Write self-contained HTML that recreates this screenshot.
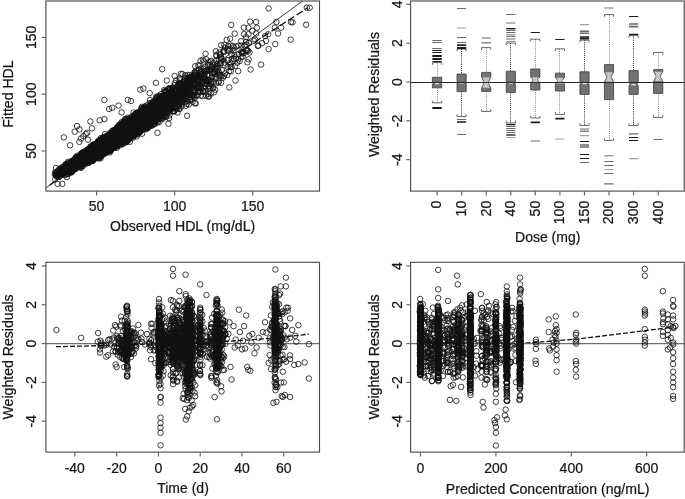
<!DOCTYPE html>
<html><head><meta charset="utf-8"><title>Goodness-of-fit plots</title>
<style>
html,body{margin:0;padding:0;background:#fff;}
body{width:685px;height:499px;overflow:hidden;}
svg{display:block;will-change:transform;opacity:0.999;}
text{font-family:"Liberation Sans",sans-serif;fill:#161616;stroke:#161616;stroke-width:0.22px;}
.pt{fill:none;stroke:none;marker-start:url(#m);marker-mid:url(#m);marker-end:url(#m);}
</style></head><body>
<svg width="685" height="499" viewBox="0 0 685 499">
<defs>
<pattern id="hx" width="2.5" height="2.5" patternUnits="userSpaceOnUse"><rect width="2.5" height="2.5" fill="#ececec"/><path d="M0 0L2.5 2.5M2.5 0L0 2.5" stroke="#808080" stroke-width="0.45"/></pattern>
<marker id="m" markerWidth="8" markerHeight="8" refX="4" refY="4" markerUnits="userSpaceOnUse" overflow="visible"><circle cx="4" cy="4" r="2.75" fill="none" stroke="#101010" stroke-width="0.8"/></marker>
<clipPath id="c1"><rect x="45.9" y="1" width="273.6" height="190.1"/></clipPath>
<clipPath id="c2"><rect x="410.6" y="1" width="273.6" height="190.1"/></clipPath>
<clipPath id="c3"><rect x="45.9" y="262.3" width="273.6" height="189.8"/></clipPath>
<clipPath id="c4"><rect x="410.6" y="262.3" width="273.6" height="189.8"/></clipPath>
</defs>
<rect x="0" y="0" width="685" height="499" fill="#ffffff"/>
<g clip-path="url(#c1)">
<line x1="42" y1="190.8" x2="307.3" y2="-2.4" stroke="#222" stroke-width="0.9"/>
<polyline class="pt" points="137.6,122.6 115.3,135.4 107.8,142.5 188.9,91 257.9,46 88.3,160.2 110.1,144.7 107.1,141.4 96.5,152.7 104.7,141.8 119,130.6 138.6,132.4 124.6,127.3 99.3,154.5 99.3,146.8 131.7,129.4 132.5,125.6 101,151.7 163.7,105 156,112.1 146.6,120 136.8,122.7 80.6,165.7 146.3,120.8 142.7,114.8 87.8,157.7 112.2,107.8 64.1,167.4 84.2,159.6 93.6,155.8 104.1,152.8 73.4,162 123.1,134.9 76.9,166.7 162,104.5 122.9,135.8 138.3,126.8 89.9,155.6 135.1,125.6 69.1,167.4 147.5,107.2 107.1,151 132.6,126.7 116.3,139.9 100.9,148.1 100.2,154 212.2,73.6 115.6,142.4 89.8,158.8 170.6,98.4 194.9,74.5 72.7,162.9 218.2,68.5 63.8,137.4 103.3,140.5 187.3,80.3 120.9,133.5 78.8,162 164.2,101.9 117.7,135 97.9,151.4 142.2,117.3 118.5,134.4 218.9,73 108.8,137.4 66.6,167.7 103.7,149.5 125.9,125.8 129.6,134.2 127.6,130.9 146.7,116.9 91.9,153 131.7,121.7 120.1,127.9 127.9,117.7 121.6,112.4 172.6,99 111.5,139.6 100.8,138.1 125.6,129.3 86.6,153 123.7,134.9 196,84.4 105.8,146.6 156.5,109.8 153.1,122.1 62.1,172.1 175.1,102.9 75.1,161 138.7,115.7 149.3,116.9 110.3,141.8 165.2,97.4 160.3,98.1 101.1,149.1 123.7,121.9 149.7,111.9 130.1,128.5 139.2,126.6 106.8,138.2 152.9,117.1 133.5,136.4 65.5,167.9 158.2,108.7 72.2,167 218.3,71.2 144.8,119.9 107,138.8 138,116.4 109.6,141.9 145.3,127.2 59,176.9 111.4,145.5 88.7,152.2 79.6,164 221.2,76.1 110.6,136.1 84.4,155.4 144.5,113 95.6,154.1 186.5,90.3 105.3,146.4 103.2,145.9 140.3,124.5 137.7,128 106,148.7 130.1,123.8 66.5,164.8 114.2,135 93.1,153.6 110.4,148.7 163.4,103.3 108.6,146.3 209.2,86.5 82,158.7 109.7,138 133.9,134.9 164.5,103.6 130.5,119.5 148.7,119.1 134.2,123.1 156,117.4 79.5,161.8 215.2,89.7 75.6,162 198.2,81.7 137.1,119.6 90.7,154.6 116.4,137.4 139.6,129.3 112.8,137.1 117.3,142.3 150.6,109.9 108.2,150.8 138.8,124.6 86.2,158.4 190.2,82.6 146.3,126.8 140.3,125.3 130.1,135.2 82.8,161.7 203.5,68.8 129.2,129.1 113.6,133.7 167.5,105.4 71.6,161 106.6,145.5 78.9,162.9 108.4,137.1 117.5,145.5 88.7,162.8 65.2,171.1 99,149.4 107.9,135.9 106.5,138.5 120.4,138.7 114.9,133.7 82.3,161 141.9,109.4 227.7,67 154.5,108.9 137.7,133.5 85.1,157.6 180.5,98.7 126.7,128.1 99.5,147 150.8,112.1 105.1,138.1 187.6,82.2 101,149.6 104.1,138.6 309.7,7.7 119.2,132.8 195.2,72.9 139.5,121.5 99.5,147.4 179.7,78.5 104.1,153.4 180.9,83.4 71.2,165.6 141.3,125.5 261.1,64.6 56.1,173.8 128.3,129.8 84.9,154.7 146.1,118.8 126.4,137 115.2,144.9 139.9,127.7 141.4,130.6 181.6,90.3 89.7,149.2 172.2,99 99.9,143.2 151.7,112.6 138.2,129.8 113.9,139.7 155.6,113.9 100.2,142.4 156.5,117.1 124.7,127.7 106,143.4 116.8,138.9 154.1,124.3 176.6,97.4 83.2,155.6 77.3,161 153.9,105.1 101.6,142.5 81.2,155 81,164.2 117.1,133.1 157.5,132.8 117.9,143.7 81.5,159.9 78.9,158.1 108.9,139.4 87.4,155 160.8,103.5 86.9,154.7 115,132.2 95.3,157.5 130.2,121.2 81,153.7 100.5,143.2 133.1,134.7 157.7,106.1 126.7,122.9 154.4,119.3 190.9,78.6 130.9,127.7 117.7,139.3 154.7,114.2 116.9,134.7 110.5,140.4 128,131.5 123,139 111.9,142.4 164.9,112.4 193.6,77.6 151.7,116.9 106.6,144.8 104,144.5 188.6,82.1 102.3,145.4 163,113.1 164.3,90 153.2,112.5 57.7,171.3 77.1,165.3 114.2,139.6 174.8,85.1 138,116.8 122.5,125.1 187.6,74.9 168.1,106.6 86.6,154.5 139.4,124.5 239.6,61.1 107.3,144.6 80.4,156.9 110.4,139.3 72.9,163.8 82.5,158.2 126.8,121 111.4,148.4 150.1,114.2 170.1,103.5 100.1,143.2 72.1,161.5 111.2,145.8 75.8,164.6 68.1,166.9 149.5,116.5 106.4,139.7 123.6,133 153.3,116.9 105.9,151.9 186.2,93.9 147.8,116.7 241.1,41.2 93.3,155.4 118.4,139 93.8,153.6 59.6,174.9 179.2,93.9 153.5,113.7 150.4,113 109.1,109 78.6,162.2 124.3,132 137.3,130.7 228.1,46 118.9,131.8 124,128.7 99.2,156 154.3,112.9 83.4,162.3 168.8,105 127,133.7 201.1,89.1 178.8,96.1 94.5,150.8 97.1,153.8 138.1,118.4 122,135.6 101.6,153.5 89.7,157.6 151.3,119.1 115.3,133 135,123.5 104.3,148.8 119.8,136.1 128,129.9 162.8,118.8 74.8,167.4 128.4,132.6 81,165.1 181.4,102.1 123.4,138.8 62.3,172.2 169.4,92.8 213.3,88.1 82.3,160.2 149.7,93.1 154.4,115.1 79.2,165.3 143,116.2 178.2,98.2 106.4,144.9 81.2,159.6 147.3,116.5 140.2,122.7 90.4,157.5 118.5,137.6 88.5,158.1 102.7,143.9 131.1,125.2 121.9,127.6 140.8,126.8 131.3,131.8 98.3,150.2 165.2,108.4 148.6,117.6 169.8,101.3 161.4,99.5 193.4,87.6 179.1,104.4 111.8,139.3 157,104.1 137,124.6 125.6,131.1 153,106.9 85.9,157.9 121.9,138.4 121.1,136.7 108.8,135.3 123.5,124.4 148.3,125.6 77.6,160 63.5,170.2 92.3,160.4 151.2,123 79.5,159.9 118.5,105.6 173,87.4 91.6,156.7 120.2,128.3 111.7,140 105.2,142.3 75.2,163.4 151.2,124.9 120.3,134.5 111,141.2 181.5,101.9 117.7,135.2 159.3,103.5 68.9,165.3 100.6,146.5 133.8,122 132.3,131.2 124.7,139.5 144.2,120.1 132.7,127.6 242.8,56.5 113.9,140.9 111.2,133.5 247.4,62.3 120.7,131.6 89.2,154.8 66.9,169.1 175.4,97.4 90.9,146.8 100.2,153.5 58.5,175.2 174.7,83 101,147.8 104.2,151.1 116.9,147.8 86.7,158.8 115.4,138.7 181.5,101.5 117.1,131.4 186,87.2 136.5,122.3 145.7,118.7 110.3,147.3 165.4,116.4 174.2,100.9 166.6,107.4 90.1,155.6 156.2,111.7 104.7,147.5 66.4,169.9 138,131.4 101.5,149.8 242.2,52.8 91.2,146.7 194.9,103.3 181,93.7 93.6,149.7 91.7,151.5 138.2,121.4 109.4,137.1 155.9,82.8 71.8,167.7 139.9,129.4 155.2,102.1 112.2,142.3 103.5,147.7 99.5,146 76,168.5 132.3,120 136.7,118.7 84.1,157 165.2,107.6 131.3,128.6 132.1,124.9 160.5,104.6 152,121.2 147.2,115.6 131.8,126.1 139.6,123.9 207.2,81.5 91.6,147.9 103.6,147.7 105.2,142.8 182.3,98.3 76.1,166.3 137.9,134.3 77,163.1 114.1,142 140.9,114.4 109.1,140.9 118.9,124.9 78.8,160.7 122.6,123.4 119.6,135.5 145.4,114.5 102.3,145.2 159.2,111.5 110.7,149.7 151.8,115.3 166.2,92.5 118.1,133 93.7,149.1 99.2,140.8 106.7,147.8 158.7,104.1 150.1,116.6 92.4,154.4 134.2,118.4 87.9,158.5 105.8,138.9 81.3,155.8 230.2,48.9 94.2,145.4 188.7,84.9 70.3,167.6 93.4,156.5 57.7,173.2 116.4,135.9 70.8,172.1 109.9,142.3 70.6,166 157.9,109.1 143.2,120.2 128.7,130.3 160,109.2 118,136.9 174.2,97.7 85.9,153.9 121.5,139 80.2,161.5 92.4,153.6 70,167.2 144.7,128.4 116.9,142.5 114.7,141.9 137.8,116.9 135.2,122 115.6,134.5 130.9,128.2 137,130 92.7,145.4 129.3,126.1 143.6,116.5 117,131.1 172.2,88.3 215.4,70.6 112.6,142.6 256.1,33.5 120.9,128.4 107.1,147 68.1,169.4 109.5,138.7 64.3,174.4 168.2,95.7 140.2,126.6 104.7,144.5 98.1,153.5 221.4,59 138.5,127.9 156.7,98.6 74.1,159.9 234.5,55.3 114.4,132.1 119.3,132 80,161.3 141.3,115.4 179.6,89.9 156.7,112.3 165.2,96.1 83.1,154.3 141.1,111.3 106.8,142.7 90.3,148.6 143.4,114.9 142.9,122.7 104.4,147.8 230.8,45.5 109.3,135.9 120.5,142.1 88.3,153.1 231.2,24.9 130.3,136.4 190.2,93 120.1,136.5 115,143.4 71.7,161.7 98.6,152.4 100.1,153.2 118.1,138.4 91.5,147.1 151.7,107.5 179.6,80.3 91.2,151.4 204.8,67.4 192.2,88.7 151.5,115.7 132,131.1 103.5,144.3 179.5,96.9 113.7,134.6 106,151 98.2,149.7 120.4,136.5 145.8,116.3 67.9,173.9 151.6,109.5 109.4,141.6 85.2,159.7 143.9,128.1 166.7,101.1 105.1,150 102,143.9 103.7,143 117.6,138.4 118.1,128.9 78.6,159.2 241.3,57 106.2,145.9 150.4,124.4 143.6,116.8 103.7,151.4 74,163.7 112.7,139.3 172.9,96.7 113.4,136.5 126.6,128.7 85.2,156.8 98.7,154.3 155.3,104.4 128.4,123.1 166.4,102.3 117.5,136 130.3,120.8 187.1,115.8 136.7,122.6 84.2,151.9 133.9,132 75.8,165.9 96.7,149.2 95.3,152.9 151.4,119.4 161.7,98.1 121,130.9 62.3,174.9 89.4,151 123.9,130.1 132,134.9 120.6,131.2 141,118 69.7,168.1 81.2,159.3 101.5,146.1 98.8,143.8 133.7,116.7 170.2,93.6 95.4,152.1 81,163.5 70.4,171.1 110.8,141 166,106 107.6,136 80,161.5 83.8,157.9 107.4,150 101.2,139.2 89.6,157.6 126.7,121.7 104.1,144.6 119.4,133.5 83.5,161.2 85.1,159.2 110.1,138.2 123.7,129.5 124.7,139.5 109,147.7 56.2,173.4 171.3,109 167.9,102.2 70,166.4 253.9,40.8 71.2,164.2 78.8,163 132.2,130.4 149.3,114.7 145,122.7 119.9,133.9 136.4,122.3 151,125.6 116.8,132 147.3,120.1 123.1,132.5 110.7,137 93.1,155.3 165.8,104 189.9,78.1 120.1,130.6 81,160.5 119,136.5 130.9,126.5 160.6,99.8 112.7,138 150.8,109.7 98,144.5 149.2,121.9 78.6,157.7 69.9,168.6 89.7,150.7 156.1,104.9 109,147 102.6,153 146.7,110.4 135.3,128.7 217.5,65.9 139.8,116.1 69.1,165.3 58.1,170.5 76.3,163.3 93.7,157 200.4,87.8 86.3,158.6 121.8,125.3 176.2,80.4 89.2,155 235,66.2 143.4,114.2 152.6,121.2 85.4,152.2 106.8,142.9 110.2,140.7 98.4,148.9 86,154.9 77.2,166.7 105,143.3 140.9,123.6 86.4,158.1 130.4,124.7 174.3,101.6 137.4,118.2 114.3,135.1 139.8,120.7 182.3,99.3 149.7,110.9 194.9,82.7 139.5,118 120.1,134.4 108.4,146.2 139.9,121 166.5,116.7 90.1,157.5 89.3,155 79.6,159.7 145,122.3 179.7,108.8 207.4,79.9 120.6,135.8 86.7,153.9 116.7,136.7 99.9,143 102.6,146.8 111.7,142.9 84,157.5 156.9,116.9 94.5,150.8 183.8,81 111.8,148.5 135,129.5 193.8,90 132.1,132.1 71.9,162.2 168.4,123.7 173.9,97.5 140.1,128.5 95.1,155.6 141.3,121.7 155,118 178.5,106.5 154.3,108.1 65.5,164.2 78.7,161.1 141.3,111.2 116.7,134.5 182.8,93.6 139.2,129.8 107.2,146.5 227.7,60.3 217.6,64.1 88.5,156.9 117.8,138.1 238.8,54 93.9,148.9 164.7,101.2 116.3,137.8 120.1,132 175.8,104.3 124.9,129.8 98.9,153.5 123.3,133 129,136.7 106,140.5 130.4,127.5 135.5,125.7 130.3,130 172.2,101.8 119.3,128.3 144,128.5 131.5,129.9 147.2,111.6 105.5,141 94.7,146.9 131.9,131.1 102.7,145.8 82.8,162 198.3,65.3 63,173.6 126.3,120.5 99.1,157.4 146.7,120.6 110.6,141.8 105,137.7 248.4,34.2 129.2,135.5 146.8,128.1 113.8,138.3 94,153.5 115.3,131.7 128.9,138.7 103.3,145.5 175.1,103.9 244,27.6 63.7,171.5 119,138 166.5,111 117.4,141.2 93.7,154.8 128.5,129.4 120,132.1 102.6,147.4 136.9,116.5 112.2,145.5 170.3,111.3 68.4,164.4 81,164.8 164.7,91.6 92.8,148.1 145.1,124.6 101.6,148.3 126.3,131.5 135.1,114.1 199.8,76.8 72.3,171.5 101.5,148.5 123.4,140.3 131.2,133 125.3,130.1 102.6,139.9 86.7,158.3 163.5,99.8 131.5,134.4 83.3,159 156.2,103.3 140.9,125.9 156.6,113.9 143.4,126.7 120.4,136 86.6,160.3 138,121.4 197.5,80 104,151.2 79,165.7 131,128.2 216.4,67 75.1,163.6 223.5,51.5 137.3,121.8 91.3,159.5 80.1,161 117.3,134.1 92.3,153.7 82.2,162.6 93.3,146.1 142.6,121.7 110.7,140.8 55.2,172.6 133.2,121.3 102.9,146.9 99,147.6 156.8,99.6 133,123.7 143.7,117.7 55.2,179.4 90.4,157.3 141.9,109.7 117,128 121.3,129.9 206,95.7 104.1,153.3 154.8,106.3 92.9,144.8 126.8,128.4 215.2,76.5 161.5,114.1 55.5,172.5 156.9,114.2 162.7,101.6 80.8,159 105.2,137.7 306.8,7.7 179.5,99.4 161.9,112.4 89.4,161.9 68.8,162.8 131.9,127.5 121.7,131.3 90,154.6 114.9,138.6 67.5,167.5 101.7,153.7 123.8,132.3 138.3,123.8 132,124.6 156.7,118.1 173,101.1 102.9,137.5 145.8,120.2 91,159 96.5,149.2 80.2,164.4 100.3,148.8 106.9,151.8 86,155.3 113.9,141.4 112.8,146.7 210.8,82.9 142.5,121.8 133.8,128.4 160.6,102.2 77.6,166.4 104.3,142.9 87.8,152 75.2,163.3 117.4,131.3 103.9,143 116.8,135.1 180.9,73.8 83.8,160.5 153.6,117 59.5,171.2 120.3,130.6 130.6,137 82.5,160.4 106.8,141.7 70.8,164.5 128.8,125 111.3,141.2 81,156.4 149.6,111 166,101.9 70.5,165.6 164.1,110.1 61.8,174.4 119.5,136.4 84,157.9 110.7,141.8 95.4,145.9 84.3,163.3 162.8,105.7 106.8,145.9 82.6,157 143.5,115.2 103,143.8 156.2,113.4 121.8,139.7 138.7,119.4 104.4,145.3 127.8,131.8 152,111.7 135.6,125.6 104.7,153.7 119.9,138.8 90.8,153.2 156.8,118.5 129.6,136.6 187.9,89.4 80.1,165.4 216.3,55.1 114.1,131 128.1,132.4 108.7,141.2 113.9,144.2 155.5,115.5 250.6,69.5 134,122 123.2,130.3 176.9,96.3 94.8,146.9 66.1,168.7 128.9,118.7 154.5,112.9 184.1,94.9 118.6,139.5 122.5,133.4 90.9,157.1 84.3,161.4 176.2,101.9 72.9,168.8 149.9,114.7 196.3,72.8 69,167.5 84.6,157 144.3,121.4 93.8,154.5 140,115.6 86.7,150.1 114.5,143.2 122.9,136.3 146.3,113.4 151.1,118.2 103.3,142.4 154.6,116.4 104.5,149.4 172.4,101.9 126.4,129 135.3,122.7 116.1,135.4 168.1,101.7 227.3,49.9 188.9,82.7 107.7,136.7 114.1,137.5 106.5,142.8 96.5,151.4 121.2,139.5 172.3,103.4 118.9,144.2 117.9,139.1 102,154.9 80.5,155.3 77.6,162.8 113,138.3 108.4,139.8 120.4,126.2 109.1,135.6 91.3,151.3 119.8,129.5 86.6,155.3 129.2,126.8 83.8,157.8 178.3,87.1 134.9,128.5 57.6,173.9 102.4,148.1 96,151.5 116.5,141.1 84.2,160.4 121.9,137.8 91.9,152.7 96.3,154.2 120.9,135.3 100.2,150.3 172,96.3 139,121.9 132.2,116.2 104.6,141.9 138.8,117.3 103.2,143.4 126.2,131.3 113.2,145 134.4,131.7 121.8,124.3 162.9,104.4 101.1,142.7 77.7,160.3 57.4,176.9 127.2,123.3 102.4,150.6 152.5,111.2 173.3,94.6 102.3,147.9 122.6,141.1 102,142.9 71.8,171.8 96,154.5 61.4,171.6 154.8,114.7 248.4,27.7 57.6,183.9 126.1,138.9 138,114.4 97.1,149.3 134.4,120.9 186.5,88.9 148.1,119.5 139.6,129 104.4,145.5 178.5,96.3 143.7,122.9 92.2,150.5 138.8,117.5 161.4,96.3 97.1,155.5 107.6,144.3 104.5,144.8 131.1,125.6 114.6,131.3 80,159.6 144.1,107.6 136.3,120.4 150.3,110.9 96.2,153.8 107,146.3 128.9,125.4 163.6,105.6 151.4,125.8 99,146.4 147.7,117.4 158.1,113.3 95.1,154 142.2,118.5 146.8,116.2 201.2,81.9 125.9,124.4 145.4,117.3 127.5,128.9 111.6,148.2 112.3,138.6 205.2,91.1 154.7,123.9 91.4,156.3 93.6,147.2 117.8,133.3 93.1,146.2 82.5,160.7 89.4,161.9 121.7,140.4 178.3,96.8 130.3,126 174.9,94.6 151,115.7 134.9,133.3 118.1,131.2 116.2,140 119.1,137.4 135.3,124.2 111.3,143 198,81.4 100.7,146 164.5,98.2 144.6,108.5 216.9,64.4 126.3,127.2 107.1,145.6 158.1,114.5 109.5,147.5 108.6,140.1 76.5,162.2 159.9,110.5 121.5,137.3 128.7,123 144.7,115 100.4,152.8 75.9,161.5 90.5,154.1 85.4,159.1 143.9,128.9 94.1,153.4 141.9,125.4 152.7,109.6 130.3,132.9 138.1,126.9 112.7,141.1 144.2,124.1 153.6,114.7 104.1,153.2 188.8,91.3 110.9,134.7 201.5,74.6 123.8,133.1 120.9,139.3 88.5,153.1 106.7,149.9 103,145 91.2,154.6 174.4,99.3 126.5,125.7 96.6,153.1 84,162 108.4,139.2 155.5,110.1 69.4,167.8 150.1,120.7 174.4,111.3 203.7,88.4 115.9,135.9 139.3,126.8 113,138.2 141.1,115.7 78,166.9 92.7,151.7 109.8,142.7 129.9,125.6 144.7,121.8 128.1,124.4 184.2,82 122.4,133.8 182.3,84.3 71.5,171 92.7,151.1 133.4,126.1 85.4,157 121.3,136.3 90.3,152.6 90.2,151.9 162.2,108.9 181.6,106.6 104.9,148.4 116.6,135.7 101.9,145.8 140.2,128.6 138.3,131.5 122.5,133.1 119.4,133 92.3,160.7 112.2,130.9 131.9,127.9 95,149.6 114.6,138.7 117.6,131.5 99.3,144.2 101.8,151.9 137.3,130.8 168.2,104.6 124.1,131.5 70.6,163.7 127.6,137.9 72.1,171.3 91.1,160.8 101.6,147.3 106.9,144.1 140.8,124.5 105.9,141.4 145.1,112.6 130.3,132.2 85.9,160 163.8,107.6 88.3,155.4 265.1,36.1 139,115.8 109.9,144.8 126.7,142.1 127,122.9 92,151.8 100.4,151.7 145.9,118.6 128.7,127.9 118.3,128.6 159.5,102.5 109.1,138.5 151.3,111.3 100.6,149.3 61.8,170.1 95.5,155.4 131.1,121 110.8,148.5 81.3,160.6 228.2,50.6 114.5,140.1 126.8,136.1 156.1,113.7 290.9,22 134,119.4 111.6,146.1 54.9,174.7 160.6,116.7 102.9,146.5 83.3,153.6 190.1,100 139.6,114 108.2,144.3 118.8,134.6 117,128.1 78.1,160.1 131.8,127 136.4,126.6 131.3,127.4 109.2,151.5 110.9,140.6 74,161.1 86.9,155.7 113.6,143 84.4,160.3 143.9,110.7 71.8,168.2 118.1,140.5 185.8,105.8 153.8,118.1 98.7,151.4 119.8,131.1 99,143 125.1,121.9 83.2,155.6 120.6,140.4 94.6,152.2 95.9,152.7 76.1,165.7 161.8,108.2 120,132.9 129.2,120.1 209.3,86 115.7,146.4 122.1,139.7 105.3,138 111.9,142.5 130,132.4 113.5,136.7 160.4,112.1 93.3,151.8 83.1,163.2 75.4,161 96.8,149.9 89.7,155.1 100.6,145 115.3,140 145.8,127.4 86.7,157.2 130.3,135.6 129.9,136.2 132.4,125.5 117.5,137.4 155,107.6 91.6,155.7 108.9,145.4 172.5,93.6 85.3,157.4 147.9,118.7 131.6,136.8 176.1,102.1 106.5,136.6 86,152.3 83.2,162.6 118.1,130 141.3,115.1 76.8,166 133.9,118.1 98,148.7 168.1,109.1 219.8,54.8 149.9,114.2 71.9,167.7 158.3,113.4 143.9,116.2 75.1,168.7 175.5,99.3 130.8,127.8 85.9,154.2 199.6,75.3 135.5,127.5 117.7,132 96.8,150.6 141.9,126.2 136.1,115.1 154.6,109.7 69.3,168.5 68.4,165.7 139,116.6 100.2,140.6 149.7,103.2 134.9,121.4 132.5,130.9 167.1,104.1 98.6,149.7 184.1,88.8 91.3,149.7 74.6,165 123.1,140.1 166.9,100.9 96.1,155 89.7,155.9 164.6,95.5 68.2,171.7 172.9,111.2 117.7,134.3 152.7,104.5 98,150.8 68.1,170.5 89.7,157.7 97.6,150.3 160.8,96 120.3,137.7 68.1,161.8 115.8,139.2 123.2,136.3 141,127.6 83.8,160.5 121.1,134.1 129.7,132.2 110.9,145.4 121.6,122.2 128.6,128.4 114.3,139.2 135.7,118.5 165.3,110.4 87.9,155.3 110.9,142.5 193.9,83.8 155.5,115.8 94.8,145.1 117.5,136.5 88.3,162.8 92.5,154.6 104.5,144.6 104.5,149.3 150.5,109.2 244.8,45.6 126.3,132.4 99.9,140.1 77.7,163.9 106.3,138.2 133.7,124 72.5,169.2 145,127.2 85.8,160.8 145.5,121.5 81,138.5 152.9,121.8 121.1,139.3 56.2,174.7 91.2,152.7 129.3,131.6 132.6,132.3 81.3,154.5 97.6,146.7 81.4,164.3 56.6,174.2 119.8,125 101.3,146.5 80.1,164.6 74.8,164.6 113.4,145.9 126.7,139.2 121.1,135.9 150.6,120.5 125.3,128.1 218.5,82.6 172,104 162.3,100.4 139.4,118.9 147.7,116.7 105.3,138.5 106.8,148.3 96.2,154.9 126.3,131.5 95.2,153.5 95.2,153.8 137.1,112.6 70.8,166.3 194.3,73 71.4,164.2 156.7,97.9 111.5,144.2 180.3,87.5 105.3,143.7 125.7,124.6 97.3,147.2 108.8,144.9 130.1,133.4 111.2,149.2 87.7,156.8 138.6,121.4 99.1,146.9 76.8,158.3 56.2,175.7 161.2,116.4 141.2,119.8 69.6,165.9 186.9,103.9 88.7,156.4 167.6,95.3 159.4,97.5 77.9,159.8 136.8,118.2 140.6,111.5 165.8,100.7 250.1,21.6 179.1,104.4 136,120 135.7,120.3 135.7,124.9 202.9,90.8 127.1,128.4 76.7,166.2 168.3,89 79.4,164.8 135.1,124.5 104.5,137.1 108.9,142.3 88.2,155.4 185.9,89.4 120.7,128 128.4,128.4 126.4,121 121,131.8 82,158.1 166.3,105.8 112.8,131.2 75.2,163.8 88.8,156.3 151.5,106.8 70.1,167.5 94.3,150.1 170,103.1 130.8,132.5 148.1,116 126.2,133.6 126,128.1 112.7,137.9 102.2,149.4 77.7,159.1 110.1,141.9 71.7,170.7 84.2,154.4 105.8,151.4 136.8,129.3 135,114.5 69.1,164.8 152.4,107.8 91.4,154.1 190.1,99.6 185.6,90.3 88.9,156.7 128,133.3 216.3,83.2 103.8,145.3 96,149.3 85.4,158.9 157,112.7 143.4,88.5 89.9,151.8 137.4,118 143.5,121.3 93.5,153.7 143.3,124.8 110.8,142 84.6,163.5 106.8,135.9 111.4,137.5 190.5,77.9 96.2,148 99.6,142.6 159.2,117.1 134.6,123 205.3,78.7 140.7,118.2 85,155.7 117.8,135 98.8,145.9 82.8,160.8 165,101 144.8,124.4 155.5,106.5 83.7,160 134.6,127.7 174.2,88.8 64.8,171.3 147,114.9 204.4,77 175.6,103.1 219.8,75 96.7,154.6 110.3,150.1 115.2,134.1 113,146.6 86.9,158.8 101.7,151.8 139.9,120.6 120.9,134.2 135.4,127.7 125.5,131.6 86,158.4 148.8,111 128.4,132.8 113.2,138.7 79.9,158.4 107.2,145.7 118.1,137.3 115.3,138.6 115.2,144.4 211.1,69.4 169.3,99.7 100.5,158.3 117,139 126,135.3 149.8,121.6 94,151.4 81.6,158.8 88.6,150.4 110.9,140.9 196.8,88.6 171.3,102 115.5,136.4 160.7,98.7 61.4,174.5 135.4,125.2 152,113.7 134.6,128.6 131.9,122.2 97,150.3 141.9,122.5 131.3,123.5 107.6,146.5 126.9,127.2 78.7,163.2 146.8,118.2 152,107.4 108.2,140.6 95.4,153.7 133.2,123.4 121.3,140.3 118.9,135.7 96.7,148.9 124.7,136.4 126.9,131.4 162.9,102.2 72.9,167.4 203.8,83.4 140.7,125 67.5,167 106.4,145.1 103.5,150.3 140.7,121.7 133.2,131.8 126.5,129.2 230.1,38.7 86.9,150.4 89.2,156.3 136.8,124.3 106.3,144.3 83.9,161.5 173.4,88.4 118.6,136.8 143.9,125.9 129.4,124.6 118.3,136.5 183.1,88.6 142.6,110.9 82.6,155 93.7,148.9 95,158.5 146.5,113 90.2,148.5 100.1,150.2 156.9,106.4 96.8,151.4 106.4,146.6 146.1,125.9 142.4,114.8 161.8,114.9 129,139.3 77.1,163.5 148.6,125.5 110.6,139.9 132.3,118.6 149.3,119.8 75.1,165.6 93.5,145 91.3,147.4 123.6,141.8 127.1,129.5 123.5,127.9 99.2,143.7 139,124.2 88.4,156.6 128.8,132.3 151.5,109.9 124.7,124.4 153.1,116.3 138.8,117.3 115.1,131.8 81.3,159.5 114.4,143.1 124.1,132.1 106.5,147.1 65.3,168.5 141.1,118.7 131.2,126.2 178.6,97.9 95,149.8 126.1,128.6 118.1,128.1 144.9,108.9 80.9,161.1 119.4,142 208.2,96.5 199.9,90.5 102.7,148.2 130.4,133.6 103.4,153 202.3,82.5 112.3,144.9 132,127.4 115.1,141.2 127.9,120.4 100.5,149.2 115.3,144 112.7,148.1 122.3,130.6 78.4,160.4 144,123.7 102.6,140.9 101.6,149.6 94.3,144.4 115.6,137.3 201.2,79.4 167.5,106.8 178.4,88.2 73.7,163.5 119.1,133.9 101.8,149 110.4,142.3 130.2,127.3 109.6,138.4 121,130.4 76.1,163.3 124.1,130.6 124.9,133.5 110.3,147 131.9,125.8 209.1,70 80.6,161.6 178.5,84.7 138.2,125.1 121.1,134.6 123.6,134.1 158.3,98.1 176.8,94.4 96.1,148.9 160.7,109.9 193.7,85.8 107.1,147.7 152.9,124.7 141.7,115.3 112.6,140.9 135.1,126.9 120.7,134.2 99.1,152.9 148.9,112.3 141.1,116.9 116.6,133.6 130.5,134.6 71.8,166.4 63.1,171.9 136.7,136.4 191.1,98.6 128.3,130.6 159.7,106.4 60.3,171.3 109.6,147.4 159.8,103.1 88,152.9 72.4,164.6 111.4,135.8 137.7,124.9 137.7,123.3 88.6,150.5 152.6,115.8 166.3,92.6 144.5,120.1 92.8,159.8 87.1,163.2 123.3,136 171,100 77,164.4 182.5,74.1 83.3,136.2 133.4,133.1 124.2,132.7 187,82.9 74.4,168.7 82.6,159.6 77.7,161.9 108.9,144.1 102.9,147 75.9,157.5 97.9,156.9 77.3,155.7 96.7,153.3 108.3,137.1 85.7,156.1 210,64.8 95.4,146.6 103.7,140.2 95.5,156.3 84.5,158.7 110.1,145.9 121.5,123.3 87.2,154.6 109.7,137.7 138.1,130.4 130.1,134.6 118.8,135.2 130.2,121.2 120,134.3 119.5,138 177.6,112.5 91.1,157.9 138.8,125.5 179.8,82.8 215.9,78.7 169.2,105.3 138.3,119.3 151.4,115.5 73,163.4 177.1,101.2 177.8,95.2 125.6,132.7 111.1,136.2 93.3,152.7 99.9,152.4 147.4,120.1 156.3,102.4 59.4,172.4 129.9,123.1 74.4,166.8 92,155.9 56.8,175.4 127.4,130.6 67.6,167.8 156.2,103.6 121,132 169.6,108.9 197.6,84.5 93.4,149.2 162.2,115 127.4,128.3 80.2,157.1 88.3,153.2 125.2,125.9 211.9,77 120.9,133.8 147.2,116.9 221,56.6 79.7,160.9 221.1,82.7 116.7,145.8 98.8,141.5 179.9,95.2 169.4,115.4 108,144.1 167.6,100 218.8,59 122.2,136.2 195,84.5 150.1,116.5 215.6,69.1 113.5,139.8 116.1,135.4 126.5,123.7 103.8,140.4 101,142.5 57.4,177 193.2,78.9 131.4,128.9 105,146.9 92.1,147.9 113.4,135.9 78.3,160.1 195.1,85.8 233.6,50.4 118.5,137.4 130.5,127.4 153,115.1 78,158.6 132.3,130.9 159.6,114.2 120.2,138.4 130.4,120.4 157,118.9 101.3,146.8 137.2,118.3 110.5,137.5 182.7,82.7 94.3,158.4 169.2,98.7 110.6,150.5 76.9,158.4 113.2,138.8 107.5,145.5 92,155.9 100.9,144.7 162.2,117.9 98.8,140.8 126.9,134.3 99.6,148 119.9,138.3 149.2,115.1 128.4,140.2 77,162.5 124,125.2 139,117.7 129.7,130.8 101.4,140.6 92.8,157.7 154,114 131.3,136.7 99.7,140.1 125.1,134.8 65.4,170 113.9,144.5 141.2,113.6 98.9,141.8 121.9,134 91.9,158 174.4,99.7 108.1,146.8 121.3,138.2 152.5,117 132.4,136.1 117.2,145.2 202.7,96.1 156.1,115.3 101.2,147.2 88.8,159.8 138.5,124.6 156.3,106.6 91,157 109.7,133.1 79.4,159.1 71.2,165.9 106.6,136.4 126,128.5 74.7,160.9 77.3,164.7 88.9,160.8 152.6,102.4 87.2,132.8 114.8,139.8 134.3,125 80.5,160.2 115.2,139.8 158.7,103.2 210.3,87.9 128.9,130.2 73.8,162.8 114.1,134 113.4,145.1 136.1,124.3 129.3,126.9 198.3,83.5 72.1,162.7 195,80.1 122.1,129.8 141.4,114.6 98,150.3 84.6,160.4 150.3,107.2 116.4,138.1 162.2,69.2 155.7,106.1 100.1,150.9 107.5,140.6 118.9,134.2 152.1,108.9 101.8,142.2 211.6,77.1 91.9,151.3 169,88.9 174.1,93.6 157,108.1 123.7,127.7 94.3,149.3 60.2,169.9 102.7,144.4 109.5,134.5 156.3,106.2 163.5,113.3 121.9,133.4 141.6,122.9 169,118.2 119.1,139.1 94.5,146.2 143.5,120.3 112.3,140.8 109.6,144.3 163.2,102.6 246.2,41.9 100.8,148.4 127.5,124.8 246,50.3 155.1,110.9 149.2,109.1 121.1,139.2 90.4,153.7 148.8,116.2 80.4,159.3 140.3,126.9 128.8,123.7 114.7,134.4 90.2,158.6 138.8,124.7 134.3,120.2 142.9,115.2 127,129.3 179.8,92.3 162.8,106.1 125.4,135.8 114.2,134.6 117.5,127.6 96.3,146.4 156.1,96.9 116.8,130.3 64.8,168.1 111.5,147.8 131.4,120.2 113.5,144.6 130.8,128.5 78.9,160.8 117.8,132.1 90.8,153.3 100,140.4 94.6,151.3 143.9,125.7 132.9,126.6 114.4,135.8 87.1,156.1 190,79 95.7,147.1 168.6,101.3 121.1,136.1 123,128.8 122.4,143.3 121.8,136.1 145.8,116.4 120.4,137.5 125.7,131.1 190.7,94.2 70.9,167.2 136.9,124.3 103.3,145.1 113.3,143 159.6,113.3 101.5,150 87.2,157.8 147.4,115.6 166.8,80.6 134.8,116.6 160.5,108.3 93.8,154 87.3,151 135,126.1 200.3,71.7 57.5,176.3 92.8,155.7 126.7,135.7 118.8,131.8 132.6,124.8 145.1,120.3 148.1,113.8 150.1,119.5 109.8,144.3 92.5,153.3 146.3,112.3 131.7,119.6 242.6,53.6 77.1,161.7 120.2,132.4 138.3,116.8 206.2,59.4 134.5,128.5 102.1,145.7 169.8,105.9 138.5,123.8 192.6,101.8 157.8,109.8 204.9,73.7 131.5,130.5 208.3,88.7 133.4,130.2 106.8,143.7 101.3,147.5 90,156 187.5,101.1 114.8,139.6 123.6,132 112.5,139.3 144.6,113.2 71.8,163.2 138.8,124.2 64.7,168.7 97.2,157.4 152.3,115.7 152.5,113.8 164.3,111.5 124.5,120.6 154,115.8 80.7,161 196.3,75.6 94.9,149.1 107.9,148.7 139.1,114.2 126.1,124 159,105.5 62.3,183.9 139.8,120.7 63.1,170.5 105.1,144 116.6,134.6 120.1,133.1 214.3,72.1 142.5,125.3 203.3,91.8 168.5,92.9 167.8,98.7 96.7,146.3 72.5,162.8 144.8,116.3 149.8,118.4 133.1,127.3 157.2,110 113.5,135.9 103.7,153.2 246.5,44.7 108.2,140.6 116.8,131.8 98.7,147.3 107,145.3 96.6,156.7 67.9,169.9 161.9,97.1 107.5,142.3 91.7,153.3 211.6,69.1 57.7,172.9 126.3,133.3 143.4,117.9 68.4,166.9 85.4,154.5 179.6,91.7 172.3,93.1 69.2,168.9 148.4,122.1 90.3,153.7 82.8,152.8 201.8,71.6 108.7,142.1 88.7,156.8 129.1,130.4 102.8,143.6 135.3,117.1 99.4,146.6 109.9,152.4 97.8,145.6 172.1,101.2 88.1,159.2 132.1,133.9 123.4,127.8 110.6,150.8 154.3,109.2 124.5,140.1 125,131.2 193.4,94.4 160.5,110 122.3,128.5 114.6,140.9 110.1,143.4 177.6,86.8 141.9,122.2 140.5,120.2 144,123.7 184.7,94.4 128.1,137.8 88.3,153.1 208.6,69.9 178.1,86.1 94.4,157.2 117.9,141 142.5,127.4 109.9,146.3 187.7,92.4 132.9,121.5 76.3,161.6 124.4,124.4 134.7,125.5 154.3,119 117.2,138.6 127.5,131.6 70.1,166.9 151.8,116.3 201.2,85.3 165.7,103.1 86,162 145,126.4 92.1,153.4 107.8,143.4 90.9,155 92.4,151.1 99.9,148.5 139.6,126.9 187.5,99.6 92.1,153.7 85.3,158.3 113.9,142.1 134.9,135.2 68.7,169.1 89.7,156.6 102.9,149.2 164.2,103.4 107.9,141.1 140.4,123.2 106,144.6 88,156.1 126,138 97.1,146.7 146.8,117.5 75.2,169.2 109.3,136 151.9,110.9 87.2,154.4 77.3,162.4 179.3,96.5 104.9,147.3 163.4,101.5 86.4,155.1 60.2,170.8 160.5,117.3 111.1,140.7 170.1,100.5 115,136.9 164.5,91.9 74.1,163.8 177.7,99.8 140.3,89.7 115.4,141.5 169.5,94.9 111.7,135.9 201,68.5 119.1,130.6 120.9,130.6 135.6,132.3 107.7,142.4 134.5,121.9 154.1,119.5 109.1,142.8 91.3,159.7 129.2,132.7 149.9,106.9 138.1,118.3 182,88.5 146.3,128.2 99.2,146.3 65.8,172 131.7,122.1 61.9,170.4 127.7,124.2 79.5,156.8 116.7,137 85.6,161.6 95.8,150.3 94.8,151.7 120.4,136.9 76.9,160.7 100.1,143.3 132.1,127.6 172.6,101.9 81.8,159.5 98.4,147.1 80.6,160.5 101.5,148.4 122.5,135.4 268.2,34.2 156.2,100.7 126.5,128.8 166.9,100.7 149.3,111.4 117.7,139.5 248.7,42.8 152.6,104.6 172.3,108.3 188.8,78.5 112.5,137.8 120,145.4 172.4,89.5 80.9,158.8 149.4,115.3 201.5,76.8 114.2,144.6 71.3,166.6 117.9,141.4 110.1,134.6 100.4,145.2 135,124.5 92.5,145.5 141.9,119.4 143.6,110.1 248.6,59.3 140,132.3 129.8,132 88.2,148.9 133.9,128.5 159.2,108.9 118,138.8 166.9,108.4 205.5,53.8 142.6,117.6 117.6,142.5 211.2,60.8 146.3,115.2 164.3,99.7 152.6,116.8 98.5,146.8 121.3,134.9 151.8,120.3 148.1,126.6 146.8,123.6 91,154.8 144.2,126 89.7,149.5 128.2,122.4 60.8,172 200.6,83.4 93.7,145.7 133.2,118.2 149.1,115.5 135.3,116.1 210.8,93.5 99,147.5 126.2,135.8 129.2,131.6 93.8,152.6 126.5,122.7 150.4,112.6 143.3,117.3 134.8,130.6 84,151.8 87.1,155.3 162.8,103.3 122.7,132.6 132.5,134.5 118.1,141.2 218.7,81.5 160.1,107.2 230.8,71.3 106.8,149.4 149.1,107.9 82.6,156.3 123.1,135.1 159.7,106.7 187.8,77.9 145.9,117.2 162.8,111.7 59.2,173.7 187.7,79.3 135.7,119.2 107.5,145.9 92,145.9 90.5,158.1 163.7,101.5 82.2,155.5 135.6,122.4 95.2,156.4 67.4,169.4 92.3,153.4 80.5,165.7 193.2,79.4 142,106.8 105,143.8 146,125 203.7,81.5 116.6,135.3 115.5,136.6 119,129.9 148.8,121 88.6,158.5 123,139.8 62.8,173.3 62.5,169.5 83.6,152.4 123.2,133.4 146.4,114.2 102.2,150.6 112.9,133.3 118.4,131.7 129.5,127.1 73,165.3 145.6,126.1 56.5,173.5 144.1,119.6 105.5,146.2 125.7,138.4 106.4,147.3 113,141.4 114.8,138.8 126.5,135.1 141.4,123.4 133.5,117.6 106.1,149.2 72.2,163.9 93.1,149.9 104.3,143.3 132.6,121.5 84.9,160.7 134.6,116.2 82.7,162.5 93.2,160 98.1,146.4 112.7,140.8 124.3,128.3 144.3,128.1 126.3,125 188,83 92.7,150.4 130.3,127.3 106.5,143.8 128.5,131.4 171.9,107.8 160.7,99.8 90.4,156.8 107.3,141.6 92.9,156.8 125.2,125.9 152.4,112.8 173.1,96 181.5,89.8 174,106.8 87.6,150.9 136.4,122.9 114.6,145.7 132.6,128.4 124.2,138.9 119.1,133.2 72.2,161.9 90.5,148.1 127.9,137.3 102,149.5 242.6,52.3 128.5,121.1 119.3,143.7 76.3,159 141.2,125.2 126.1,142 121.9,132.3 112.5,142.2 108.1,147.5 204,75.7 107.3,142.2 189.9,85.4 119.1,136.2 151,104.9 180.5,83.9 61.1,168 96.7,154.3 159.5,109.9 165.8,94.4 121.5,133.2 62.3,169.1 121.4,131.1 113.9,136.3 119.4,133.2 100.9,153.1 143,118.3 122,136.5 194.5,79.7 151.8,112.4 119.9,137.9 99.8,152.4 107.5,136.2 181.2,101.2 133,131.4 158.6,95.9 149,111.7 106.6,139.8 106.2,148.9 111.2,137.6 133.5,119.7 86.1,157.7 82.7,154.5 80.9,156.7 111.4,137 129.8,141.8 165.9,97.9 83.7,154.5 106.8,144.4 157.6,114.7 166.2,112.6 139.9,121.7 157.6,111.9 64.1,166.5 132.3,127.6 158.8,115.7 98.7,144.4 121.1,136.9 231.7,67 209.7,80.1 119,127.8 95.5,150 110.4,150 179.2,95.5 121.4,136.3 129.6,131.4 115.9,144.4 106.2,152.6 109.8,143.3 148.5,120.4 88.8,149.2 121.9,131.7 99.3,151.8 154.9,107.3 93.1,151.8 165.3,105.2 164.7,105.6 165.2,99.3 112.1,146.2 103.5,148.2 77.7,164.6 61,171.4 159.7,103.8 120.3,133.3 181.8,87 107.9,139.9 163,96 101.3,148.9 141.6,123.4 126.7,130 75.5,163.8 129.2,118.5 99.7,144.2 115.5,140.6 108.8,145.7 173.2,98.9 114,138 118.8,135.1 114.3,138.2 64.9,168.6 87.9,161.2 92.6,153.4 82.8,163.4 120.1,143.4 160.7,102.9 127.9,130.7 223.8,50.8 86.4,151.6 89.1,156.1 91,153.6 157.6,121.6 186.6,85 113.6,132.8 103.9,149.3 98,150.9 127.3,129.6 72.1,164.6 82,163.7 130.9,121.6 84.1,161.2 127.6,127.1 95,150.6 105.9,142 148.2,118.1 155.4,109.1 107.3,141.1 85.5,158.1 136.9,121.5 111.9,138.6 94.5,151 235.5,80.6 117.6,127.3 135.6,129.2 136.9,125.8 89.8,150.9 103.4,147.4 212.6,87.7 120.9,133.8 211.7,67.2 114.8,136.9 150,100 161.7,104.7 95.5,154 151.1,107.7 109.8,144.1 65.1,175.1 188.3,89.5 102,144.6 77.5,162.6 82.4,156.9 146.6,105.5 170.7,103.2 170.1,98.2 111,136.8 106.1,140.2 138.7,125.7 67.4,174 82.1,161.3 149.2,113.1 109.7,144.4 111,141 101.8,140.6 147.2,119.2 159.2,101 95.8,147 99.5,146.2 135.7,120.5 96.5,144.5 82.8,157.5 281,27.6 105,134.2 130.7,121.9 133.1,131 88.1,155.4 123.6,135.2 232.8,46 148.6,114.6 130.1,127.9 144.1,113.7 117.1,134.8 207.2,70.1 79.5,160.1 110.4,138.3 157.3,97.1 142.8,118.9 123,125.4 232.9,61.2 97.5,147.7 178.6,102.3 148.4,114.8 77,165.6 115.7,145.5 176.9,101 164.1,114.9 142.4,117.7 274.8,27.6 83,161.4 129.8,130.7 131.9,127.6 160.8,102.6 97.3,150.9 100.5,149.1 83.7,164.1 107.1,139.4 141.1,117.1 95.4,150.5 110.8,144.6 114.7,144.6 86.9,162.7 174.4,103.4 77.6,162.5 120.5,125.3 97,155.3 120.7,138.1 168.3,99.1 64.5,170.5 118.6,128 96.8,148.8 71,167.3 153.6,109.8 129.5,128.8 94.5,145.3 78.3,158.8 104.3,147.1 127.3,139.6 105.7,147.8 113.1,139.8 117.7,131.8 70,171.2 111.1,136.8 112.2,135.6 82.2,158.5 151.8,113.9 99.1,155.2 160.1,117.7 93.5,153.9 195.2,66.2 141.4,116 93.7,154 162,110 72.6,165.4 88.3,156.4 178.7,106.1 197.7,87.1 166.8,110.9 118.9,131.4 86.3,155.2 133.1,132.9 117.8,133.6 131.5,131.3 119.5,130.8 141.6,117.2 117.6,145.8 177.2,98.4 142.1,120 97.7,146.8 71,163.3 75.4,162.7 109.5,137.9 106.4,143.2 137.8,113.5 173.2,111.3 138.8,113.6 99.9,150.1 249.6,52.5 144.1,112.6 68.1,166.4 149.1,108 89.9,156.3 92.9,160.9 95.3,154.8 205.2,70.9 67.3,171.1 78.7,160.4 139.1,115.9 109.6,144.7 160.7,108 135.4,120.4 83,156.2 93.1,152.3 82,157.7 130.1,137.1 94.9,158.1 67.2,169.4 166.8,113.1 172.7,101.3 72,165.8 106.2,149.2 88.5,159.3 154.6,119.1 102.2,142 119.5,137.4 108.4,137.1 111.7,147.2 82.6,162.2 80.2,163 167.3,107.5 132,120.3 126.2,129.8 81.7,158.1 241.4,51.8 98.7,154.4 201.6,74.2 197.1,95.7 134.9,124.4 110.1,142.2 221.2,45.2 170.6,108.8 189.4,92.1 145.9,129.4 109.8,141.9 128.4,124.3 174.8,102.3 105.7,147 103.7,145.3 92.3,159.6 145.1,106.8 156.2,117.2 135.8,116.7 78.2,156.9 152.2,116.4 155.7,107.7 91.9,128.3 163.9,95.6 199.6,75.8 138.5,120.6 119.4,133.2 98.6,149.4 123.3,128.3 126.9,134.6 181.6,91.5 135,121.8 111.3,140.3 147,113.9 154.9,109.6 95,153.5 129.5,126.8 95.9,154.3 171.5,98.6 81.6,161.4 70.1,163.9 104.1,148.7 126.3,127.3 85.8,158.6 127.5,125.2 110.3,141.1 256.1,22 155.3,108.7 190.8,76.9 156.8,107.9 121,130.9 170.6,101.7 140.3,130.6 112.2,138.4 170.5,89.2 146.1,115.4 186.2,98.2 115.5,136.8 89.4,157.1 78.2,163.7 100.9,155.5 102.6,147.6 190.6,83.5 119.7,133.7 160.1,107.3 108.6,138.7 121.4,130.4 130.2,119.4 144.3,123.9 85.9,158.2 97.3,148.6 115.4,133.8 85.4,162.7 158,113.6 118.1,126.7 119.1,130.9 156.1,101.5 164.2,98.4 85.9,153.5 120.7,129.8 101.2,151.6 138.1,125.5 107.3,149.2 124.8,124.3 133.8,131.8 125.8,132.3 238.2,59.5 123.8,139.6 70.8,171.8 130.1,129.7 195.3,76.6 88.8,159.9 99.5,147.7 101.9,148 123.7,131.5 158.3,105.9 144.1,111.3 89.2,158.7 135,125.2 85.9,157.7 198.2,86.4 71.5,164.6 101.4,156.5 105.9,141.5 103.7,150.7 120.3,134.5 136.5,126.6 146,121.2 133.3,122.8 149.1,122.4 221.2,57.6 81.6,159.2 89,159.8 126.7,139.5 103.3,148.4 88.6,156.2 110.5,139.7 193.3,76.2 108.7,141.5 131.1,131.7 97.2,153.6 105.2,137.2 148.7,108.9 155.4,107.3 101.7,148.2 86.3,157 244.5,52.5 105.9,144.5 111.3,134.9 96.6,145 112.1,138.2 121.8,130.1 63.5,172.7 114.8,129.7 118.3,130.8 125.5,137.5 93.3,152.2 129.8,134.4 107.9,145.6 197.5,75.4 120.7,142.1 118.5,126.7 118.1,129.1 80.5,164.2 118.2,137.1 129.6,129.5 168.6,98.3 125.7,119.5 105.5,146.3 106.7,137.8 182,103.7 100.9,148.3 190.5,97.1 131.4,118.7 108.6,142.8 83.3,153.1 112.2,148.3 124.4,126 132.8,132.9 215.2,74 89,152 88.8,157.4 158.4,106.7 199.3,69.5 122.3,138.6 116.7,140.6 138.3,121 187.7,88.3 157.6,115.6 160.9,105.6 86,159.7 137.4,127.5 65.7,168 102.5,141.6 211.2,80.9 124.9,130.6 162.4,115 70.2,168.8 106.7,151.4 87,152.7 163.4,111.8 100.2,155.2 88.4,154.4 125.1,126.3 176,107 135.3,124 117.8,130.2 122.4,133.3 128.4,135 108.5,137.2 87,161.8 91,148.2 108.4,147.4 129.8,125.5 138,115.4 126.4,134.2 143.3,119.8 98.5,145.4 130,126.4 96.6,151.6 155.1,110 117.7,133.7 237.2,62.7 125.6,142 129.9,122.7 102.6,143.5 85.7,158.8 120,132.2 110.4,142.3 78.2,161.8 146.2,118.7 147.3,118.4 147.3,110.2 143,119.4 111.2,137.3 104.9,141.5 145.2,117 145.3,121.9 162.6,105.2 136.1,124.2 130.2,123.2 119.5,131.2 119.4,127.7 229.3,87.4 151.7,116.2 71.3,166.8 86.1,159 111.9,136 97.7,146.6 99.3,147.9 63.6,170.5 123.1,123.2 88,159.8 66.4,172.3 125.7,141 104.1,138.3 128,132.5 109.5,150.5 164.6,107.7 125.9,130.5 139,113.3 148.5,120.7 102.3,146.8 109.4,135.5 125.2,130.9 62.3,167.2 214,92.3 133.2,122.4 110.4,148.4 110.5,140.5 167.5,96.1 122.6,131.5 176.4,97.5 182,98.6 117.8,139.5 172.9,96.8 145.7,112.1 72.2,163.9 110.2,149.4 145.6,112.6 68.6,167 127.6,126.8 134.4,123.6 185.1,93.7 84.8,159 112.5,145.1 143.9,122.5 120.7,137.7 89,149.7 67.4,173.4 114.3,140 94.7,153.1 122.3,134.2 131.8,127.1 89.4,160.4 91.4,151.3 108.2,139 61.4,175 164.9,100.8 112.7,141 113.2,138.8 109.6,141.2 123.9,142.2 183.4,94.4 106,144.3 220.3,75.9 151.4,105.6 155.2,114 86.9,154.2 91.8,152.7 110.9,139.3 134.7,122.9 167.7,104.7 150.1,123.7 128.9,130.7 120.9,130.8 99.3,154.3 141.4,108 135.3,122.8 105.5,145.5 106.9,143.8 109.9,143.1 67.3,163.6 67.7,164.9 70.7,172.9 94.6,151.4 90.1,154.5 101.9,141.3 154.6,119.8 68.2,170.9 118,141.2 77.2,159.7 141.5,126 216.4,55.8 117.8,145.3 145.1,119 89.3,158.3 167.9,111.2 96.5,146.5 107,144.9 137.8,115.4 108.5,141.7 137,116.5 108.5,142.3 101.9,140.8 194.9,78.1 88.4,154.7 146.8,109.9 155.3,121.5 108.8,140.6 230.3,64.4 136.9,127 119,127 104.3,139.2 188.3,91.6 136.1,133.9 139.2,120.8 92.4,149.7 139.2,131 127.5,137.7 156.2,114.1 188.2,80.3 96.7,150.2 77.6,162.9 105.9,140.7 153.7,121.8 147.1,125.6 137.6,130.1 121.2,139 75.6,157.6 125.8,137.1 127.5,130 124.4,128.6 117.1,140.6 202.1,74.3 126.6,132.9 119.4,143.5 164.7,107.7 160.1,108.3 127.3,130.3 102.3,150 122.7,137.4 166.9,107.5 121.7,136.6 185.4,90.8 77.2,161.1 59.4,168.9 104,145.9 109.8,138.6 85.2,159.1 103.5,141.6 138.2,125.8 133.4,122.1 83.1,158.4 109.1,141.6 80.1,158.3 152.2,117.2 178.2,94.1 255.2,39.7 108.1,144.4 104.9,145.9 91,161.1 116.6,138.6 97.8,146.1 157.7,115.8 102.8,144.5 147.2,119 181.1,84.7 107.2,150.2 131.6,133.1 139.8,116.9 76.1,165 169.9,108.8 132.6,126.1 121.9,141.7 79.6,165.6 128.9,131.7 148.8,116.6 135.5,119.6 87.1,155.2 82.1,162.8 137.3,123.7 75.5,161.9 100.4,145.4 90.7,153.9 147.2,112 104.3,145.5 83,162.2 102.6,148.1 74,168.6 119.5,134.6 103,139.4 184.3,89.9 117.1,142.6 134.3,117.6 157.2,107.6 104.9,140.6 185.3,92.5 178.6,86.9 123.9,131 208.2,93.9 167,96.7 133,120.6 150.8,117.8 181.1,87.4 77.1,126 133.6,123.4 78.1,166.4 128.1,134.4 157.6,109 93,154 68.9,172.4 93.9,155.4 128,130.7 157.6,109.3 115.6,130.9 149.1,114.7 202.8,81.3 105.4,144.3 104.7,149.4 83.6,163.3 97.8,152.6 202.5,77.4 96.7,153.9 103.4,146.3 159,112.1 112.1,144.9 109.5,135.2 175.5,89.8 127.3,131.6 230.7,67 192.5,80 97.6,148.7 112.5,136.8 130.2,131.5 101.6,142.9 153.6,111 96.8,155.9 122.2,132.1 122.9,128.5 147.9,115.7 119.6,135.7 135.4,127.8 143.6,113.2 83.2,155.3 126.9,135.9 90.4,121.5 137.4,120.8 99.4,146.6 149,115.8 87.3,155.5 144.5,116.6 147.8,122.6 101.1,149.9 97.3,142.9 82.1,159.1 152.3,110.4 224.6,62.6 115.5,138.5 98.5,156 189.9,81.4 145.2,113.9 142.8,122.4 91.7,154.2 122.8,127.9 110,147.5 118.7,136.7 187.8,92.2 128.9,119.2 120,132.1 141.2,122 142.9,116.6 133.9,129.1 139.9,113.9 98.8,147.4 184.2,81.5 94.8,151.9 123,127.1 127.1,129.2 117.4,135.6 113.8,133.6 121.8,126.6 142.7,119.3 71.6,170.8 147.5,118.2 71,170.5 96.4,150.5 121.6,133.4 162.8,108.3 229.2,71.2 123.1,127.3 151.4,115 121.5,130 116.6,134.6 110.4,136.3 220,63.1 99.3,141.7 102.3,153.5 76.1,165.5 188.9,78.1 84.1,160.7 88.6,150.4 115.7,130.7 78.9,158.5 223.9,75.9 99,158.5 166.6,103.8 121.7,125.7 89.4,154.2 160,111.9 149.1,118.8 87.9,155.4 188.1,91.6 99.8,147.7 125.3,136.2 88,139.6 86.1,158.1 108.4,147 121.1,137.1 124.1,133.5 178.9,96.1 143.5,125.5 92.5,151.3 126.8,130.9 190.2,87.5 119.4,138.6 100.3,145 121.3,133.9 163.2,102.9 118.6,141.4 96.9,155.7 100.7,151.6 73.6,169.6 124.8,132.4 140.9,126.6 184,99 165.5,108.5 161.3,111.8 175.1,89.8 110,137.9 215.9,51.2 122.3,128.1 120.1,134.5 70.4,167.9 139.5,113 124,128.1 91.1,151.8 72.7,162.3 120.9,139.5 98.7,152.5 104.8,141.1 107.4,149.7 116.8,132.2 83.5,156.6 151.3,102.9 149,107.4 114.9,131.4 90.7,149.8 130,127.3 178.7,95 116.6,137.6 134.5,134.4 183.6,91.5 133.7,131.3 90.8,158.3 97.1,154.6 73.6,163.3 111.7,146.6 157.4,107 100.8,147.2 199.9,77.6 206.1,80.9 140.9,124.6 94.9,154 66.7,168.2 89.2,151.6 71.2,163.7 258.4,45.5 119.2,133.7 132,129.2 99.2,141.1 138.5,125.6 167.5,100.2 163.3,107.1 127.3,125.3 119.2,136.7 117,142.7 159.6,121.7 163.6,115.6 112.9,134.8 57,174.2 74.9,166.7 101.7,141.8 110,146.4 117,137.9 106,147.5 99.4,150.7 135.5,132.5 129.8,131.1 166.8,99.6 78.2,162.6 94.6,152.3 122.6,132.9 132.8,129.2 80.9,162.3 68.2,166.6 124.4,130.5 118,138.6 87.4,156.4 160,107.2 171.3,89.8 104.2,145.1 181.9,96.9 88.2,154.5 115.6,144.8 165.9,116.7 100.3,148.3 119.5,136 108.6,144.2 104.3,141.5 114.3,143.8 206.5,83 125.5,126.8 116,143.5 120.8,134.4 171.4,98.5 124.4,129 121.8,144.2 113,144.1 143.6,116.4 127.9,131.9 158.7,107.2 99.7,148 119.6,133.2 94.1,150.1 160.2,115.7 151.9,106.5 174.1,111 96.6,147 143.3,113.5 167.9,101.8 123.7,123 105.5,139.3 72.6,169.1 99.4,148.1 97.5,154.3 126.8,122.6 83,161.8 124.3,136.6 131.7,121.3 128.9,126.9 100.4,150.3 144,108.3 152.9,119 195.8,103.4 172.8,96.4 231.4,54.3 75.5,166.3 126,137.2 124.7,132 76,167.4 81,166.7 143.3,107.8 114,141.7 80.5,160.4 184.1,93.5 142.9,120.2 119.9,132.5 139.9,123.1 75.4,164.9 104.3,143.1 98.7,157.3 128.5,123 103.4,144.9 97.4,155.9 104,144.3 191.8,79.8 140.4,121.8 112.1,144.5 144.5,121.6 188.1,82.3 113.7,134.4 96.6,148.7 114.3,135.5 120.4,126.7 176.4,106 66.9,177.1 134.5,115.8 83.7,155.4 111.2,146.8 130.2,123.9 136.6,131 126.1,141.1 136.9,133.5 224.4,51.7 157.5,112.6 145.6,118.1 157.9,111 98.4,151.9 85.6,159.2 157.6,105.4 94.3,156.7 99.1,148 188.7,84 129.7,130.6 172.9,105.3 118.6,131.9 131.2,124.6 129.1,123.8 169.5,97.5 65.7,169 175.7,99.1 127.2,132.2 95.8,146 69.4,171.4 129.6,127.4 230.5,62.7 128.2,123.2 113.2,135 129.4,120.3 101.3,146.7 68.8,165.3 158,111.6 149.7,112.2 117.2,127.3 80.2,161.5 120,137.4 141,124.6 146.2,107.8 141.2,129.9 130.1,125.9 85.6,160.1 70.2,166.2 114.3,146.2 118.3,140.5 63.2,171 169.7,97.4 89.9,148.6 96.7,151.1 139.3,123.4 118.3,127.6 180.9,92 169.9,99.8 103.5,140 153.5,113.2 205.4,85.9 87,162.6 78.6,161 103.3,147.7 109.7,138.1 175.4,90.7 143.5,121 122.5,128.9 111.5,142.2 96.6,150.9 148,111.7 125,130.1 164.3,104.1 99.6,145 102.1,149.3 110,136.7 164.2,101 141.9,124.6 94.1,150.4 164.2,100.9 98.7,152.5 87.4,156.8 136.5,117.6 156.9,115.3 86.5,152.8 132.2,120.4 114.1,139.2 117.9,134.5 132.5,122.8 114.7,139.2 112.6,142.5 104.8,151.1 138.2,119.6 152.6,117.4 105.5,141.8 102.4,145.6 112.1,142.5 120.5,128.4 166.9,109.3 212,66.5 159.5,104.4 123,128.2 157.5,103.9 91.6,152.7 117.1,139.7 193.9,96.8 162.9,101.6 118.9,135.3 133.5,135.3 121.8,135.6 82.1,152.7 167.8,108.4 141.6,121.9 144.6,128 102.5,143.3 87.4,162.6 74.1,168.2 155.8,112.2 128.8,127.2 181,92 210.2,61.5 103.2,147.8 96.5,151 163.7,105.6 133.2,122.2 75.6,168.5 164.1,102.4 141.1,118 72.5,167.9 96.4,149.8 138.6,117.1 162.4,100.3 151.3,104.1 121.9,125.5 115.5,139.4 178.4,97.7 119.4,143.7 126.6,139.9 155.3,105.8 143.5,112.6 111.1,140.5 110.2,141 94.4,150.2 227.5,60.3 99.8,146.3 154.9,117.2 95.3,151.6 92.8,151.6 116.5,133.1 78.2,161.5 156.9,115.6 126.1,136.2 115.2,131.8 60.4,172.1 268.6,49 106.3,147.7 113,141.6 60,169.7 143.8,121.3 86.7,156.2 71.2,161.9 120.3,137 149.1,123.5 90.8,149.5 182.6,93.9 118.1,143.1 95.2,146.4 93.2,153.5 97.7,152.4 139.4,125.9 146.9,114.4 101.6,153.9 175.5,98.5 111,142.1 96.1,147.3 60.8,172.9 101.6,151.9 206.4,70.8 184.7,90.7 79.9,161.6 117.9,134.8 154.6,112.5 70.2,165.8 142,133.7 59.2,171.5 200.6,95.6 104.1,152.1 100.1,140.3 114,143.8 162.8,111.1 186.1,98.6 161.1,110.6 167.6,109.4 142.8,114.4 79.4,141.9 165.9,96.7 98.5,141 123.1,134.6 119.1,143.1 147.9,128.2 126.6,131.2 233.4,47.4 95.9,153.5 95.5,149.7 101.2,152.9 165.2,98.6 98,146.5 150.2,124.2 117.1,136.5 124.3,126 69.6,167.5 113.9,141.4 268.6,8.4 111,144.5 135.8,117.2 107.8,139.8 69.2,172.5 167.1,94.8 149.3,113.8 130.8,122.1 179.1,109 118.8,138.5 121,131.8 89.1,154.2 166.3,98.7 145.1,106.5 137.8,127.5 133.4,130.2 147.5,118.2 88.2,158 130,127.4 112,141.8 180.8,92.5 141.9,127.4 167.7,101.8 87.2,150.3 121.5,143.6 138.7,123.2 77.2,161.8 142.6,120.3 101.8,154.3 78.9,160.2 162.7,108.1 117,138.8 278.1,33.5 132.9,133.4 192.4,85.4 194.8,97.7 146.4,121 68.1,167.9 94.9,152.6 246.9,50 94.2,144.5 74.6,165.3 112.6,142.1 120,136.3 123.7,133.4 132.3,135.3 164.7,109.1 95.6,146.9 171.5,106 120.7,127.3 103.6,146.8 155.4,108.6 100.9,143.2 109.1,142.8 181.4,94.9 126.1,129.5 136.4,113.8 224.6,65.4 183.3,90.7 122.3,128.2 165,98 116.7,141.6 122.7,136.6 153.2,108.7 153.2,113.4 105.7,137.4 91.9,157.8 194.2,75 141.5,116.4 208.3,65 119.5,138.1 244,34.2 162.3,102.9 85.3,158.8 83,166 187.3,93.1 104.8,137.8 171.9,87.9 125,134.1 117.1,138.1 211.5,68.8 160.1,107.6 72.8,164.5 138.7,122.3 104.1,139.2 141.6,127.9 137.8,127 112.3,133.9 156.6,108.2 140.2,124.4 122.2,132.5 158.8,102 116,136.3 119.7,142.4 133,134 74.8,167.9 195.8,84.3 134.1,118.4 125.1,129.7 108.7,143.9 82.3,164.6 105.3,145.8 97.8,147.7 109.1,140.9 166.9,106.9 68.9,170.8 150.4,111.9 127.2,128.3 127.5,122.8 116.6,135.4 83.4,160.7 133.3,134.4 109,143.1 114.9,133.5 89.4,158.1 125,131.2 102.5,150.7 100.6,148.7 164.6,102 116.2,134.7 115.4,134.1 134.9,122.3 98.9,153.9 118.9,131.8 132,130.1 181.3,91.6 90.2,154.8 72.6,166.9 103.8,140.3 118.2,137.9 171.7,96.1 197.9,79.6 158,111.3 119.5,134.4 114.9,135.2 91.7,151.1 142.2,119 107.8,143.7 147,120.8 154.8,104.6 64.3,169.2 158.2,104.3 148.7,117.5 81,167.9 88.4,155.8 74.7,167.6 208.4,76.1 143.2,126.8 121.4,134.6 125.2,132.8 138.9,114.1 126.5,127.2 185.9,84.6 145.3,121.8 144.2,123.3 171.6,98.6 93.8,148.2 138.6,112.2 98,149.7 118,142.2 93.9,152.6 96.1,146.2 71.6,168.6 130.3,135.3 125.2,124.3 71.5,165.4 85.7,160.4 115.4,129.6 108.2,146.2 112.3,137.8 102.9,143.1 119.2,140.4 68.2,169.8 115.3,135.6 99.6,146.2 155.9,105.6 87.2,159.6 74.5,168.7 93.8,157.3 192.9,96.6 127.8,99.9 147.9,120.8 164.1,108.1 203.8,61.5 163.9,100.1 86.7,150.4 156.3,108 105.8,142.6 130.5,125.8 115.3,147.1 144.8,120.9 120.3,135 114.7,134.4 194.1,90.7 106.3,142.1 143.6,124.4 164.2,113.4 104.5,150 108.7,144.3 161.1,94 106.5,142.6 113.4,130.4 96.9,149.5 118.2,129.5 161.2,118.8 152.6,110.2 97.3,146.5 124.8,133.4 72.1,166.3 119.6,135.4 213.3,73.1 96.5,154 225.1,73.4 146.4,115.6 191.3,80.8 79.9,163.1 63.9,171.8 146.2,118.4 103.4,149.9 143.5,115.6 96.8,157.2 90.8,158.7 77.2,163.7 89.3,155.2 150.5,121.4 102.7,144 176.4,89.9 187.4,89.4 77.5,166.2 102.8,146.1 149.1,113.3 174.6,101.2 132.4,127.9 157.4,117.6 144.6,123 198.3,91.8 128.3,128.6 74.4,166.1 113.7,139.6 180.7,91.5 156.6,109.6 138.8,123.2 96.3,158 131.4,126.4 93.5,158 98.8,148 131.3,119.3 117.6,136.8 157.2,120 130.3,132.7 81.2,158.3 92.8,146.6 139.2,131.8 123.8,129.4 165.8,105.9 140.5,124.8 151.8,110.8 119.3,133.1 154.3,114.9 81.2,156.3 128.8,125.2 103.3,149.2 130.2,122.5 59.5,176.8 106.7,145.1 185.2,77.8 131.2,127.6 70.5,168.4 187.1,92.5 88.3,161.6 224.3,44.9 169.2,88.2 88.2,154.6 104.4,99.9 166.4,100.1 209,96.5 103,148.2 127.3,133.6 108.4,135.6 113.4,142.3 130.4,125.1 165.4,107.1 132.1,123.6 96.2,149.9 121.4,128.7 104.9,145.3 68.5,165 89.9,157.4 190.2,94.8 118.8,134.5 91.4,156 206.7,84.1 217.2,72.5 120.4,141.9 108.2,147.7 151.8,112.5 100.9,145.1 82.5,160.9 96.7,143.8 103.8,143.4 139.3,128.3 96,154.3 114.5,134.6 118,134.2 220.2,57.4 105.4,142.3 95.4,153 121.7,135.6 104.9,143.8 78.1,165.5 159.8,107.2 116.9,143.6 87.5,159.5 202.8,59.7 175.8,99.1 150.7,116.3 110.8,139.3 127.4,131.5 136.2,118.9 142.9,121.2 248.1,51 124.6,131.3 104.4,119.2 173,97.5 74.4,159.9 131.9,119.6 183.2,99.8 94.3,144.8 106.8,142.8 65.5,164.9 122,134.8 129,129.9 92.8,149.8 111,146.2 162.6,115.4 121.6,131.5 150.3,113.7 64.7,168.4 117.1,140.3 197.3,88.2 93.1,156.5 164.1,108.9 186.1,95.6 93.8,146 107.5,146.5 204.5,78.3 86.5,160 72.4,161.1 141.1,119.8 122.7,132.9 94.8,148.8 93.4,153.5 69.2,167.3 79.3,164.4 92.8,145.8 93.7,150.2 195.1,90.5 147.8,121 113.8,134.3 114.9,137.1 76.9,165 185.1,75.4 226.7,40 171.6,94.7 125.1,141.7 185.7,92.6 154.8,114 187.2,92.2 106.5,147.5 85.9,156.2 97.5,141.8 115.5,138 90.6,160 138.7,114.4 234,59.1 100.3,149.4 125.4,126 122.8,132 87.7,160 121.2,138.7 82.3,158 211.6,84.4 133.2,125.3 68.2,167 130.6,128 136.2,120.2 103.1,144.9 131.6,128.5 170.5,92.2 151,105.8 158.7,100.1 81.7,162 129.9,131.3 105.3,152.6 75,158.9 176,98 94.9,148.6 164.6,110.9 102,143.7 238.7,45.5 119.1,132.3 238.2,71.1 83.3,160.7 155.7,120.7 81.8,162.2 139.7,111.6 145.8,109.9 124.9,127.9 78.8,158.3 70.7,168.9 113.9,132.3 82,158 128,135.6 164.7,103.4 145.8,114.3 123.6,123.4 129.1,132.1 167.4,109.6 103.2,140.5 137.7,118.7 168.3,112.5 95.8,148.6 174.5,95.7 136.7,128.7 221,63.4 109.7,144 90.1,157 126.2,139.6 152.6,107.3 98.4,146.4 108.7,146.5 79.4,129.4 119.6,127.6 161.2,105.4 208.3,79.9 105.7,144.1 113.7,146.5 178.1,86.1 85.7,134 150.7,114.9 101,143.5 156,105.5 130.5,137.7 80.7,163.7 74.2,166.7 111.4,141.8 131.7,119.3 150.3,120.2 110.3,142.2 132.6,131.8 171.7,101 122.6,136.2 131.3,123.7 126.8,132.6 84,153.3 131.3,126.2 153.9,110.6 213.6,82 113.2,138.6 139.2,121.1 115.4,132.6 91.7,153.4 145.6,124 109.8,142.4 73.8,166.8 118,128.9 104.3,148.3 155.5,110.7 123.9,140.7 120,136.7 107.9,143.8 123.1,138.7 101.2,155.5 185.4,101.9 97,150.1 97.4,152.6 194.9,71.8 104.8,146.6 138.2,125.4 172,101.4 206.4,79.9 124.9,132.3 117.3,137.6 122.2,140.6 115.8,140.1 98,151.7 141.5,109.9 77.9,165.5 292.5,22.3 117.6,140.4 173,103.6 125.9,127.7 117.6,137 123,133.8 290.7,39.7 106.4,139.8 115.6,146.2 85,163.7 140.2,121.1 139.3,125.5 150.5,112 127.9,139.2 160.4,99.8 113.1,138.9 164.9,106.3 121.7,132.5 135.2,117.2 124.2,123.6 93.8,151.8 111.1,141.7 133.1,129.9 99,149.9 160.2,106.4 120.2,137 63.7,169.6 93.1,151.2 112.1,139 147.1,119 136.7,130 137.9,119.1 155,112.4 190.8,88.3 256.9,27.7 117.6,135.6 102.4,139 91.9,153.3 90.8,152.1 146.9,125.1 134.1,120.5 130.9,101 91.9,154.5 149,108.1 155.1,111.4 227.2,75 138.3,132 125.3,121.4 137.5,115.1 171.8,92.3 160.2,107.9 138.6,121.6 114.4,141 109.5,149.1 129.3,135.3 140.2,127.8 86.2,152.9 97.8,153.1 159.4,103.6 122.3,140.9 90.7,155.1 127.4,123.8 170,98 159.8,111.4 56,168 61.7,172.7 117.3,140.4 186.1,87.7 154.5,109.4 236.1,58.8 94.3,152 120.7,136 190.1,76.7 135.5,129.1 118.8,137.9 136.4,125.2 111.6,137.8 131.9,122.8 180.9,88 111.7,148.5 163.9,109.9 107.6,136.1 116.2,138.3 146.6,118.6 172.7,100.5 117.4,131.8 144.8,117.7 162,103.7 114.2,146 123.2,132.1 94.2,152.3 165.7,91.8 119.6,138 111.7,148.3 165.4,105.2 109,148.2 101.8,145 78.2,165.1 148.8,110.9 90.9,155.9 106.3,137.2 121,133.7 95.6,155.2 145.7,120.3 90.2,147.3 133.2,121.3 141.1,119.7 124.4,136.3 109.3,140.4 128.6,126.2 104.6,140.3 117.4,142.3 107.2,145.9 145.8,126.5 111.7,138.9 130.7,124.2 85.9,163.2 92.1,153.6 135.2,129.9 72.5,162.1 217.6,75 93.6,153.3 148.8,113.1 106.4,148.4 142.6,117.3 113.4,132.1 135.5,130.8 199.6,65.7 134.1,134 86.3,157.6 140,123 132.8,137.9 80.4,164.3 97.4,144.5 170.2,88.7 165.9,90.8 169.6,88.3 70.1,145.3 108.6,141.6 105.8,152.7 145.9,110.6 174.6,76 107.9,149.7 195.3,85 115,136.8 172.1,102.8 146.9,120.4 96.5,150 122.2,133.6 156.8,108.2 109.6,144.2 111.9,139.9 70.8,167.6 266,40.8 152.1,105.3 112.1,135.6 104.7,145.8 116.8,132.6 75.5,164.1 145.2,126.3 126.3,132.5 80.5,163 76.9,162.6 121.3,136.2 97.6,147.7 91.9,156.1 122.2,129.1 87.2,159.4 74.7,131.7 116.9,130.7 117.7,145 143.1,109.9 98.3,150.9 149,117 99.7,120.3 173.1,92.4 100.1,151 84.1,160 95.9,152 137.2,121.1 154.8,122.5 105.9,142.1 153.5,101.4 91.9,156 109.9,140.9 138.8,121.5 128.1,132.9 100.7,145.2 78,165.7 131,135.8 119.6,133.4 119.2,129.6 102.6,146.9 92.6,154.5 120.2,128.9 145.3,126 202.4,80.4 132.7,126.2 73.9,165.3 139.8,120.6 66.6,172 112.2,147.2 108.3,141.5 158.5,105.2 117.9,129.9 196.4,70.6 118,133.1 141.3,124.8 109.7,141.9 92.6,156.9 77.4,161.3 159.6,112.9 77.8,165.1 150.2,112 96,152.4 125.7,139.6 137.3,117.4 113.4,140.3 213.4,63.3 130.3,127.3 198.9,87.7 153.3,114.8 161,103 120.6,132.3 157.2,109.5 137.3,121.4 69.9,170.7 100.3,145.3 87.1,156.4 147.2,114.5 123,137.9 106.3,139.2 118.7,131.8 167.6,106.4 127.7,132.9 179.7,92.6 109.5,141.2 82.1,165.5 150.6,104.7 148.4,107.3 234.7,33.6 120.8,141.7 148.8,115.7 127.2,132.9 116.3,143.8 98.1,145.9 200.4,92.1 139.4,117.8 141.9,114.9 99.5,148.1 104.5,146.1 107.4,140.5 124.6,131.9 103.9,151.2 70.8,162.4 208.5,62.3 143.4,126.1 106.9,137.1 103.1,137.8 116.5,137.6 122.1,131.1 148.7,121.8 117,132.6 109.9,134.3 94.8,153.8 223,77.5 127.9,130.2 100.7,148.1 90.4,148.6 96.1,152.5 153.7,114.3 219.7,52.4 69.8,165.3 146.5,113.7 131.6,125.8 94.4,148.9 125.1,138 89.4,158.2 177.9,103.7 143.4,123.2 187.3,93.3 133.5,120.8 122.4,130.7 138.1,112.6 153.8,119.4 166.9,110.7 91.5,146.4 111.7,138.7 78.3,161.8 138.8,119.7 134.4,124.6 83.6,157.1 66.3,168.9 127.9,139.2 98.4,156.2 130.9,130.6 91.7,152.8 120.2,129 128.5,131.5 91.8,152.3 109.9,145 112.3,138.2 112,148.9 131.3,130.7 80.6,160.7 109.3,144.5 114.8,147.7 141.5,122.2 111.7,140.4 127.5,126.1 125.7,134.8 247.4,50.2 157.7,114.9 109.3,145.5 91,154 124.7,130.9 148.8,126.8 89.7,157.5 84.9,160.9 126.3,124.7 167.3,95.1 115,138.4 110.5,139.1 87.3,160.2 90.3,154.1 104.4,145.8 90.6,146.6 139.3,125.6 131.8,124.2 172.1,103.8 132,131.1 122.5,130 224.9,47.5 88.2,153 123.6,143.6 135.9,121.5 157.6,122.6 173.9,107.9 124.4,130.4 88.7,157.6 124.5,140.2 102,144.5 110.1,142.4 122.8,136 91,151 136.3,113.2 193.5,95.2 89.3,154.9 70.1,166.6 120.5,141.9 145.4,118.9 105,147.2 155.1,118.2 85.6,161.7 120.1,138.1 117.4,130.9 195.5,84.6 73.6,168 108.9,141.3 76.7,167.6 113.6,142 77.9,160.5 85,156.8 116.5,145.6 137.5,127.8 84.8,160.5 85.9,157.8 132.7,134.3 64.4,168 167.5,97.1 137.2,123 155.2,102.9 99.6,148.8 86.4,158.1 114.9,142 102.2,151.1 171.8,108.3 129.1,134.2 138,123.8 112.1,137.8 98.5,153.9 117.1,131.5 128.3,134.8 144,117.8 117.5,129.3 169.9,102.4 104.1,144.4 246.1,37 109.2,145.3 94.8,151.1 102.9,149.8 105.1,146.3 123.7,129.3 79.1,161.4 143.3,123.4 216.4,60.7 199.5,73.4 72.3,167.1 118.5,135.1 210.8,71.2 112.2,144 148,119 108.4,139.6 98.5,148.6 124.5,129.6 110.3,146.3 92.2,150.5 140.8,129.6 125.6,137 137.9,115.4 103.4,152.5 132.5,116.7 105.6,142.8 148.7,108.9 119.9,139.5 78,165 97.7,148.5 159,113.6 178.5,83.7 140.2,122.5 113.5,139.6 116.6,138.8 118,137.4 157.7,115.5 131.6,119.1 99.5,154.6 149.1,118.7 189.6,75 133.1,130.6 116.3,136 119.1,137.7 124.9,134.6 94.2,157 78.8,158.3 122,129.8 275.3,44.1 102.2,148.2 122.1,133.7 124.4,129.6 126.7,128.2 148.8,115.9 115.2,140.7 161.1,116 79.1,161.7 153.9,116.9 150,108.7 161.2,100.7 115.1,141.1 122.9,130.7 73.7,160.4 125.5,136 90.8,150 241.3,45.5 123.5,130.4 126.2,136.4 80.3,166.9 88.5,160.9 192.2,80.8 94.7,146.4 93.4,153.2 103.6,149.4 92.2,154.8 95.9,146 131,122.7 103.5,148 145.1,127.2 101.6,149.5 127.5,125.4 90.9,157.3 109.8,137.4 83.2,161 100.8,142.5 162.1,115.5 145.6,109.4 102.8,148.2 139.8,126.3 127.3,131.9 140.2,123.9 76.3,160.1 90.1,160.1 187.7,81.4 126.9,121.4 90.3,152.9 90.9,152.2 126.2,130.1 100.2,140.1 163.1,107.5 89.7,151.2 93.8,148.6 144.1,118.1 158,110.2 156.8,115.1 184.5,84 147.7,122.6 76.8,167.2 146.8,120 107.5,142.5 132.5,125.8 131.2,134.1 125.2,119 191.7,94.9 276.4,22 103.3,153.1 139.4,116.5 109.8,135.3 181.6,93.7 87.1,154.7 125.3,137.9 131.6,125.6 154.5,108.4 148.5,119.1 252.3,30.8 120.8,127.7 77.9,166.5 180.7,86.4 129,119.8 221.9,70.1 194.6,92.3 67.2,165.1 119.3,129.1 196.8,95.3 124,125.1 187.4,78 164.3,113.5 114,135 120.2,131.4 74.2,169.1 61.5,172.4 125.5,123.4 122.2,130.1 111.9,132.8 128.9,133.4 60.2,173.2 175.2,105.7 153.7,104.1 126.7,131.5 78.1,160.3 180.7,84.1 125.3,135.4 161.6,111.4 116.5,136.8 109.5,149.7 200.5,60.6 159.1,98 119.1,135.2 118.9,135.7 83.2,161.1 87.4,152.8 157.3,117.1 119.6,128.5 90.8,157.3 236.5,46.4 111.4,143.5 154.7,110.2 156.9,109.6 161.1,101 107.5,145.6 144.9,117.7 126.9,130.6 80.2,159.7 127.2,125 188.3,92.1 139.3,117.1 182.4,96.2 93.7,154.2 197.9,92 132.1,132.8 100.7,154.6 113.7,142.6 158.6,106.4 91.3,155 181.4,96.8 153.3,108 131.5,129.9 93.1,155.1 262.1,43.1 110.9,147.7 150.7,118.2 306.1,24.7 144.4,120.2 114.4,137.1 81.9,154.4 97.1,151.8 183,92.2 77.6,156.8 188.9,104.5 135.7,123.6 113.2,140.6 93.1,147.5 133.6,112.5 89.7,149.9 149.1,116.4 127.6,125.7 162.2,106.7 117.7,135.4 114.8,137.4 126,133.9 170.5,93.9 63.5,169.7 132.1,127.7 132.9,122.1 164.9,95.9 100.5,147.2 161.2,118.2 114.6,134.1 143.5,123.2 111.2,139.8 131.4,126.5 160.9,104.9 107.1,138 167.8,101.8 170.4,100.3 124,127.6 93.8,151.1 86.2,157.5 99.8,146.1 150.3,117.3 76.2,163.7 77.6,157.7 75.5,166.4 128.4,133.1 139.4,127.1 176.3,109.2 158.3,115.7 74.6,166 169.8,105.2 125.4,134.3 98.8,142.2 116.1,137.6 120,126.5 220.2,54.4 148,118.2 104.6,146.8 72.1,167.7 144.4,110.5 154.3,108.3 152.9,104.2 84.7,156.9 91.9,156.2 111.1,137 135.8,124.8 162.5,114.1 126.4,126.6 130.9,124.4 157.4,107.5 171.4,93.7 118.3,137.7 126.3,129.8 147,124.1 95.2,150.6 111.2,133.8 121.5,139.4 151.4,110.9 150.8,108.3 101.7,148.8 87.1,156.6 186.3,82.6 109.4,144.1 143.7,117.7 150.3,114.7 85.5,153.2 120.7,134.2 178.3,99.1 106.8,142 83.1,159.6"/>
<path d="M49.8 185.1 L198.1 77.2 L244 49 L308 7.6" fill="none" stroke="#111" stroke-width="1.3" stroke-dasharray="7 3"/>
</g>
<rect x="45.9" y="1" width="273.6" height="190.1" fill="none" stroke="#4e4e4e" stroke-width="1.15"/>
<line x1="96.6" y1="191.1" x2="96.6" y2="195.4" stroke="#686868" stroke-width="1.2"/>
<text x="96.6" y="211.2" text-anchor="middle" font-size="14.0">50</text>
<line x1="41.6" y1="151" x2="45.9" y2="151" stroke="#686868" stroke-width="1.2"/>
<text x="35.6" y="151" text-anchor="middle" font-size="14.0" transform="rotate(-90 35.6 151)">50</text>
<line x1="174.6" y1="191.1" x2="174.6" y2="195.4" stroke="#686868" stroke-width="1.2"/>
<text x="174.6" y="211.2" text-anchor="middle" font-size="14.0">100</text>
<line x1="41.6" y1="94.2" x2="45.9" y2="94.2" stroke="#686868" stroke-width="1.2"/>
<text x="35.6" y="94.2" text-anchor="middle" font-size="14.0" transform="rotate(-90 35.6 94.2)">100</text>
<line x1="252.7" y1="191.1" x2="252.7" y2="195.4" stroke="#686868" stroke-width="1.2"/>
<text x="252.7" y="211.2" text-anchor="middle" font-size="14.0">150</text>
<line x1="41.6" y1="37.4" x2="45.9" y2="37.4" stroke="#686868" stroke-width="1.2"/>
<text x="35.6" y="37.4" text-anchor="middle" font-size="14.0" transform="rotate(-90 35.6 37.4)">150</text>
<text x="182.6" y="230.8" text-anchor="middle" font-size="14.1">Observed HDL (mg/dL)</text>
<text x="13" y="94.1" text-anchor="middle" font-size="14.1" transform="rotate(-90 13 94.1)">Fitted HDL</text>
<g clip-path="url(#c2)">
<line x1="437.5" y1="62.6" x2="437.5" y2="77.3" stroke="#8a8a8a" stroke-width="1" stroke-dasharray="1 1.1"/>
<line x1="437.5" y1="87.8" x2="437.5" y2="102.8" stroke="#8a8a8a" stroke-width="1" stroke-dasharray="1 1.1"/>
<path d="M432.4 64.8 V62.6 H441.7 V64.8" fill="none" stroke="#555" stroke-width="0.9"/>
<path d="M432.4 100.6 V102.8 H441.7 V100.6" fill="none" stroke="#555" stroke-width="0.9"/>
<line x1="432.4" y1="40.5" x2="441.7" y2="40.5" stroke="#6a6a6a" stroke-width="1"/>
<line x1="432.4" y1="42.5" x2="441.7" y2="42.5" stroke="#6a6a6a" stroke-width="1"/>
<line x1="432.4" y1="48.5" x2="441.7" y2="48.5" stroke="#6a6a6a" stroke-width="1"/>
<line x1="432.4" y1="50.5" x2="441.7" y2="50.5" stroke="#1a1a1a" stroke-width="1"/>
<line x1="432.4" y1="52.5" x2="441.7" y2="52.5" stroke="#1a1a1a" stroke-width="1"/>
<line x1="432.4" y1="55.5" x2="441.7" y2="55.5" stroke="#1a1a1a" stroke-width="1.1"/>
<line x1="432.4" y1="56.5" x2="441.7" y2="56.5" stroke="#1a1a1a" stroke-width="1.1"/>
<line x1="432.4" y1="58.5" x2="441.7" y2="58.5" stroke="#1a1a1a" stroke-width="1.1"/>
<line x1="432.4" y1="59.5" x2="441.7" y2="59.5" stroke="#1a1a1a" stroke-width="1.1"/>
<line x1="432.4" y1="61.5" x2="441.7" y2="61.5" stroke="#1a1a1a" stroke-width="1.1"/>
<line x1="432.4" y1="108" x2="441.7" y2="108" stroke="#1a1a1a" stroke-width="1.8"/>
<path d="M432.4 77.3 H441.7 V82 L439.8 83 L441.7 84 V87.8 H432.4 V84 L434.4 83 L432.4 82 Z" fill="#727272" stroke="#3c3c3c" stroke-width="0.8"/>
<line x1="434.9" y1="83.6" x2="439.2" y2="83.6" stroke="#e6e6e6" stroke-width="1.1"/>
<line x1="461.5" y1="49" x2="461.5" y2="74" stroke="#2a2a2a" stroke-width="1" stroke-dasharray="1 1.1"/>
<line x1="461.5" y1="91.6" x2="461.5" y2="116.6" stroke="#2a2a2a" stroke-width="1" stroke-dasharray="1 1.1"/>
<path d="M457 51.2 V49 H466.2 V51.2" fill="none" stroke="#555" stroke-width="0.9"/>
<path d="M457 114.4 V116.6 H466.2 V114.4" fill="none" stroke="#555" stroke-width="0.9"/>
<line x1="457" y1="8.5" x2="466.2" y2="8.5" stroke="#6a6a6a" stroke-width="1"/>
<line x1="457" y1="28" x2="466.2" y2="28" stroke="#a0a0a0" stroke-width="1.2"/>
<line x1="457" y1="37.5" x2="466.2" y2="37.5" stroke="#6a6a6a" stroke-width="1"/>
<line x1="457" y1="42.5" x2="466.2" y2="42.5" stroke="#6a6a6a" stroke-width="1"/>
<line x1="457" y1="44.5" x2="466.2" y2="44.5" stroke="#6a6a6a" stroke-width="1"/>
<line x1="457" y1="45.5" x2="466.2" y2="45.5" stroke="#1a1a1a" stroke-width="1"/>
<line x1="457" y1="47.5" x2="466.2" y2="47.5" stroke="#1a1a1a" stroke-width="1"/>
<line x1="457" y1="48.5" x2="466.2" y2="48.5" stroke="#1a1a1a" stroke-width="1"/>
<line x1="457" y1="119.5" x2="466.2" y2="119.5" stroke="#6a6a6a" stroke-width="1"/>
<line x1="457" y1="122" x2="466.2" y2="122" stroke="#1a1a1a" stroke-width="1.6"/>
<line x1="457" y1="134.5" x2="466.2" y2="134.5" stroke="#6a6a6a" stroke-width="1"/>
<path d="M457 74 H466.2 V81.4 L464.3 82.4 L466.2 83.4 V91.6 H457 V83.4 L458.9 82.4 L457 81.4 Z" fill="#727272" stroke="#3c3c3c" stroke-width="0.8"/>
<line x1="459.4" y1="83" x2="463.8" y2="83" stroke="#e6e6e6" stroke-width="1.1"/>
<line x1="486.5" y1="47.6" x2="486.5" y2="72.4" stroke="#8a8a8a" stroke-width="1" stroke-dasharray="1 1.1"/>
<line x1="486.5" y1="91.4" x2="486.5" y2="111.4" stroke="#8a8a8a" stroke-width="1" stroke-dasharray="1 1.1"/>
<path d="M481.6 49.8 V47.6 H490.8 V49.8" fill="none" stroke="#555" stroke-width="0.9"/>
<path d="M481.6 109.2 V111.4 H490.8 V109.2" fill="none" stroke="#555" stroke-width="0.9"/>
<line x1="481.6" y1="38" x2="490.8" y2="38" stroke="#6a6a6a" stroke-width="1.2"/>
<line x1="481.6" y1="42.8" x2="490.8" y2="42.8" stroke="#6a6a6a" stroke-width="1.2"/>
<path d="M481.6 72.4 H490.8 V77.2 L488.1 82.6 L490.8 88 V91.4 H481.6 V88 L484.3 82.6 L481.6 77.2 Z" fill="#727272" stroke="#3c3c3c" stroke-width="0.8"/>
<path d="M482.5 77.5 L489.9 77.5 L487.8 82.6 L489.9 87.7 L482.5 87.7 L484.6 82.6 Z" fill="url(#hx)" stroke="none"/>
<line x1="510.5" y1="43" x2="510.5" y2="71.2" stroke="#2a2a2a" stroke-width="1" stroke-dasharray="1 1.1"/>
<line x1="510.5" y1="92.4" x2="510.5" y2="123" stroke="#2a2a2a" stroke-width="1" stroke-dasharray="1 1.1"/>
<path d="M506.2 45.2 V43 H515.4 V45.2" fill="none" stroke="#555" stroke-width="0.9"/>
<path d="M506.2 120.8 V123 H515.4 V120.8" fill="none" stroke="#555" stroke-width="0.9"/>
<line x1="506.2" y1="14.5" x2="515.4" y2="14.5" stroke="#6a6a6a" stroke-width="1"/>
<line x1="506.2" y1="23" x2="515.4" y2="23" stroke="#6a6a6a" stroke-width="1.2"/>
<line x1="506.2" y1="28.6" x2="515.4" y2="28.6" stroke="#1a1a1a" stroke-width="1.4"/>
<line x1="506.2" y1="30.4" x2="515.4" y2="30.4" stroke="#6a6a6a" stroke-width="1.2"/>
<line x1="506.2" y1="32.5" x2="515.4" y2="32.5" stroke="#6a6a6a" stroke-width="1"/>
<line x1="506.2" y1="34.5" x2="515.4" y2="34.5" stroke="#a0a0a0" stroke-width="1"/>
<line x1="506.2" y1="36.4" x2="515.4" y2="36.4" stroke="#6a6a6a" stroke-width="1.2"/>
<line x1="506.2" y1="39" x2="515.4" y2="39" stroke="#6a6a6a" stroke-width="1.2"/>
<line x1="506.2" y1="41.5" x2="515.4" y2="41.5" stroke="#a0a0a0" stroke-width="1"/>
<line x1="506.2" y1="124.6" x2="515.4" y2="124.6" stroke="#1a1a1a" stroke-width="1.4"/>
<line x1="506.2" y1="126.5" x2="515.4" y2="126.5" stroke="#6a6a6a" stroke-width="1"/>
<line x1="506.2" y1="128.5" x2="515.4" y2="128.5" stroke="#6a6a6a" stroke-width="1"/>
<line x1="506.2" y1="130.5" x2="515.4" y2="130.5" stroke="#6a6a6a" stroke-width="1"/>
<line x1="506.2" y1="132.5" x2="515.4" y2="132.5" stroke="#6a6a6a" stroke-width="1"/>
<line x1="506.2" y1="134.5" x2="515.4" y2="134.5" stroke="#6a6a6a" stroke-width="1"/>
<line x1="506.2" y1="135.5" x2="515.4" y2="135.5" stroke="#6a6a6a" stroke-width="1"/>
<line x1="506.2" y1="137.5" x2="515.4" y2="137.5" stroke="#a0a0a0" stroke-width="1"/>
<path d="M506.2 71.2 H515.4 V81.4 L513.5 82.6 L515.4 83.8 V92.4 H506.2 V83.8 L508.1 82.6 L506.2 81.4 Z" fill="#727272" stroke="#3c3c3c" stroke-width="0.8"/>
<line x1="508.6" y1="83.2" x2="513" y2="83.2" stroke="#e6e6e6" stroke-width="1.1"/>
<line x1="535.5" y1="39.2" x2="535.5" y2="69" stroke="#8a8a8a" stroke-width="1" stroke-dasharray="1 1.1"/>
<line x1="535.5" y1="90" x2="535.5" y2="118" stroke="#8a8a8a" stroke-width="1" stroke-dasharray="1 1.1"/>
<path d="M530.7 41.4 V39.2 H539.9 V41.4" fill="none" stroke="#555" stroke-width="0.9"/>
<path d="M530.7 115.8 V118 H539.9 V115.8" fill="none" stroke="#555" stroke-width="0.9"/>
<line x1="530.7" y1="32.5" x2="539.9" y2="32.5" stroke="#1a1a1a" stroke-width="1"/>
<line x1="530.7" y1="122.4" x2="539.9" y2="122.4" stroke="#1a1a1a" stroke-width="1.6"/>
<line x1="530.7" y1="141" x2="539.9" y2="141" stroke="#6a6a6a" stroke-width="1.2"/>
<path d="M530.7 69 H539.9 V77 L537.2 80 L539.9 83 V90 H530.7 V83 L533.4 80 L530.7 77 Z" fill="#727272" stroke="#3c3c3c" stroke-width="0.8"/>
<path d="M531.6 77.3 L539 77.3 L536.9 80 L539 82.7 L531.6 82.7 L533.7 80 Z" fill="url(#hx)" stroke="none"/>
<line x1="559.5" y1="48.8" x2="559.5" y2="73.2" stroke="#8a8a8a" stroke-width="1" stroke-dasharray="1 1.1"/>
<line x1="559.5" y1="91" x2="559.5" y2="114.4" stroke="#8a8a8a" stroke-width="1" stroke-dasharray="1 1.1"/>
<path d="M555.3 51 V48.8 H564.5 V51" fill="none" stroke="#555" stroke-width="0.9"/>
<path d="M555.3 112.2 V114.4 H564.5 V112.2" fill="none" stroke="#555" stroke-width="0.9"/>
<line x1="555.3" y1="39.5" x2="564.5" y2="39.5" stroke="#1a1a1a" stroke-width="1"/>
<line x1="555.3" y1="118.6" x2="564.5" y2="118.6" stroke="#1a1a1a" stroke-width="1.6"/>
<line x1="555.3" y1="139" x2="564.5" y2="139" stroke="#a0a0a0" stroke-width="1.2"/>
<path d="M555.3 73.2 H564.5 V77.4 L561.8 80.6 L564.5 83.8 V91 H555.3 V83.8 L558 80.6 L555.3 77.4 Z" fill="#727272" stroke="#3c3c3c" stroke-width="0.8"/>
<path d="M556.2 77.7 L563.6 77.7 L561.5 80.6 L563.6 83.5 L556.2 83.5 L558.3 80.6 Z" fill="url(#hx)" stroke="none"/>
<line x1="584.5" y1="40.2" x2="584.5" y2="71.8" stroke="#2a2a2a" stroke-width="1" stroke-dasharray="1 1.1"/>
<line x1="584.5" y1="94.4" x2="584.5" y2="125.4" stroke="#2a2a2a" stroke-width="1" stroke-dasharray="1 1.1"/>
<path d="M579.9 42.4 V40.2 H589.1 V42.4" fill="none" stroke="#555" stroke-width="0.9"/>
<path d="M579.9 123.2 V125.4 H589.1 V123.2" fill="none" stroke="#555" stroke-width="0.9"/>
<line x1="579.9" y1="24.6" x2="589.1" y2="24.6" stroke="#a0a0a0" stroke-width="1.2"/>
<line x1="579.9" y1="31.2" x2="589.1" y2="31.2" stroke="#6a6a6a" stroke-width="1.4"/>
<line x1="579.9" y1="33.2" x2="589.1" y2="33.2" stroke="#6a6a6a" stroke-width="1.4"/>
<line x1="579.9" y1="37" x2="589.1" y2="37" stroke="#1a1a1a" stroke-width="1.6"/>
<line x1="579.9" y1="38.6" x2="589.1" y2="38.6" stroke="#1a1a1a" stroke-width="1.6"/>
<line x1="579.9" y1="129" x2="589.1" y2="129" stroke="#6a6a6a" stroke-width="1.2"/>
<line x1="579.9" y1="131.2" x2="589.1" y2="131.2" stroke="#6a6a6a" stroke-width="1.2"/>
<line x1="579.9" y1="135.6" x2="589.1" y2="135.6" stroke="#a0a0a0" stroke-width="1.4"/>
<line x1="579.9" y1="141.5" x2="589.1" y2="141.5" stroke="#1a1a1a" stroke-width="1"/>
<line x1="579.9" y1="145" x2="589.1" y2="145" stroke="#6a6a6a" stroke-width="1.4"/>
<line x1="579.9" y1="147" x2="589.1" y2="147" stroke="#6a6a6a" stroke-width="1.4"/>
<line x1="579.9" y1="154.5" x2="589.1" y2="154.5" stroke="#1a1a1a" stroke-width="1"/>
<line x1="579.9" y1="158.5" x2="589.1" y2="158.5" stroke="#1a1a1a" stroke-width="1"/>
<line x1="579.9" y1="162.5" x2="589.1" y2="162.5" stroke="#6a6a6a" stroke-width="1"/>
<path d="M579.9 71.8 H589.1 V81.8 L587.2 83 L589.1 84.2 V94.4 H579.9 V84.2 L581.8 83 L579.9 81.8 Z" fill="#727272" stroke="#3c3c3c" stroke-width="0.8"/>
<line x1="582.3" y1="83.6" x2="586.7" y2="83.6" stroke="#e6e6e6" stroke-width="1.1"/>
<line x1="609.5" y1="14.6" x2="609.5" y2="64.6" stroke="#8a8a8a" stroke-width="1" stroke-dasharray="1 1.1"/>
<line x1="609.5" y1="99.6" x2="609.5" y2="140.4" stroke="#8a8a8a" stroke-width="1" stroke-dasharray="1 1.1"/>
<path d="M604.4 16.8 V14.6 H613.6 V16.8" fill="none" stroke="#555" stroke-width="0.9"/>
<path d="M604.4 138.2 V140.4 H613.6 V138.2" fill="none" stroke="#555" stroke-width="0.9"/>
<line x1="604.4" y1="8" x2="613.6" y2="8" stroke="#a0a0a0" stroke-width="1.4"/>
<line x1="604.4" y1="155.8" x2="613.6" y2="155.8" stroke="#a0a0a0" stroke-width="1.4"/>
<line x1="604.4" y1="161.5" x2="613.6" y2="161.5" stroke="#6a6a6a" stroke-width="1"/>
<line x1="604.4" y1="165.5" x2="613.6" y2="165.5" stroke="#6a6a6a" stroke-width="1"/>
<line x1="604.4" y1="169.5" x2="613.6" y2="169.5" stroke="#a0a0a0" stroke-width="1"/>
<line x1="604.4" y1="173.5" x2="613.6" y2="173.5" stroke="#6a6a6a" stroke-width="1"/>
<line x1="604.4" y1="183.8" x2="613.6" y2="183.8" stroke="#6a6a6a" stroke-width="1.2"/>
<path d="M604.4 64.6 H613.6 V72 L610.9 77 L613.6 82 V99.6 H604.4 V82 L607.1 77 L604.4 72 Z" fill="#727272" stroke="#3c3c3c" stroke-width="0.8"/>
<path d="M605.3 72.3 L612.7 72.3 L610.6 77 L612.7 81.7 L605.3 81.7 L607.4 77 Z" fill="url(#hx)" stroke="none"/>
<line x1="633.5" y1="35.6" x2="633.5" y2="70.6" stroke="#2a2a2a" stroke-width="1" stroke-dasharray="1 1.1"/>
<line x1="633.5" y1="94.4" x2="633.5" y2="125.6" stroke="#2a2a2a" stroke-width="1" stroke-dasharray="1 1.1"/>
<path d="M629 37.8 V35.6 H638.2 V37.8" fill="none" stroke="#555" stroke-width="0.9"/>
<path d="M629 123.4 V125.6 H638.2 V123.4" fill="none" stroke="#555" stroke-width="0.9"/>
<line x1="629" y1="16.5" x2="638.2" y2="16.5" stroke="#1a1a1a" stroke-width="1"/>
<line x1="629" y1="24" x2="638.2" y2="24" stroke="#6a6a6a" stroke-width="1.6"/>
<line x1="629" y1="26.6" x2="638.2" y2="26.6" stroke="#6a6a6a" stroke-width="1.6"/>
<line x1="629" y1="34.4" x2="638.2" y2="34.4" stroke="#1a1a1a" stroke-width="1.4"/>
<line x1="629" y1="133.8" x2="638.2" y2="133.8" stroke="#6a6a6a" stroke-width="1.2"/>
<line x1="629" y1="137.5" x2="638.2" y2="137.5" stroke="#1a1a1a" stroke-width="1"/>
<line x1="629" y1="140.5" x2="638.2" y2="140.5" stroke="#1a1a1a" stroke-width="1"/>
<line x1="629" y1="158.6" x2="638.2" y2="158.6" stroke="#a0a0a0" stroke-width="1.2"/>
<path d="M629 70.6 H638.2 V82.8 L636.3 84 L638.2 85.2 V94.4 H629 V85.2 L630.9 84 L629 82.8 Z" fill="#727272" stroke="#3c3c3c" stroke-width="0.8"/>
<line x1="631.4" y1="84.6" x2="635.8" y2="84.6" stroke="#e6e6e6" stroke-width="1.1"/>
<line x1="658.5" y1="52.4" x2="658.5" y2="69.6" stroke="#8a8a8a" stroke-width="1" stroke-dasharray="1 1.1"/>
<line x1="658.5" y1="93.4" x2="658.5" y2="117.4" stroke="#8a8a8a" stroke-width="1" stroke-dasharray="1 1.1"/>
<path d="M653.6 54.6 V52.4 H662.8 V54.6" fill="none" stroke="#555" stroke-width="0.9"/>
<path d="M653.6 115.2 V117.4 H662.8 V115.2" fill="none" stroke="#555" stroke-width="0.9"/>
<line x1="653.6" y1="139.5" x2="662.8" y2="139.5" stroke="#6a6a6a" stroke-width="1"/>
<path d="M653.6 69.6 H662.8 V71.4 L660.1 76.4 L662.8 81.4 V93.4 H653.6 V81.4 L656.3 76.4 L653.6 71.4 Z" fill="#727272" stroke="#3c3c3c" stroke-width="0.8"/>
<path d="M654.5 71.7 L661.9 71.7 L659.8 76.4 L661.9 81.1 L654.5 81.1 L656.6 76.4 Z" fill="url(#hx)" stroke="none"/>
<line x1="410.6" y1="82.5" x2="684.2" y2="82.5" stroke="#262626" stroke-width="1"/>
</g>
<rect x="410.6" y="1" width="273.6" height="190.1" fill="none" stroke="#4e4e4e" stroke-width="1.15"/>
<line x1="406.3" y1="4.4" x2="410.6" y2="4.4" stroke="#686868" stroke-width="1.2"/>
<text x="401.8" y="4.4" text-anchor="middle" font-size="14.0" transform="rotate(-90 401.8 4.4)">4</text>
<line x1="406.3" y1="43.2" x2="410.6" y2="43.2" stroke="#686868" stroke-width="1.2"/>
<text x="401.8" y="43.2" text-anchor="middle" font-size="14.0" transform="rotate(-90 401.8 43.2)">2</text>
<line x1="406.3" y1="82" x2="410.6" y2="82" stroke="#686868" stroke-width="1.2"/>
<text x="401.8" y="82" text-anchor="middle" font-size="14.0" transform="rotate(-90 401.8 82)">0</text>
<line x1="406.3" y1="120.8" x2="410.6" y2="120.8" stroke="#686868" stroke-width="1.2"/>
<text x="401.8" y="120.8" text-anchor="middle" font-size="14.0" transform="rotate(-90 401.8 120.8)">-2</text>
<line x1="406.3" y1="159.6" x2="410.6" y2="159.6" stroke="#686868" stroke-width="1.2"/>
<text x="401.8" y="159.6" text-anchor="middle" font-size="14.0" transform="rotate(-90 401.8 159.6)">-4</text>
<line x1="437.1" y1="191.1" x2="437.1" y2="195.4" stroke="#686868" stroke-width="1.2"/>
<text x="441.4" y="200.8" text-anchor="end" font-size="14.0" transform="rotate(-90 441.4 200.8)">0</text>
<line x1="461.6" y1="191.1" x2="461.6" y2="195.4" stroke="#686868" stroke-width="1.2"/>
<text x="466" y="200.8" text-anchor="end" font-size="14.0" transform="rotate(-90 466 200.8)">10</text>
<line x1="486.2" y1="191.1" x2="486.2" y2="195.4" stroke="#686868" stroke-width="1.2"/>
<text x="490.6" y="200.8" text-anchor="end" font-size="14.0" transform="rotate(-90 490.6 200.8)">20</text>
<line x1="510.8" y1="191.1" x2="510.8" y2="195.4" stroke="#686868" stroke-width="1.2"/>
<text x="515.2" y="200.8" text-anchor="end" font-size="14.0" transform="rotate(-90 515.2 200.8)">40</text>
<line x1="535.3" y1="191.1" x2="535.3" y2="195.4" stroke="#686868" stroke-width="1.2"/>
<text x="539.7" y="200.8" text-anchor="end" font-size="14.0" transform="rotate(-90 539.7 200.8)">50</text>
<line x1="559.9" y1="191.1" x2="559.9" y2="195.4" stroke="#686868" stroke-width="1.2"/>
<text x="564.3" y="200.8" text-anchor="end" font-size="14.0" transform="rotate(-90 564.3 200.8)">100</text>
<line x1="584.5" y1="191.1" x2="584.5" y2="195.4" stroke="#686868" stroke-width="1.2"/>
<text x="588.9" y="200.8" text-anchor="end" font-size="14.0" transform="rotate(-90 588.9 200.8)">150</text>
<line x1="609" y1="191.1" x2="609" y2="195.4" stroke="#686868" stroke-width="1.2"/>
<text x="613.4" y="200.8" text-anchor="end" font-size="14.0" transform="rotate(-90 613.4 200.8)">200</text>
<line x1="633.6" y1="191.1" x2="633.6" y2="195.4" stroke="#686868" stroke-width="1.2"/>
<text x="638" y="200.8" text-anchor="end" font-size="14.0" transform="rotate(-90 638 200.8)">300</text>
<line x1="658.2" y1="191.1" x2="658.2" y2="195.4" stroke="#686868" stroke-width="1.2"/>
<text x="662.6" y="200.8" text-anchor="end" font-size="14.0" transform="rotate(-90 662.6 200.8)">400</text>
<text x="547.7" y="241.8" text-anchor="middle" font-size="14.0">Dose (mg)</text>
<text x="379" y="94.5" text-anchor="middle" font-size="14.1" transform="rotate(-90 379 94.5)">Weighted Residuals</text>
<g clip-path="url(#c3)">
<path d="M56 346.7 L106.2 345.5 L158.4 343.6 L221.1 341.7 L273.4 338.2 L308.9 334.1" fill="none" stroke="#111" stroke-width="1.3" stroke-dasharray="5 2"/>
<line x1="45.9" y1="343.6" x2="319.5" y2="343.6" stroke="#6e6e6e" stroke-width="1.2"/>
<polyline class="pt" points="275.5,338.1 275.5,390.2 216.4,368.1 200.2,349 188.2,362.5 177,356.5 216,353.6 200.5,359.4 194.5,392.6 217.4,351.4 217.6,306.9 181.4,347.2 159,299 217.9,353.4 275.6,306.7 277.3,387.1 216.2,355.9 190.1,343 170.5,339 275.4,309.6 164.5,335 275.7,327.7 173.1,335.9 190,343.3 216.2,339.2 275.1,338.6 179.6,328.5 175.6,345.1 217.2,348.4 185.2,324.1 268.6,362.9 160.5,417.7 216.6,321.5 177,320 159,335.8 166.6,341.9 185.6,294.1 270.2,342.2 172.9,372.4 278.5,334 172.8,362.9 274.4,320.5 216.7,341 276.1,385.3 193.9,360.5 216.9,327.5 120.6,339.7 211.3,345.3 188.2,381.4 187.3,321 169.9,339.5 161.6,361.1 189.7,367.7 174.2,352.3 217.7,351.5 213.8,345.4 127.6,350 182.8,341.9 160.2,347.2 191.3,328 162.9,375.6 199.9,322.7 160.9,345.3 217.7,348.6 216.6,316.5 131.7,331.3 189.5,353.8 165.9,356.3 216.9,419.3 222.1,337.6 170.5,339.8 124.2,367.1 126.9,339.5 275.6,327 164.3,346.7 159.1,356.9 191.4,354.7 275.5,307.2 159,332.3 282.6,311.2 220.4,329 188.5,361.4 277.7,325.5 200.1,317.7 215.8,371.7 275.8,366.3 159.4,350 218.2,333.6 164.8,317.6 274.6,302.3 124.5,345.8 187.5,365.1 188.9,329.7 188.9,302.4 158.5,351.4 187.3,379.5 127.1,351.2 286.4,307.7 160.7,327.1 127.9,354.7 206.5,295.1 221.9,349.5 276,346.9 190.4,353.8 185.3,371.6 276.1,308.3 282.2,314.1 189.1,344.6 187.3,356.3 146.9,334 187.5,357 216.9,354.5 278.3,339.9 189.4,334.9 127.2,339.4 171.1,355.7 211.1,324.2 160.5,384 220.2,334 159.2,338.5 173.3,349.7 100.9,345.8 276.8,332.5 216.2,352.5 198,339.3 190.1,388.3 273.5,321.2 275,341.7 159.4,331.2 275.3,295.3 135.3,333.2 188.5,340 158.8,308.7 282.5,354.7 188,350.4 190,374.3 187.8,344.9 190.2,311.9 189.4,375.6 125.8,332.9 171.5,345.5 186.2,342.1 173.1,357.4 164.8,339.8 128.9,347.8 187.7,370.1 191.9,315.4 127,375.5 275.7,305.5 170.7,375.3 178.8,340.1 217.1,354 158.9,328.2 177,327 159.6,328.8 127.5,342 165.9,340.9 199.8,365 158.7,356.5 178.8,339.3 217.2,380.2 126.9,351 185.7,340.8 287.6,310.8 159.3,360.3 189.7,335.3 265,322.3 159.3,327.2 191.9,301.8 126.7,340.5 200.2,347.1 159.7,367.8 150.6,346.9 189.7,353.6 118.6,343.8 159.1,334.5 189.8,346.5 127.5,345.9 177.7,367 202.5,353.5 160.3,345.9 179.3,332.4 191,315.3 172.7,332 216.7,336.3 216.8,346.9 159.5,344.5 187.1,356.3 189.8,326 258.7,337.8 159.1,374.9 216.7,366.8 159.5,355 137.7,338.6 200.5,344.1 127.5,344 187.8,340.1 185.6,274.7 179.1,356 172.6,377.3 275.3,300.3 169.5,332.4 159.1,348 254.5,353.3 279.3,316.2 217.3,319.5 159.3,340.3 158.8,341.9 196,330.5 176.7,357.5 218.9,348.1 158.8,321.7 217.7,314.4 285.9,277.6 171.8,356.3 225.1,321.2 160.2,330 190.4,360 200.2,284.4 164.9,338.5 161.9,342.5 189.7,313.6 213,355.1 173,355.9 169.9,356.5 185.5,356 217.4,327 184.4,306.9 200.3,319.8 200.2,339.8 133.5,342.1 208.5,341.8 215.9,375.9 187.4,342.3 163.6,342.6 176.5,354.8 187.7,379.2 200.4,325.2 191.4,354.2 173.9,327.5 216.9,321.7 149.3,344.1 183.4,326.6 211.2,327.5 159.6,326.9 179.3,362.2 162.9,313.7 191.5,374.5 185.9,313.6 159.3,310.5 244.1,326.1 120.9,344.3 173.1,384.1 189.4,358.5 185.6,307.6 217,315.9 149.4,338.9 223.6,336.2 131.7,333.3 166.3,345.2 215.5,326.9 159.5,332.3 262.9,332 220.4,333.4 131,353.9 282.7,359.6 218,356.2 186.1,353.3 159.5,322.8 200.3,331 189.8,383.1 206.5,336.7 159.2,340.4 274.4,327.5 274.8,331.2 274.2,306.7 200.4,315.2 187.8,303.7 176.9,349.8 173.6,325.9 159.1,329.6 160.8,349.3 187.9,315.6 219.7,358.4 218.5,355.9 159.3,322.1 194,374.5 202.5,346.6 187.2,376.6 187.2,323.8 210.6,336.9 159.2,343 187.9,344.3 216.5,368.1 159.1,346 187.2,416.4 181.6,310.5 127.3,367.6 168.5,362 127.6,348.9 200.3,329.5 185.8,382.7 122.3,350.4 217,315.2 175.8,357.8 279,295.1 113,351.3 187.4,322.2 187.5,394.9 160.5,432.8 127.6,339.1 189.8,330.6 275.5,313.3 294.2,364.9 159,363.5 275.5,329.9 161.1,325.6 159.2,318.1 276.1,340 189.8,315.5 283.8,382.4 176.6,349.1 151.1,340.2 160.9,330.5 168.5,346.1 121.2,351.3 159.4,332.2 180.1,318.6 216.4,329.7 189.1,311.9 127.4,367.5 178.8,320 181,340.3 223.1,323.9 187.8,307.2 200.5,329.6 192.9,361.6 217,326 177.2,334.4 274.8,308.9 290.1,397 177.2,354.4 121.8,348 217.5,342.5 161.1,367.4 169.7,340 185.4,307.7 188.7,357.7 187.4,371.8 185.3,371.9 119.5,337.7 190.2,331.4 185.2,345.6 216.8,303.7 187.4,317.1 216.5,334.7 275.2,314.1 274.9,345.5 127.2,336.8 172.5,335.7 158.8,329.5 127,366.1 218.3,337.3 185,373.3 202.3,314.9 187.9,313.4 220.9,332.7 159,334.4 161.1,323.9 216.6,357.8 220.7,337.3 125,351.7 185.7,354.1 161.5,332.6 275.8,327.1 188.2,315.6 159.2,337.2 161.5,354.9 275.4,269.5 173.3,340.6 184.9,345.8 127.9,342.3 173.1,349.3 183.1,326.9 179.3,358.7 185.3,340.4 290.1,318.4 138.7,339.5 274.8,326.7 168,347 197.8,331.3 158.7,374.1 159,314.7 126.5,350.3 127.7,347.1 274.4,343.5 239.9,332 186.7,362.1 177.1,349.2 193.5,373.4 276.8,350.2 275.9,379.3 190.6,331.8 126.7,331.4 187.1,342.9 217.5,357.8 214.4,333.4 184.4,336.5 187.8,345.8 219.8,365.1 217.7,372.5 187.7,324.4 159.1,338.9 159.4,375.6 188.1,316.7 184.5,356.7 184.4,329.6 276.1,341.5 185.7,328.3 212,324.1 184.6,332 275.6,328.3 159.1,360.6 216.3,300.1 189,371.8 209.6,335.6 161.5,330.7 185.9,360.6 185.2,409 190.6,348.7 275.7,352.5 274.6,351.2 217.9,359 158.6,348.6 126.6,349.3 200.3,322.3 153.5,332.1 217.7,362.8 219.9,343.3 217,330 174.9,357.4 188.2,328.6 213.4,331 191.9,369.2 211,342.8 280.5,355.3 192.2,332.1 126.8,348.3 202.7,335.1 159.1,328.2 177.2,342.5 238.9,309.7 250.4,370.8 216.9,344.6 161.2,351 295.3,335.8 187,372.8 200.4,341.3 191.3,338.3 159,362 187.5,322.6 116.8,335.7 99.9,349.4 189.3,360.3 189.5,335.6 298.4,325.2 195.8,328.2 216.8,361.4 218,336.3 217,304.6 190,302.1 215.1,338.3 274.9,376.9 218,351.3 159.1,369.6 128.7,349.9 216.8,358.4 115.9,351.6 188.4,370.9 158.9,339.1 173.4,318.5 187.7,358.5 163.5,330.2 159.5,327.1 159.3,349.5 217,351.5 210.6,347.9 176.4,339.9 202.3,331.5 281.7,396 158.8,326 274.6,310.7 159.3,340 186.9,349.9 192.1,314.2 231.6,379.5 216.4,315.1 185.8,317.4 155.4,350.4 160.8,335.1 120.4,325.2 161.3,335.7 173,361.9 159.2,338.5 117,348.6 159,328.9 190,352.4 159.1,332.5 190.9,378.9 213.9,337.6 174.9,320.7 277.9,351 159.2,315.6 194.2,348.1 183.9,310.5 166.6,348.4 185.6,351.3 174.1,328.3 175,338.3 283.6,335.5 188,316.3 274.6,324.5 170.2,333.9 179.8,340 185.2,331.4 121.2,350.1 158.6,337.1 159.4,325.5 173.3,328.5 181.1,333.1 269.8,338.4 166.6,343.1 190,355.1 182.5,338.6 216.5,303 216.3,345.7 159.1,355.1 116.2,326.7 216.9,339 161.1,357.1 220.3,314.6 272.6,327.2 219.7,324 189.9,361.5 199.8,329.1 214.7,334.2 171.2,332.7 161.8,354.3 161.2,340 129,336.1 167.4,340.8 221.1,360.1 189.7,373.8 126.5,330.5 128.7,347.6 189.6,303 211.5,343.3 129,340.6 277.8,345.1 190.6,378.5 121.9,320.6 188,356.2 183.4,329.5 159.4,336.1 215.9,325.1 275,334.9 184.9,358 216.7,332.9 193.3,375.3 275.4,308.6 277.1,337.6 159.5,332.8 160,361.2 173.3,333.6 200.1,338.9 120.2,353 187.5,359.7 212.4,368.6 199.9,348.9 196.3,349.9 178.8,377.5 275,323 187.9,331.8 275.9,349.9 126.6,350.2 127.5,344 179.2,362.2 274.9,320.7 189.4,371.1 208.4,347.2 159,352.4 119.1,347.8 195.7,345.8 159.1,331.4 127.1,349.4 192.3,337.9 200.1,344.5 187.4,354.9 190.6,324.4 200,341.1 191.9,345.2 197.8,347.7 194,339.9 183.1,354.7 161.1,352.2 275.1,344.3 266.4,332.7 127.9,322.8 172.9,355.9 275.1,363.8 183.8,356.4 160.8,338.3 176.4,334.6 285.4,326 159.4,344.1 189.4,388 189.1,342.3 275.3,342.3 200.2,374.3 122.5,343 276.2,350.5 275.2,340.9 190.2,324.2 187.6,329.8 188.2,388.9 199.9,337.3 159.3,336 178.9,358.6 191.7,330 187.4,332.8 185.4,305.8 191.2,338.4 187.9,371 127.2,366.5 276,331.2 200.4,354.5 190,338.2 218.3,342.7 182,338.6 188.2,377 188.2,353.7 158.4,308 274.3,340.3 159.3,367.7 165.9,363 179.3,291.2 190.1,337.3 185.2,369.4 158.9,376 175.5,349.7 223.5,330.4 181,329.2 127.1,338.6 158.9,328.2 252.4,333.9 216.5,342.3 279.1,304.1 164.8,338.7 160.5,397.1 185.1,365.7 168.3,340.7 160.7,397.1 189.2,334.7 221.5,391.3 177.2,332 183.7,340.8 187.3,349.3 188.2,309.1 178.8,357.5 217.2,304.4 185.7,349.3 217.1,363.2 127.2,312.2 216.2,351.6 172.5,353.3 215.9,356.1 191.9,379.7 217.3,359.5 168.6,323.6 159.4,362.5 162,319.6 216.6,354.9 190.1,336.2 224.2,356.5 189.4,332.4 280.9,331.1 176.3,372.9 175,331.4 217.6,324.8 159.1,352.6 187.1,356 188,397.1 189.5,323.5 187.4,318.7 177.1,342.5 131.2,337 174.8,355.5 186.4,349.9 276.1,341.9 161.8,361.4 274.7,335.9 159.2,343.9 191.8,371.4 159.1,307.8 272.2,326.5 276.2,347.3 198.4,321.3 127.7,353.8 159,348.2 126,345.6 282.2,339 217,335.7 180.9,342.1 191.6,312 275.4,345 173,300.9 126.2,317.2 131.2,342.3 275.7,353.6 189.4,301 220.4,325.1 163.5,344.3 159.4,346.9 158.7,374.8 172.6,338 160.7,335.2 275.2,339.5 189.9,322.3 158.9,320.9 273.5,357.7 190.5,354.6 161,361.2 217.1,371.9 187.3,323.9 187.7,362.9 125.6,353 188.4,347.7 276.2,347.7 187.2,341.2 275.4,353.7 158.9,344.1 286.6,339.4 189.5,377.2 200,327.1 159.3,338.9 177.2,347.9 290.2,337.6 200,343.7 179.2,323.3 282.8,371.7 186.7,347.8 182.9,338.4 217.3,365.2 200,312.6 171.1,323.6 204.8,330.7 126.8,306.6 185.5,336.3 223.2,354.9 216.8,366.2 127.3,309.4 213,356.4 156.1,347.3 211.8,336.3 214.6,397.1 181.1,352.6 187.5,331.1 189.8,339 276.8,325.2 216.9,365.2 183.6,393.7 216.1,352.3 160.5,337.4 159.5,349.2 275.2,360 136,348.4 159,357.3 274.4,319.3 159,345.8 189.7,339.5 175.6,358.7 188.1,351.4 187.8,375.2 192,365.1 187.2,382.9 173,350.4 151,323.7 278.3,314.1 127.3,335.3 171.6,341.2 118.5,343 187.4,352.1 159,320.4 182.9,346.4 276.9,339.5 173.4,356.9 216.8,359.6 161.1,341.6 216.9,348.9 217.3,325.7 183.3,370.3 126.5,347.8 215.9,344.7 216.4,368.4 200.1,338.5 158.7,350.8 281.2,344.7 158.9,369.7 187.5,342.2 214.9,364.6 194.1,326.8 185.4,347.9 178.6,350.2 216.2,339.3 216.9,365.9 159.8,351.8 275.3,322 216.9,332.2 110.9,344.5 275.6,347.1 174.6,341.9 170.9,300 185.2,325.2 222.9,358.1 126.9,346.3 177.1,330.7 193.4,382.4 187.2,330 179.8,339.4 189.4,337.9 192.3,373.3 308.9,344.2 187.1,314.3 126.6,306.6 217.2,342.6 187.6,379.7 189.1,342.3 131.6,331.8 221.7,356.7 161.6,345.4 173.8,360.5 173,268.9 127,326.8 275.1,330.4 127.5,344.7 155.9,341.3 188,375.1 159.3,342.2 159.2,357.1 186,356.8 275.2,300.3 159.1,327.9 127.2,348.9 160.7,378.1 173.6,351.2 225.4,333.4 159.2,347.1 186.9,326.4 189.9,332.2 190.3,334.2 160.8,353.1 185.6,354.4 230.5,366.9 158.7,363 160.7,335.2 200.4,335.1 225.2,327.3 217.3,336.8 221.3,357.5 216.7,310.8 160,323.4 126.1,335.5 170.1,315.7 186.9,352.4 275.1,300.6 185.8,339 121.4,350.6 126.4,343.7 217.4,361.5 160.7,336.5 189.6,330 187.2,351 221.5,344.8 219.6,347.2 190.2,333.2 196.4,340.5 193.5,353.3 129.1,331.2 127,342.7 217.2,361.2 216.7,336.6 217.1,351.4 274.7,318.7 192,333.6 200,371.2 161.5,356.2 187.8,372.1 130,334.7 168.8,353.2 200,337.2 126.4,348 191.7,365.1 179,317.9 108.2,355.2 186.4,319.1 182.7,398.2 161.5,330.5 275.7,325.4 117.7,354.7 279.2,331.7 167.2,343.2 280.7,329.5 159.1,316.4 216.9,299 126.3,359.1 188.7,362.5 159.4,327.1 187.9,322.2 187.7,327.6 154.7,344.9 280.1,293.6 163.6,319 218.6,340.9 179.5,344.6 127.7,368.7 216.6,336.6 180.6,334.5 187,362.7 276.1,358.6 191.7,332.5 280.8,336.6 130.9,357.1 218,337.5 179.1,365.6 190,317.1 185.8,318.1 221.1,386.3 170.8,347.8 160.7,326.9 173.4,339.6 190.4,317.5 189.4,298.5 161.3,344.5 185,361 128.8,354.9 185.8,351.4 187.6,314.1 125.6,350.3 179.3,345.6 173,307.2 216.5,382.7 209.9,353.2 159.4,381 188.3,381.1 213.4,341 223.4,323.3 170.7,333.7 183.2,349 189.8,350.5 159.1,336.5 216.8,368.2 216.9,328.7 200,371 276.9,309.6 275.1,329 132.2,347.5 195.2,385.3 122.3,344.2 221.8,309.5 181.7,363.4 172.5,359.6 165,335.1 296.3,341.7 164,335 189.8,407.6 159.2,325.2 159.7,364.1 127.2,353.2 234.7,347.5 217.1,364 275.3,309.7 161,333.2 182.8,341.7 164.5,353.8 183.3,343.1 160.1,358.4 285.4,326.2 276.2,337.3 186.2,318 126.4,355.3 155.4,331.9 172.5,316.6 183.7,376.9 189.5,330.5 159,302.5 216.2,368.7 218.5,332.7 127.3,376 275.2,334.5 211.1,345.3 127.9,345.9 159.3,337.9 158.9,323.4 275.8,341.6 187.6,343 159.4,316.8 175.2,333.2 216.7,319.1 124.7,347.4 200,353.3 160.9,338.4 189.9,323.2 276.6,332.7 210.8,354.7 279,360.8 170.2,348.8 188.1,311.6 119.8,356.7 187.6,381.5 289.9,355.4 158.6,344.6 189.3,394.2 275.6,301.7 220.5,365.9 216.4,355.1 199.8,339.2 164.9,361.8 130,347.5 284,325.8 210.3,334.6 159.1,359 159.4,330.8 185.2,338.2 276,323.8 104.1,345.5 173.6,380.6 222.8,344.3 190.6,307.6 126.9,310.8 162,345.6 190,364.1 192.4,353.5 200.3,329.3 172.9,340.4 158.7,342.6 170.3,325.7 184.7,343.7 212.5,343.5 162,360.8 173.1,349.3 211.5,354.7 113.3,330.5 189.4,311.6 276.3,339.4 115.4,351.7 136,337.9 178.6,320.2 126.6,324.4 158.7,369.4 126.4,352.2 126.6,338.4 192.1,378.8 218.1,336.9 274.6,336.1 130.2,333.4 191.2,337.1 179.9,349.1 224.2,331.1 127.5,339.7 197.7,325.1 158.8,329.9 187.5,342.9 187.5,359.9 136.3,345.7 161.2,339.1 184.3,329.8 187.7,342.3 192.3,336.7 217.7,345.1 192.1,306.3 189.4,301 215.2,329 191.5,326 159.2,342.5 176.3,312.2 251.4,342.6 209.3,357 185.9,324.3 217.3,335.3 189.7,391.2 274.6,382.7 191.8,406.7 159,333 217.2,331.3 207.3,348.3 158.8,326.9 125.1,349.2 172.1,318.9 222.5,334.5 187.6,319.7 185.7,349.7 158.9,325.4 159.7,344.8 126.9,347.7 176.5,342.8 189.9,378.6 219.6,334.4 123.7,358.8 280,331.2 179.6,341 168,332.9 276,334.8 217.2,331.8 151,359.2 183.8,338.1 215.3,328.6 187.4,356 272,322.8 188.3,349.4 219.6,341.6 217.6,383.6 187.2,338.2 292.2,330 200.2,333.9 159.2,322.5 181.3,365.3 278.1,352.5 218.1,349.1 200,328.1 275.8,309.3 173.2,357.2 159.4,347.4 216.5,336.6 158.8,345.8 179.4,322.5 218.2,346.3 159.1,367 123.6,341.1 177.8,341.3 216.5,364.7 161.1,342.7 198.2,355.5 278.3,337.4 183.3,359.9 185.4,341.9 274,338.1 123.5,359 190.5,375.6 126.5,360.3 177.2,340.8 173.9,344.9 275.6,331 194,360.9 159.2,359.1 172.9,353.7 159.2,372 192.1,345.4 183.7,361.7 188.2,337.7 126.9,338.2 186.2,379.2 211.5,376.5 191.7,312.2 167.5,343.1 219.4,355 216.7,353.9 275.2,349.7 160.5,423.1 189.7,333.6 159.2,305.8 187.9,334.3 126.6,340.7 275.9,334.9 220.5,345.5 183.7,343.9 276.6,324.1 275,314.3 270.8,315.5 188.1,360.4 128,339.6 275,350.4 192.2,371.3 274.5,324.8 189.7,346.8 249.3,335.8 284.3,337.7 170.6,364.8 243,340.7 280.6,340.3 192.9,370 177.2,362.7 217.2,311.1 189.4,329.2 200.4,312.9 190.7,337.3 200.6,337.2 169.7,354.5 178.4,353.6 128,353.9 111.8,339.4 158.9,337.7 189.3,359.3 185.8,325.5 169.3,351.7 271.4,326.6 182,336.1 161.5,350.9 159.4,341.2 161.3,346.3 127.1,356.2 275.3,316.4 126.7,347.3 202.2,345 282.7,346.8 216.6,321.6 275.4,334.8 179.5,324.6 216.6,316.4 161.1,339.6 173.2,369.1 279.8,333 192,302.3 187.2,304.2 217.1,357.2 127.8,348.7 172.7,332.9 189.2,362.7 173,350.8 204.5,349.3 127.1,342.7 177.2,366 217,332 178.4,339.7 177.3,356.8 218.2,351.1 304.7,362.4 217.2,319.6 193.8,333.9 189.3,334.8 159.1,338.8 216.2,337.3 274.8,341.6 217.2,336.5 183,312.1 189.3,333.5 216.5,311.1 161.5,365.5 160.5,445.3 187.8,392.2 191.8,387.4 179.3,338.4 274.8,288.9 193.1,343.9 256.6,347.5 172.8,352.7 185.4,332.1 184.4,357.4 223.5,336.2 161.7,333.2 172.8,344.7 284.6,312.2 159.5,343.8 160.5,388.2 164.6,339.4 216.9,325 163.5,371.2 127.3,341.8 187.6,326 158.7,345.7 207,356.7 178.7,330.1 173,327.9 126,360.1 276,348 215.8,342.4 118.5,351.3 100.6,345.4 187.5,378 113.8,337.6 124,356.9 280.7,286.4 186.9,339.9 215.6,353.5 159.3,348.3 275.8,316 206,345.9 131.3,347.5 189.5,320 216.4,314 189.8,321.1 222.2,312.6 194.4,374.2 276.1,385.1 192,353.2 185.9,338.5 159.4,332.2 159.5,314.9 101.9,344.7 185.6,350 180.6,327.6 160.7,323.9 182.3,344.9 125.3,346.8 125.9,335 159.3,323 189.8,356.2 222.7,339.1 169.3,353.1 127.4,326 216.9,366.5 194.1,349 200.1,338.3 275.2,291.3 178.6,349.6 187.3,345.9 207.3,341.9 274.9,332.9 187.8,317.8 127.1,349.2 116.6,367 190,346.6 187.9,323 200.2,321.2 179.7,349.6 187.6,308.5 161.2,348.2 275.2,337.4 124.5,351.1 173.1,331.4 124.8,320.7 188.4,376.6 159.3,335.5 122,343.2 187.5,337.2 181.7,349.6 216.9,352.5 200.3,341.8 190.5,386.1 278.5,313.6 185.7,358.6 274.8,361.3 159,385.3 274.8,322.6 210.2,358.6 125.7,325.8 216.9,368.1 276.4,331.5 200.1,348.1 278.4,333.7 200.2,352.7 187.8,322.6 274.6,315 158.9,347.7 161.3,333.5 185.8,419.6 126.6,359.3 275.3,293.6 276.1,364.6 218.2,333.7 187.4,313.4 200.3,324.9 192.1,350.2 211.3,376 200.3,375.2 159.6,342.2 217,348 189.2,316.6 187.8,314.1 217.2,346.7 191.6,400.5 175.1,355 159.5,338.1 280.1,321.3 189.9,318 274.9,303.4 216.7,382.2 159.1,333.1 216.6,328.4 127.1,355.4 115,325.1 160.9,370.1 158.8,330.4 200,330.2 275,314.7 226.8,338.7 187.9,301.4 200.2,307.7 275.2,340.5 178.6,346.8 222.6,338.1 186.9,360.2 128.5,354.3 185.5,375.6 189.9,320.7 216.1,347.8 159.3,319.8 127.3,331.5 173.1,353.7 218.3,353.3 158.6,376.2 100.5,340.7 122.1,358.4 126.8,339 187.8,344.4 217,349.7 218.8,365 173,368.8 128,334.6 219.4,352.8 129.7,341.6 167.1,342.9 200,309.2 273.2,338.8 127.4,335.7 217.5,328.7 274.8,312.1 177.1,380.8 177.2,334.2 278.4,337.8 275.6,351.8 203,354 218.1,355.5 205.9,342 275.4,306.7 159.7,339 212.1,317.7 217.8,348.9 186.9,319.8 163.3,333.7 177.1,333.1 192.5,390.7 127,328.7 173.4,330.6 160.9,341.9 158.9,333.4 173.1,333.5 175.3,354.8 127.1,305.8 187.1,358.6 183.9,346 190.5,335 213,352.2 175.6,352.4 276.2,315.5 217.1,356.6 281.6,340.3 188.4,322.4 276.5,401.8 159.5,353.1 223.1,320.5 222.8,370.2 187.8,309.9 200.1,327.2 217.2,345.1 127.2,324.7 165.2,341.5 159,347.1 158.8,321.4 127.2,358.3 161.3,365.3 188.3,363.5 158.8,319.8 189.6,317.3 278.6,342.3 126.7,333 191.5,318.9 274.3,335.8 210.1,342.9 125.3,330.1 275.5,378.7 179,337.8 274.9,307.5 190.1,322.3 127.1,332.8 192.4,337.8 165.1,344.3 178.8,351.4 202,340.8 187.4,361 127.2,361 275,369.8 126.7,358 183.3,342.6 175.9,335.2 119.2,340.5 228.4,333.9 187.2,349.3 200.1,340 275.5,353.3 246.2,315.5 187.5,369.1 163.5,334.3 276.3,328.9 159.4,323.1 159.5,321 191,379.5 126.4,357.5 225.2,343.9 276.1,311.2 189.1,368.1 127.7,311.2 158.4,351.1 200.5,348.4 132.7,351.9 216.9,355.6 274.8,303.6 275.9,304.4 216.4,342.6 191.6,321.9 216.7,303 158.6,336.2 217.7,324.4 158.5,344.8 187.7,378.8 214.3,363.9 159.2,355.5 206.7,341.8 172.8,345.5 275.6,314.3 174.1,337.4 177.4,306.2 187.8,342.6 216.6,327.7 159.4,310.9 269.6,355.2 218.2,326.3 190.3,306 187.4,311 217.9,330.5 242,349.4 106.3,344.9 161.6,350.9 193.8,329.4 223,324.5 162.6,361 176.9,346.9 133.7,332.9 127.5,338.1 123,331.2 159,323.1 184.1,327.4 179.2,354.8 185.4,344 190.1,327.5 187.4,333 177.5,339.6 188.7,344.1 171.3,344 217.1,328 219,315.9 187.7,308.5 161.7,333 132.1,351.4 185.6,389 172.8,357.4 159,358.6 159.3,343.3 200.1,356.9 237.8,345.5 188.2,343.2 187.1,299.8 173.2,335.2 221.4,344.3 221.5,366.3 123.2,339.8 164.2,337.4 183.8,342.8 187.7,319.4 191.4,350.8 191.8,342.5 140.9,332.7 275.4,355.3 274.6,297.2 218.9,348.1 165.3,353.7 216.1,339.1 189.9,363.7 189.5,361.8 162.9,332.9 189.1,345.8 274.9,377.7 275.2,331.6 181.7,338.3 271.1,369.1 199.9,348.8 191.8,348.1 275.9,318.7 196.8,364.8 161.1,364.6 184,399 190,362.5 187.4,359.4 152.4,323.8 280.5,338.9 128.1,342 177.4,317.8 159.3,312.2 158.3,339.3 215.7,336.4 200.3,331 217,335.9 176.1,350.8 200,373.5 192,320.6 159.5,364.6 108.3,340 187.6,306.1 187.4,329.3 153.9,350.4 187.7,365 188,324.2 272.9,302.3 158.8,356.3 185.5,381.5 216.8,332.1 160.7,329.2 274.9,333.6 134.8,335.5 130,342.6 161,341.5 170.8,336.9 275.6,306.7 185.3,352.5 216.9,301.3 216.7,356.7 190.2,384.7 127.1,327.4 162.3,346.4 275.1,331.4 225.4,334.6 200.2,331.5 158.8,344.1 188.7,411.5 275.1,336.3 187.2,354 163.8,340.1 126.7,333.4 275.9,343.6 196.3,340.5 120.5,326.5 216.4,319.3 192.2,338.8 278.7,349.5 202.5,365.2 121.2,336.1 284.1,359.3 160.9,351.6 216.4,344.9 190.1,388.5 188.3,384.9 217,365.6 193.5,326.1 277.1,349.2 187.8,332.9 158.7,365 170.5,337 159.5,334.3 171.2,362.3 186.7,354.3 209.8,341.3 308.9,378.5 114.1,346.8 138.4,325 101.5,342.8 214.8,346.3 162.3,307.3 159.1,332.7 219.4,339.9 173,380.1 158.9,355.7 189.9,344 127.7,327.4 176.8,348.7 275.6,387.1 117.5,339 177.5,336.2 170.2,346.9 149.3,342.9 187.5,355.4 270.4,345.5 158.5,336.2 159,337 282.8,396.9 222.6,319.5 220,347.7 183.8,343.8 185.5,355.9 189.1,374.5 187.4,360.5 290.1,359.1 187.9,332.6 176.9,348.9 159.2,371.6 159.5,356.5 187.3,311.9 185.3,382.8 161.5,333.1 171.4,359.7 187,377.1 284.8,395 124.9,347.6 126.6,334 274.5,369.5 219.5,354.7 173.5,357.2 173.1,318.1 274.4,345 117.7,337.4 127.2,373.7 200.3,341.4 158.5,320.5 187.1,352.6 177.6,368.8 159.3,340.5 133.6,332.9 172.8,359.4 298.4,364 171.3,342.7 158.6,336.8 274.9,372.5 126.9,346.7 216.7,342.8 142,342 217,333.2 173.4,376.2 217,358.2 134.1,353.4 191.9,355.4 180.9,353.6 159.4,365.5 194.8,351.3 179.1,306.3 188.2,355 221.3,337.9 127.5,354.5 130.5,339.4 125.6,354.3 159.8,336.2 161.9,324.6 218,332.5 221.9,323 160.7,352.8 185.3,334.9 158.5,339.1 174,325 187.4,326.1 159.5,331.1 190.6,360.3 270.1,329.5 191.4,327.5 219.1,367.6 186.1,369.2 220.3,328.5 202.4,321.4 217.9,365 275.6,368.6 218.7,348.6 177.6,360.4 181.3,347.2 189.9,306.2 275.9,318.1 279.7,344.7 273.8,329.4 159.3,351.2 158.9,369.9 179.8,336.9 235.7,339.7 190.2,300.2 192,320.5 217.7,356.6 223.6,331.3 179.1,357.9 168,352.8 275.2,338.1 275,321.8 172.7,320.1 187.8,335.8 216.4,332.8 185.7,338.2 159.2,329.9 191.5,317.7 275.1,327.2 280.2,360.9 275.1,356.1 163.5,350.3 190.4,368.5 275.6,310.3 163.4,349.7 220.5,333.5 125.2,346.4 121.1,352.5 216.1,353.9 221.9,330.8 133,328.5 127.6,320.7 275.5,289.6 177.2,336.3 190.5,330.2 181.3,325 217,323 185.5,339.8 175,309.7 200.4,352.9 217.5,365.3 275.7,383.9 187.2,391.7 126.9,323.8 176.5,310.3 178.1,364.5 220.3,350.9 127.1,376.6 173.5,352.8 200.3,350 158.6,330.7 149.7,342.6 188.6,378.7 159.1,351 200.7,352.4 217.6,323.3 158.8,338.3 218.3,359 126.5,354.7 98.1,333 161.4,365.2 276.8,305 275.8,365.5 196.2,337.4 159.5,335.5 128.3,338.4 162.8,334.7 177,340.3 127.3,347.2 174.8,343.6 127.5,334.2 121,316.6 160.5,402.6 222.2,344.2 153.7,333.2 275,334.3 187.4,356.2 174.7,347.5 220.7,345.7 194.3,372.6 183,326.8 211.5,327.2 175.1,345.4 120.7,351.3 159,326.3 106.3,356.7 183.4,358.4 176.9,349.6 186.3,337.2 179.1,344.8 127,351.5 173.4,345.9 191.7,365.5 273.4,402.8 211.6,337 159,367.7 193.9,360 179.1,369.1 159.6,325.4 186.9,400.2 161.4,349.9 159.3,317.9 173.3,318.8 177.4,346.8 178.6,356 217.1,354.1 158.7,338.6 125.7,340.2 159.3,349.4 276,336.4 185.1,323.3 178.7,340.6 183.5,345.7 159.3,335.7 277.1,313.8 189.4,327.7 200,353.1 158.9,374.9 127.7,351.6 185.8,296.1 281,382.5 159.2,352.4 181.3,329.5 217.1,355.3 172.8,360.1 127.1,332.8 200,334.8 191.7,342.9 167.4,334.3 122.2,348.1 179,346.9 189.6,318.8 275.8,297.6 127.3,326 275.6,336.2 175.4,373.2 218.1,354.4 158.9,335.2 187.4,349.3 190.2,359.5 200.3,319.6 160.9,360.8 161.3,334.8 126,343.9 193.5,370 181.4,329.6 159.4,333.6 185.1,355.1 276.3,340.2 183.5,340.4 190.1,367 169.9,347.9 191.8,328.7 187.6,392.8 195.2,396.2 97.8,341.7 211,327.9 180.9,326.4 217,356.6 161.4,351.2 158.7,362.7 188,326 276,327.2 163.4,339.1 217.4,330.3 216.4,351.2 189.6,349.2 217.6,348 200,339.6 164.4,341.6 187.9,336.7 177.6,365.4 161.1,357 276.1,350.5 177.2,304.8 186.9,381.3 189.7,372 189.8,365.9 218,341.5 281.8,337.9 118.7,338.3 183.2,349.9 159.1,339.8 173.9,332.9 159.3,321.9 159.1,337.4 210.6,333.8 212.8,356.8 159.1,349.3 153.4,334.5 159.3,359.3 276.3,327.7 184.9,332.3 275.3,340.6 224.1,369.9 150.1,350.3 278.7,337.6 187.8,341.6 161.3,347.9 170.5,320.9 278,313.2 189.6,349 160.5,427.6 279.5,319.3 200,352.3 177.2,381.8 192.1,363.3 277.4,350.9 277.4,303.4 224.8,334.1 191.8,333.3 127.1,354.6 187.5,359.6 274.4,348.4 159.3,363.6 161.5,330.2 184.8,354.6 171.8,321.6 215.3,359.4 189.7,349.8 166.1,331.5 126.6,357.3 279.2,364 173.1,341.2 275.9,349.9 200.3,365.5 158.6,330.5 151.6,327.9 126.9,360.4 167,337.5 211.4,377.9 200.1,344 274,342.1 187.3,375.4 229.5,322.3 179.3,300.9 126.2,359.1 275.1,297 192.2,326.5 185.9,353.7 273.2,335.6 275.3,303.5 195.9,345.6 126.9,355.9 275,327.5 159.3,370.7 56.4,330 159.1,367.3 129.6,340.5 166,341.1 188.9,397.8 277.4,328.3 200.1,349.6 217,331.2 164,340.1 159.6,316.3 187.5,350.1 190.1,307.8 215.9,305.7 183.6,338.2 177.4,327.6 219,340 271.1,360.4 217.4,343 183,355.1 215.1,353.8 200.2,318.2 275.5,324 275.4,317.1 187.9,344 185.7,374.5 81.1,337.8 174.9,343.8 165,327.3 190.1,358.4 200,337.2 176.9,310.6 218.3,348.3 124,352.9 122.5,340.3 179.9,331.7 276.8,308.1 163.8,365 159.2,354.5 216.6,360.2 163.4,355.9 218.9,327 281.6,312.4 186,333.1 161.3,363.5 187.9,319.8 191.5,327.5 233.6,326.1 192.3,348.5 189.6,346.2 187.4,343.4 212.4,351.7 276.4,334.8 127.2,365.2 191.7,359.8 179.1,355.1 159.2,335.2 200.5,310 126.3,308.4 174.9,334.8 217.2,336.8 185.7,354.8 200,354.2 134.6,345.6 278.7,344 279,347.4 218.8,361.4 155.4,363.2 184.7,348.6 158.7,334.5 127.2,346.4 192.1,356.6 122.3,349.4 277.8,365.3 189.5,371.1 275.5,351.7 136.1,346.3 186.8,316.1 189.5,352.4 288,307.7 187.8,330.1 182.6,372.8 183.5,335.4 159.3,316.6 159.2,374.5 216.9,342.5 286.1,361.7 187.8,345.3 159,359.9 158.7,318.2 159.2,343.2 177.5,317.8 193.9,316 284.4,347.1 136.9,340.4 191.8,343.3 216.8,318.4 194.2,358.6 221.6,334 188,327.6 190,342.4 159.2,329.2 179.7,321.7 193.1,405.1 248.3,369.8 185.7,313.3 276,308.9 273.8,321.8 188.4,344.3 187.6,338.3 119.5,350.9 116.9,347.6 275.4,317.4 185.3,386 217.5,364.2 274.9,330.4 178.5,341.1 187.4,375.3 276,324.2 190.6,378.9 194.2,316.4 217.4,334.8 274.8,348.9 187.1,378.3 271.4,330.1 169.4,331.4 275.3,348.2 187.6,366.8 173.3,361.4 216.3,363.1 279.2,331.3 176.7,352.9 184.9,329.6 200,340.6 275.1,351.7 179.5,350.2 275.5,356.2 131.5,336.6 189.2,354.3 159.3,312.3 189.5,361.7 179.6,334.9 206.2,341.2 150.9,345.3 203.7,327.9 166.4,326.1 274.9,346.2 197.8,335 219.9,337.1 218.8,345.7 217.7,345.4 159.1,330.4 245.1,348.5 162.4,357.6 100.1,352.6 131.7,352.1 214.6,357.6 163.8,348.5 161.2,340 169.3,329.4 159,334.6 127.5,314.2 173.2,321.7 275.5,325.8 217.9,321.1 174.7,344.3 173,275.7 127.1,350.2 179.4,367.6 187.1,369.6 179.5,355.2 172.1,335.3 173.2,363.2 189.5,383.9 218.9,319.7 109.6,339.1 183.4,349.5 187.6,317.4 222.1,361.9 272.2,306.9 185.3,347.5 197.5,326.1 159.7,348.3 187.9,349 187.9,344.8 189.6,305.2 131.6,348 285.9,286.4 172.8,349.7 188,309 158.7,377.2 180.6,354.4 217.1,333.7 218,367.1 183.9,356.1 127.5,339.9 141.4,338.7 218.1,316.5 219.1,326.1 188.1,353.2 189.9,357.2 172.7,351 275.7,318.2 247.2,366.9 187.1,342.6 192.2,327.8 187,374 171,339.7 187.7,324.4 180.9,324.8 276.6,357.1 183.6,354.4 161,315.4 178.9,358.7 127.2,346.8 200.2,344.1 191.9,306.2 159.7,365 217.4,300.6 276,329.8 120.1,341.8 127.7,327.3 122.9,342.6 115.6,364.5 217.1,360.3 144.8,344.5 279.8,334.7 214.2,313.9 216.4,323 164.2,362.9"/>
</g>
<rect x="45.9" y="262.3" width="273.6" height="189.8" fill="none" stroke="#4e4e4e" stroke-width="1.15"/>
<line x1="41.6" y1="266" x2="45.9" y2="266" stroke="#686868" stroke-width="1.2"/>
<text x="35.6" y="266" text-anchor="middle" font-size="14.0" transform="rotate(-90 35.6 266)">4</text>
<line x1="41.6" y1="304.8" x2="45.9" y2="304.8" stroke="#686868" stroke-width="1.2"/>
<text x="35.6" y="304.8" text-anchor="middle" font-size="14.0" transform="rotate(-90 35.6 304.8)">2</text>
<line x1="41.6" y1="343.6" x2="45.9" y2="343.6" stroke="#686868" stroke-width="1.2"/>
<text x="35.6" y="343.6" text-anchor="middle" font-size="14.0" transform="rotate(-90 35.6 343.6)">0</text>
<line x1="41.6" y1="382.4" x2="45.9" y2="382.4" stroke="#686868" stroke-width="1.2"/>
<text x="35.6" y="382.4" text-anchor="middle" font-size="14.0" transform="rotate(-90 35.6 382.4)">-2</text>
<line x1="41.6" y1="421.2" x2="45.9" y2="421.2" stroke="#686868" stroke-width="1.2"/>
<text x="35.6" y="421.2" text-anchor="middle" font-size="14.0" transform="rotate(-90 35.6 421.2)">-4</text>
<line x1="74.8" y1="452.1" x2="74.8" y2="456.5" stroke="#686868" stroke-width="1.2"/>
<text x="74.8" y="473.1" text-anchor="middle" font-size="14.0">-40</text>
<line x1="116.6" y1="452.1" x2="116.6" y2="456.5" stroke="#686868" stroke-width="1.2"/>
<text x="116.6" y="473.1" text-anchor="middle" font-size="14.0">-20</text>
<line x1="158.4" y1="452.1" x2="158.4" y2="456.5" stroke="#686868" stroke-width="1.2"/>
<text x="158.4" y="473.1" text-anchor="middle" font-size="14.0">0</text>
<line x1="200.2" y1="452.1" x2="200.2" y2="456.5" stroke="#686868" stroke-width="1.2"/>
<text x="200.2" y="473.1" text-anchor="middle" font-size="14.0">20</text>
<line x1="242" y1="452.1" x2="242" y2="456.5" stroke="#686868" stroke-width="1.2"/>
<text x="242" y="473.1" text-anchor="middle" font-size="14.0">40</text>
<line x1="283.8" y1="452.1" x2="283.8" y2="456.5" stroke="#686868" stroke-width="1.2"/>
<text x="283.8" y="473.1" text-anchor="middle" font-size="14.0">60</text>
<text x="183" y="493.3" text-anchor="middle" font-size="14.0">Time (d)</text>
<text x="13.2" y="356.9" text-anchor="middle" font-size="14.1" transform="rotate(-90 13.2 356.9)">Weighted Residuals</text>
<g clip-path="url(#c4)">
<path d="M420.5 342.6 L520 343.6 L578.8 338.9 L672.3 327.3" fill="none" stroke="#111" stroke-width="1.3" stroke-dasharray="5 2"/>
<line x1="410.6" y1="343.6" x2="684.2" y2="343.6" stroke="#6e6e6e" stroke-width="1.2"/>
<polyline class="pt" points="456.4,329.8 470.1,340.8 670.8,337.8 519.3,310.8 438,336.3 519.9,399.5 437.8,318.6 519.9,384.5 470.1,336.9 519.3,349.9 520,326.1 420.3,341.8 470.6,346.8 420,353.9 428.2,353.6 495.8,336.3 438.3,334.3 520.3,354.7 438.4,347.2 438.5,360 420.8,349.2 438.5,309.5 488.1,333.6 420.7,337.1 420.4,331.7 420.1,342.1 495.6,338.3 470,319.4 461.7,361.6 520.3,341.1 520.3,353 469.9,316.7 519.6,333.3 442.1,361.1 438,377 507,310.9 507.1,366 507.2,366.9 420.1,322.2 520,284.4 460.2,307.9 438,343.4 420.2,352.8 519.6,337.6 420.3,352.3 506.8,321.8 519.7,337.4 420.8,317.4 470.5,362.2 519.7,372.7 496.1,333.7 439.6,331.4 420.5,363.9 420.7,352.4 520.1,376 520.8,289.3 481.4,330.6 450.6,365 644.8,342.6 420.6,344.2 438.9,360 519.9,374.1 437.9,340.8 462.9,377.4 438.4,335.1 420.4,370.1 470.5,361.2 438.2,330.1 496.4,306.8 519.9,373.3 438,314.9 667.8,319.4 439.6,365.2 470.1,306.3 515.2,335.5 420.7,342.1 420.8,347.6 433.2,357.9 520.2,370.7 506.2,312.1 506.5,301.8 507.1,346.5 438.2,342.9 495.8,320.8 438.8,328.5 438.1,345 438.5,343.2 438.3,323.9 470.1,322.5 458.1,370.3 447.7,354.8 432.1,349.1 470.9,344.5 519.7,360.8 420.5,335.5 438.1,367.3 420.9,352.8 470,381.1 453.8,312.8 520.2,351.2 438.4,357.5 438.2,340.2 470.5,295 470.2,326.9 470.4,301.9 500.7,345.8 420.5,345.9 506.8,387 519.9,349.4 481.5,377.6 481.7,371.7 501.6,340.1 490.7,365.5 438.4,342.4 481.6,346.4 576.2,364 519.6,339.2 470.5,365.7 506.6,315.5 470,353.2 506.5,301.4 438.3,340.1 420.3,358 469.9,388.2 488.3,361.8 470.1,349.4 507,321.8 438.3,330.7 438.5,354.9 470.2,323.3 438.2,331.4 420.5,339.6 465.5,316.3 520.4,332.2 420.6,363.9 438.3,365.4 446.1,315.2 459.4,334 470.2,332.2 470.6,341.5 470.2,301.5 520,348.9 519.7,318.1 519.9,330.2 420.2,315.9 575.8,369.8 470.3,351.6 423.5,349.4 431.8,381.1 470.2,330.6 507.3,364.7 481.9,329.3 438.3,336.7 520,334.1 519.8,324.7 420.7,319.8 496.5,340.9 420.6,343.5 438.2,349.3 438.1,346.7 520.2,325.4 420,344.1 507,329.8 427.5,355.8 506.9,377.4 438.4,364.8 426.4,339.5 470.5,364.2 420.7,367 495.6,377.4 520,341.9 481.3,365.8 457.5,350.1 447.1,339 458.2,338.8 470.1,348.1 438.2,357.9 420.4,333.6 448.8,338.1 420.3,314.5 420.7,332.1 549.1,348.5 438.4,380.1 520.5,343.8 496,341.2 470.6,302.1 420.5,327.2 438.8,321.8 420.5,331.7 470.4,346 420.2,323 420.7,321 506.7,296.3 470.6,371.2 420.1,303.8 440.7,370.5 519.9,348.3 470.3,333 486.1,326.1 507.5,318.8 438,346.3 470.3,327.2 420.2,373.5 470.6,336.7 507.1,330 438,350.3 520.5,341.1 470,317 470.7,375.1 420.4,322.9 438.2,342.5 486.4,345.7 662.9,322.3 520.2,326.6 470,330.3 506.8,329.7 514.9,320.9 438.4,380.2 520.4,368.8 673.1,396 447.5,355.2 496.1,348.5 438.3,362.5 423.9,375.5 506.8,315.1 506.6,322 520.6,312.3 438.4,322.6 420.7,339.5 458.7,332.7 470.2,337.6 506.8,343.1 520,359.8 420.8,346.9 438.5,348.2 420,325.5 430.2,339.3 420.6,335.2 519.8,335.6 506.7,352.2 438.1,340 470.2,319.2 430.3,355.8 420.6,362.4 487.4,343.4 477.1,337.9 420.2,361.8 506.7,369.6 420.6,343.5 470.3,326.4 438.1,357.7 428.9,341.6 673.1,344.6 496,338.8 506.7,370.5 420.4,343.2 470.4,377 507.2,321.7 507.1,324.5 432.2,380.8 520,352.1 470.4,333.6 507.1,350.6 420.9,349.6 470.4,341.3 499.6,343.8 438.1,346.1 420.9,308.4 420.5,322.9 520.2,357.6 496.5,356.1 437.9,330.7 420.9,349.3 420.7,369 420.8,345.4 507,312.8 520.2,380.4 438,353.2 420.4,356 429,362.6 509.6,363.3 469.9,318.6 438.6,351.5 420.4,355.1 445,335.4 520,277.6 438,348.1 512.7,311.2 499.8,326.2 496,350.2 437.8,352 464.3,338.1 506.6,378.1 470.1,355.7 507.1,328.3 433.8,367.1 438.9,351.8 420.3,353.8 464.6,330.3 438.6,359.4 438.1,358.3 447.4,334.3 438.2,355.8 443.2,353.2 453.9,344.4 501.4,337.5 420.6,337 438,326.3 432.4,333.8 520.1,364.2 438.5,329.3 420.5,335.8 470.7,334.1 423.1,339.2 428.7,359.9 420.5,361.2 482.5,345.5 420.4,353.6 437.9,330 458.1,352.4 482.2,345.6 519.7,354.4 434.2,321.5 520.1,366.5 449.9,329.2 507,362.7 519.7,349.4 439.5,314.9 519.7,388.6 438.8,365.3 420.7,335.7 420.3,305.2 470.3,345.8 506.8,362 507,346.8 520.2,337.3 495.1,423.1 461.6,346.5 519.7,346.7 506.7,321.5 438,333.4 520,332.8 644.8,268.9 470.5,335.4 506.9,315.9 506.7,367.2 462.7,324 520.1,354.7 507,372 486.4,350.2 482.1,307.8 496.4,347.3 506.8,382.2 470.4,322.4 470,359.7 420.2,370.7 506.5,346 519.8,315.1 438.4,346.1 520,332.4 420.6,375.1 438.2,313.1 437.8,324.3 420.1,366.7 470.4,365.6 520,349.1 488.8,347.3 520.1,337.7 470.3,358.5 457.5,338.9 520.2,310.1 506.6,345.1 420.6,327.3 520.1,340.3 506.8,353.8 438.2,326 438.2,319.5 470.2,337 506.8,340.7 420.6,351.6 520.3,358.4 459.6,350 506.7,324.5 520.1,368.4 458.6,351.1 470.4,318 476.4,351.2 470.1,347.5 438.2,348.4 506.7,351.8 452.7,320.4 519.9,373.1 458.9,323.3 519.9,330.1 520.3,320 495.6,383 520.2,344.5 506.7,346.8 420.4,346 470.7,329.4 420.4,341.3 506.6,357.9 420.3,336.8 520.2,377.9 470.2,327.6 421,359 662.9,311.6 427,319.6 520,395.2 438.2,334.3 519.5,374.5 520,378.2 430.8,348.6 420.8,333 520,330.7 420.3,352.2 506.1,356.6 437.9,339.7 458.1,314.3 520.2,355.7 458,341.2 520,315.9 507.3,326.5 670.1,347.5 420.4,338.5 520.1,342.1 520.1,374.4 490.3,351.5 438.3,354.7 447.9,335.2 470.2,381 420.7,336.8 506.8,360.5 447.6,360.4 506.5,346.9 519.9,388.6 470,352.2 673.1,300 495.9,364.2 461.9,332.4 420.2,366 420.4,342.3 449.9,329.4 490.5,362.5 506.6,351.6 420.2,354.5 555.8,316.4 443.8,360.7 520.2,383.7 461.1,335.5 439.5,336 520.2,315.1 469.9,329.8 458.7,365 458.5,321.4 420.5,308.4 506.6,350.1 420.2,353 496.1,338.4 448.7,337.3 519.6,380 420.3,352.3 470.2,337 420,343.8 520.1,360.9 520.1,345.4 447,352.2 438.4,335.9 420.3,353 438,319.8 438.3,319.4 433.4,323.8 470.4,347.2 431.8,370 420.5,321.5 447.6,362.8 556.6,332.9 420.7,360.9 470.4,329.1 535.5,360.7 458.8,350.4 470.4,346.2 506.9,372.4 435.1,344.2 487,371.6 420.5,358.3 420.7,341 458.2,339.6 507.3,298.6 506.9,340.3 437.7,330.7 438,359.2 420.3,343.8 420.3,358.6 420.6,368.9 469.9,383.6 495.7,343.4 444.6,364.6 437.8,349.2 439.9,354.4 420.6,333.7 446.7,366.9 520.2,333.7 423.5,369.3 420.3,364.3 430,368.3 673.1,371.7 520.1,368.6 433.9,329.2 420.7,328.5 420.6,329.9 506.8,353.2 437.9,345.1 487.6,311.9 420.2,339.7 470.2,348.2 420.6,323.3 470.2,336.9 519.2,307.6 420.3,330.3 438.4,324.8 520.1,369.9 438.3,346.2 470.2,335.1 445.2,341.4 420.5,353.1 644.8,345.5 470.3,332.9 490.6,351.2 438.7,335.1 520.1,374.2 673.5,306.7 506.9,366.1 463.6,341 439.3,334.7 506.1,375.7 470.1,327.7 506.6,396.7 519.9,335.3 420.4,337.3 420.5,357.7 420.1,371.4 438.3,326.3 461.4,364.8 420.6,325.1 438.5,331.6 507.3,344.3 506.9,306.5 452.9,340.6 431,365 420.5,343.4 438.2,340.6 438.2,366.6 420.4,346 520.4,343.5 506.6,345.6 506.8,309.6 506.8,352 454.6,353.9 448.6,340.9 458.4,335.8 470.4,353.4 513.2,326.9 420.4,342.6 495.8,344.9 420.1,328.1 495.6,349.2 438.5,320.3 438.5,343.2 460.6,327.5 420.7,362.7 470.1,360.5 520.1,339.2 438.3,325.3 519.5,331.9 420.5,334.3 495.6,346.4 576.2,332.9 425.1,340.3 438.5,334.5 470.1,343.9 437.9,356.1 506.7,382 501.3,359.5 519.3,362.2 481.3,331.1 520.5,349.7 474.9,310.9 519.7,354 495.7,351.3 445.9,359.8 470.6,330.4 507,331.8 458.3,342.6 438.6,371.7 470.3,314.4 482.1,356 460.8,310.8 495.8,322 459.3,367.7 420.2,308.2 477.5,369.3 455.7,377.3 438.5,373.2 507.3,359.2 644.8,275.7 420.8,337.1 470.1,299.1 471,345.9 420.3,328.2 420.8,347.7 470.4,361.5 507,368.3 507,388.2 507,368.2 496,354.9 438.6,321.1 506.5,382.5 420,352.3 511.9,329.8 421,352.9 470.3,353.9 420.3,345.2 420.2,343.9 470.5,390.2 420.7,330.9 520.3,360.3 420.7,359.1 491.1,364.7 437.8,344.4 438.3,319 520,377.1 481.8,317.3 486.4,343.3 438.1,344.7 470.5,319.5 470,338.8 448,300.9 506.8,367.9 496.1,330.5 458.7,347.8 469.7,338.3 506.7,356.8 506.3,318.4 496.2,349.4 506.4,350.4 520.3,322.6 461,353.3 438.4,325 462.9,353.1 469.8,328.4 470.6,373.3 519.9,354.4 486.5,332.8 519.6,353.3 520.1,346.1 420.4,320.5 420.5,362 496,381.5 420.2,340.2 438.2,332.9 496.1,346.3 420.6,371.6 438.1,354.5 495.8,324.7 507.1,336 427.1,342.2 482,331.4 488.3,318.9 431.6,322.6 420.7,332.5 470.2,335.3 438.2,310.3 470.3,361.2 520.3,329.7 425.3,310.8 673.1,315.5 447.9,362.7 444.1,342.5 506.5,359.4 519.7,329.2 470.2,361.7 419.9,366.2 510.9,362.2 438.9,328 420.5,372.2 506.7,326.4 420.5,351.4 420.4,332.2 470.4,339.5 519.9,336.4 520.1,336.5 442,330.8 506.3,330 520.2,331.9 492.9,314.2 520.2,396.4 458.3,353.1 439.2,346.7 470.1,370.4 506.7,350.1 520.1,310.1 438.2,330.6 438.5,342.9 427,317.4 519.7,382.5 670.8,326.1 453.9,322 438.7,372 470.4,359.3 470.3,355.5 420.3,351.5 420.2,299 470.5,349 458.9,324.4 520,342.5 520.2,350.7 506.2,328.2 673.1,382.4 467,354.4 420.4,346.1 520,308.9 420.8,339.7 438.3,330.6 420.7,349.2 438.3,358.4 520,349.6 519.7,363.1 454.1,328.1 420.1,349.8 438,326.9 506.7,333.5 438.3,325.8 420.6,369.6 470.5,381 506.8,318.9 507.5,375.3 470.1,361.6 470.5,302 481.7,333.8 506.9,327.6 462.3,348.5 470.1,322.6 470.3,352.7 420.7,352.4 438.2,348.7 519.6,330.7 438.2,324.1 420.4,343.5 506.9,341.6 420.5,355.6 420.1,374.5 420.5,350.4 432.2,326.6 428.6,332.5 420.3,344.2 454.4,315.7 470.4,357.2 420.5,341 420.7,326.5 458.1,348.3 481.3,320.5 458,328.3 426.2,361.4 453.7,314.8 420.3,353.5 486.8,353.3 470.2,346.9 520.1,354 420.5,345.8 438.6,356.8 507,312.9 420.5,327.2 419.7,311.8 470.4,336.6 520,303.3 506.7,315.6 458.3,351.4 420.6,321.1 462.3,367.8 420.1,349.4 420.5,331.6 429.3,336.1 470.5,318.5 431.6,344.8 462.1,335.1 507,313.8 470.6,346.6 470.4,357.3 440.2,336.9 470.3,326.7 431.8,360.2 484.9,354.3 507.4,316.6 519.9,325.8 470,335.9 495.7,369.2 470.2,318.4 458.7,368.8 496.1,344.8 420.5,326.8 488.2,310.4 422.8,304.2 506.7,336 507.2,363.3 470.3,306.5 662.9,335.8 438.6,333.3 519.8,347 491,334.1 470.5,329.8 506.9,339 438.7,343.1 486,364.6 439.6,324.7 438.4,372.3 520.2,337.5 420.1,342.6 438.8,334.2 470.2,331.3 438.3,341.8 519.8,370.3 420.5,358.8 470.1,345.3 506.8,356.6 420.7,343.6 470.2,338.7 506.8,325.1 458.4,345.7 507,306.9 470.2,312.9 470.6,359.6 519.8,336.3 438.3,350.7 519.8,331.9 440.3,343.4 457.6,330.5 438.3,341.4 496.1,317.4 437.7,330.5 470.2,373.7 495.6,332.1 470.5,329.4 507.1,373.9 469.9,338.5 496.2,353.8 519.8,334.2 673.1,358.2 438.2,319.9 420.3,318.6 511.8,336.2 497,417.3 495.6,325.8 484.7,358.2 470.5,341.3 464.9,362.9 438.2,332.8 470.7,327.6 482.2,310.9 424.3,315 470.3,317.1 438.1,355.7 520.4,325.6 420.4,335.4 420.5,323.7 425.8,361.7 506.8,340.3 673.1,387.2 433.9,355.6 438.4,356.8 506.5,317.4 420.5,357.1 519.6,316.2 424.4,324.4 420.5,344.4 458.4,345.3 470,348.1 453.7,363.5 470.2,337.3 520,341.6 470.2,372 506.8,346.2 471.2,353.8 443.3,353.6 420.8,333.1 453.1,340.7 516.9,338.7 520,347 420.6,351.8 438.2,338.7 435,357.5 495.3,324.5 470.3,368.2 455.9,345 438.3,330.3 486.3,369.2 420.5,352.4 420.5,315.9 519.7,310.2 470.3,369 453.2,354.8 435.8,320.5 520.1,311.2 438.3,340.1 507.3,321.1 520.1,364.1 462.8,332.3 438.2,368.5 438.4,340.5 506.9,334.8 519.8,340.4 420.8,336.2 420.3,350.2 430.7,366.7 420.6,370.4 470.6,332.7 438.1,350.6 457.4,337.8 496.2,340.8 470.4,339.1 486.4,342.3 490.6,312.7 507,322.5 470.2,344.4 470.2,365.9 452,363.6 506.8,348.1 470.2,385.5 420.7,329.2 438.7,348.6 519.9,352.9 462.8,361.2 437.9,364.7 469.9,367.9 556.6,340.7 506.9,298.9 495.8,327.5 458.9,315.6 673.1,342.6 420.7,365.5 519.9,307.3 420.6,374.2 437.8,365.1 420.7,319.4 493.2,363.7 420.3,362.2 447.4,363 495.5,319.4 438.1,340.1 486,346.1 438.1,355.5 470.3,332.4 576.2,343.6 470.1,321.6 431,338.4 470.2,368.5 461.5,350.6 426.5,331 519.9,363.7 438.7,325.9 438,331.4 507.1,332.6 519.8,361.8 438.6,339.9 420.2,319.7 519.8,361.6 520.1,374.8 420.5,325.7 438.4,312 470.5,395 458.3,347.3 506.7,326.4 470.3,341.8 575.8,361.1 519.9,312.6 447.4,328.5 420.5,340.7 461.3,343 460.9,333.2 470.4,351.5 438.2,342.4 520.3,325.6 506.6,330.6 423.1,339.2 434.2,362.1 450.3,331.1 438.1,320.2 464,348.1 506.7,361.2 447.9,339.7 495.9,445.5 470.5,300 506.9,386.6 438.5,366.9 496.2,349 520,329.1 486.9,340.5 470.4,323.8 420.4,321.9 506.5,389.9 520.2,327.8 520.4,354.3 506.6,361 420.7,340.5 426.9,332.5 556.6,349.4 420.8,355.1 520.2,308.3 461.6,339.3 437.8,344 470.6,360.5 520.3,358 496.1,338.1 439.7,354.7 470.3,353.6 420.6,370.2 438.1,305.7 455.1,312.1 438.3,347 438.2,338.4 420.3,343.7 496.5,337.3 470.1,331 438.1,375.4 470.3,326.8 437.9,339.1 438.5,377.3 470.1,320.7 424.3,354.1 438.2,331.5 506.2,354.6 427.4,338 420.6,323.2 520.5,324.5 519.7,349.4 520.2,346.1 420.3,336 470.5,366.2 520.2,335.3 519.3,336.6 473.6,343.6 470.3,325.9 453.2,321.7 506.8,314 673.5,328.1 438.2,346.2 501.2,359.5 499.3,333.6 470.2,390.1 473.8,367 506.5,334.9 507,319.9 420.5,344.4 470.2,360.5 519.8,320.7 488.9,305.8 506.9,377 469.8,347.3 438.1,341.9 520.4,320.3 420.1,364.3 470.3,392.6 520.5,348.5 437.9,344.2 419.9,371.7 438.5,360.5 470.3,329.9 420.5,342.1 495.7,349.3 453.5,366.3 438.1,323.3 462.6,337 439.9,314.4 419.9,341 430.2,344.5 470.8,327.7 438.7,359.8 482.7,327 439,350.7 506.8,390.3 469.8,339 507,323.9 470.5,332.9 506.9,294.4 438.3,348.9 506.5,336.8 438.1,354.1 470.8,314.9 496.2,368.7 519.8,319.1 506.9,336 470.1,374.7 519.7,360.4 435.6,340 421,350.6 495.9,349 420.3,360.3 437.9,348.4 420.5,337.9 501.2,338.2 486.2,371.9 486.5,352.4 463.2,312.4 458.3,317.3 507.6,375.4 420.2,321.3 520.5,381.7 506.9,325.2 519.8,324.1 507.1,370.8 506.3,364.8 520.6,334.5 438.2,377.6 483.6,313.5 486.4,341.4 510.2,337.1 469.8,312 420.3,353.5 673.1,364 495.6,362.4 520.2,307.5 469.8,356.7 420.4,342.5 506.9,375.4 443.7,354.1 485.6,378.8 438.1,347.6 470.4,374.4 519.8,313.7 438.2,328.6 507.2,368.6 519.7,342.6 427.5,365.8 519.8,328.9 486.6,361.6 519.8,327.1 645.2,339.7 448.1,371.9 433.8,326.4 420.3,329.8 470.8,331.4 506.9,394.1 519.6,315.9 423.7,372.3 548.7,332 457.2,335.1 470.3,358.2 420.4,316 520.2,317.6 459.6,331.5 420.6,320.4 420.7,336.1 420.3,371.4 470.1,357.6 486,328.1 420.4,314.7 420.8,320.3 519.9,309.6 420.6,338.8 519.9,306.4 507.1,318.1 458.6,319.7 520,349.2 420.4,326.8 507.2,334.6 470.6,327.3 486.6,342.7 519.8,378.5 457.8,284.4 645.2,313.5 420.5,332.3 470.2,379.5 486.8,330 434.5,358.6 438.5,333.4 520.5,343.4 470,327.3 470.1,321.9 507,375.6 467.5,316 481.7,366.1 495.9,323.3 520.1,346.5 470,342.3 535.9,363.8 486.5,355.8 420.4,331.7 507.1,348.3 490.9,335.7 465.3,326.6 486.7,355.6 644.8,311.6 519.9,338.6 432.9,307.5 486.1,342.2 507,351.1 535.9,348.8 448.2,346.1 420.5,325.4 470.3,347.5 420.2,333.9 487.3,379.9 506.8,340.2 507,351.6 420.4,337.9 420.7,360.6 493.4,339.2 482.2,338.2 438.1,330.9 470.4,369 519.7,327.5 447.7,318 495.9,393.7 456.3,400.8 459.2,317.8 506.9,356 519.9,322.3 555.1,331 438.3,308.4 438.8,335.6 438.2,347.1 519.6,329.6 420.6,356.4 495.9,339.1 507,317.4 470.6,297.5 506.9,360.1 495.6,319.3 481.4,325.5 420.4,351.7 520,314.6 420.2,356.9 506.7,387.3 437.9,338.2 459.1,354.8 555.5,336.8 507,365.2 470,357.3 662.9,313.5 438.2,355.1 506.7,358.8 520,357.9 420.6,357.3 423.3,350.5 507.2,359.5 465.9,352.8 470.3,330.5 520.3,335.8 519.6,345.4 420.5,320.7 519.7,377.1 486.8,365.9 438.2,330.6 470.2,342.5 438.3,369.1 507.3,361.2 507,330.6 520.1,336.7 456.5,342 420.6,310.7 420.7,355.7 420.8,326.3 519.4,360 453.8,348.7 496.2,341.9 516,382.3 420.4,316.8 429.5,323.8 495.6,350.9 453,356.3 420.5,347.7 438.6,342.1 420.5,326 506.9,322.4 470.6,334.3 490.7,371.7 438.5,341.1 470,326.2 420.3,352.8 420.9,338.7 420.4,336.9 506.8,352.9 520.4,309.6 420.1,338.8 470,326.3 470.3,324.9 470.2,307.5 447.8,337.3 506.4,371 470.8,319.2 420.5,359.3 515.6,361 507.1,322.1 420.7,347 506.5,349.7 520,386.2 520.3,341 519.9,335.3 438.3,361.4 506.6,345.7 520,316.9 420.8,344.7 486.6,366.6 519.9,356.7 448.4,344.9 434,373.5 481.9,308.1 425.2,337.3 507.4,358 470.2,334.2 496.1,322.7 437.7,344.3 506.3,314.3 438.3,371.8 470.3,364.6 673.1,327.1 506.8,350.9 495.8,324.2 484.8,384.4 554.7,334.9 457.6,357.2 431.9,349.9 520.3,357.9 470.3,315.1 520.2,340 438.1,332 420.7,307 482.8,360.6 496.2,331 420.2,322 457.8,347.8 470.3,329.6 443.8,317.9 438.1,328.5 505.7,409.6 496,334 428.5,362.7 433.9,342 506.5,317.4 470.2,352 520.2,348.1 438.1,321.9 520,365.9 520.6,346.7 506.6,345.2 470,327.7 506.9,375.7 506.8,419.3 507,356.2 495.7,338 506.3,342.7 420.5,322.5 420.4,343.1 535.9,342 520.1,363.2 495.6,343 430.5,338.8 506.9,322.4 470.3,352.5 447.4,319.3 485.9,334.2 444.8,347.6 440.4,347.6 506.8,374.5 457.8,330.4 470.4,374.4 434,332.9 484,320.1 467.5,312.3 445,320.2 438,353.7 519.6,298.9 507,356 420.7,324.9 453.3,343.9 507,327.6 519.7,348.3 470.4,319 506.9,344.9 438.7,329.1 470.1,365.9 420.7,337.5 506.7,400.5 506.7,321.8 476.5,355.7 470.5,317.7 420.5,341.6 433.6,361 470.4,334.4 470.3,324.5 420.5,374.1 438.4,346.4 506.7,309.7 439.4,327.3 420.5,333.5 519.9,331.6 519.6,362 507.1,327.4 470.4,319.2 506.7,354.8 438.4,358.1 438.5,314.5 438.2,321.6 486.3,345 437.7,333.3 459.7,365 470.3,350.2 420.4,332.5 431.7,343.5 437.9,367.1 520.1,364.4 438.4,349.4 506.9,306.3 495.6,369.3 496.1,338.8 420.8,322.7 495.5,304.4 663.3,318.4 438.4,323.5 438.9,336 420.6,326 438.2,350.1 506.9,360.1 420.6,362.7 437.8,334.7 507,362.6 438.5,319.4 520,348.9 457.6,367.1 496.4,354.6 470.2,349.6 429.8,329.2 438.4,320.9 469.9,329.4 462.7,353.4 496.3,335 470.2,374.1 519.8,371 438.2,321.1 438.2,333.4 470.5,319.2 437.8,340.9 420.4,337.2 519.8,358.2 556.6,343.6 470.2,367.9 470.1,327.1 458.1,361.9 469.8,343 465.3,334.3 644.8,309.7 420.8,337.3 438.5,338.5 495.8,309.2 470.4,355 556.6,355.2 425.7,338.7 462.1,305.3 420.3,337.3 496.1,338 486.6,342.8 520.3,350.6 520.2,379.1 470.4,337.3 506.2,301.4 454.1,332.1 420.3,345.1 487.4,342.4 438.4,346.5 482.4,325.2 507.1,296.9 438.2,367.5 470.7,362.4 461.7,319.9 420.6,356.2 470.6,324.1 438.2,328.2 420.5,331.9 520,364.3 556.6,371.7 470.1,350.3 437.8,319.7 520.1,358.1 420.4,310.8 506.6,365.5 470.4,328.7 482.8,347.4 496,330 420.4,340.1 420.4,349.4 435.9,360.7 438.3,330.6 438.4,376.8 506.8,340.7 426.4,336.2 519.9,346.9 438.7,353.2 519.9,316.8 420.5,341.2 470.5,356.3 432.7,339.9 486.6,341.8 470.1,336.8 420.3,338.4 462.9,366.4 459.3,342.3 438.2,348.1 495.8,355.8 470.1,373.3 420.5,343.3 438.1,313.2 437.8,378.1 438.2,343.1 470.2,365.4 486.4,334.1 428.1,375.9 453,354.2 438.1,346.3 461.5,326.3 420.2,329.9 458.4,350.2 520.4,365.1 420.6,351.6 470.3,339.6 438.4,348.6 433.4,325.5 457.8,354.3 519.9,357.3 438.5,365.7 420.7,340.6 433.3,363.9 506.9,348.8 506.3,358.4 438.2,318.7 420.3,329.4 519.9,304.7 470.1,308.6 460.1,351.7 470.2,357.4 425.9,366.2 507.3,400.9 420,347.2 453.3,337.9 519.9,374.2 490.6,349.2 470.7,351.1 535.9,339.7 438,363.2 434.4,370.3 438.5,363.7 520.1,354.8 438.4,378.1 438.3,355.3 438.6,310.7 420.4,359.2 673.1,352.3 506.8,369.7 447.6,371.9 437.9,318.4 420.4,358.5 476.1,363.7 506.3,347.2 420.5,320.7 495.7,349.8 445.2,341.4 506.9,312.1 507.3,338.5 520.1,333 470.4,384.8 420.1,355.8 470.5,294.8 494.4,420.2 438.1,327.5 420.3,313.2 420.8,321.9 470.3,337.9 438.1,358.1 420.5,348.9 520,363.1 496.3,388.4 442.8,333.7 470.4,317 506.9,366.2 520,336.3 481.7,319.4 520.2,291.6 506.8,365.8 519.8,355.4 470.4,343.4 458.4,339 461.1,386.9 506.5,332.9 429.6,351.8 519.7,328.3 486.3,354.5 437.8,353 458.5,320 438,371.9 507.2,332.4 496,329.1 420.7,347.9 520.1,351.1 464.5,353.4 470.5,373.1 490.3,352 495.7,342.7 431.4,349.7 420.7,354.2 438.3,340.7 420.4,344.5 420,365.8 438,343.1 457.7,326.6 500.4,348.4 495.6,353.8 520.2,358.1 495.6,378.2 470.2,309 439.2,331.3 420.8,318.5 470,344.3 437.9,364.4 438.4,330.9 420.5,349.8 470.1,343 470.6,337.6 506.9,358.9 470.6,389.6 507.1,344.8 506.7,366.2 457.1,275.7 461.8,352.8 516.7,341.9 453.8,333 438.3,351.9 482.8,365.6 420.8,332.7 496.1,313.7 495.7,340.9 470,341.3 470.2,345 506.6,361.7 506.5,314.2 520.2,325.2 470.1,343 420.7,309.2 520,387.7 458.9,326.1 520.1,325.4 470.4,383.7 520.1,335.1 458.2,329.9 485.4,314.4 437.9,342 470.5,329.8 496,347.5 437.9,337.9 470.6,362.3 496,312.3 438.5,350.9 470.7,366 458.1,344.6 461.2,329.3 506.7,313.5 470.5,331.4 470.4,382.1 470.1,340.1 438.2,298 420.3,364.3 520.4,360.1 520.2,344 506.6,323.6 520.1,323.8 438.1,350.3 446.3,362.4 520.1,370.8 506.9,304.7 507.1,358 507.5,311.2 506.9,341.5 420.3,316.3 673.1,398.9 506.6,361.9 482.4,341.8 420.6,354 520.3,342.7 459.3,356.2 469.9,367.3 470.4,329.6 470.3,379.1 520.1,383.9 470.3,363.2 420.8,349.7 482.7,401.8 461.3,340.4 555.8,325.2 453.7,339.2 420.6,351.1 507.1,308.1 506.6,336.2 420.6,345.5 420.6,352.7 420.7,332.6 420.5,358.9 438.6,363 506.6,337.1 420.6,360.4 470.3,343.9 506.5,339.8 556.6,360.1 420.1,365.1 420.6,312.3 470.4,332.3 470.5,338.1 420.6,334.7 470.3,351.1 495.7,313.1 453,349.6 520.2,308.2 470.1,302.6 520.3,355.5 447,358 458,341 520.4,320.5 420.8,369.1 438.1,372.4 420.4,349.1 439,336.4 420.3,321.3 457.4,309.4 470.6,331.8 420.4,343.9 438.3,339.9 420.2,350.8 496.1,345.4 507.2,334.2 420.1,345.1 667.8,339.7 506.8,367.1 438.1,353.1 506.9,325.5 420.4,344.7 420.5,333.8 507.1,297.9 556.6,329.1 420.6,327.6 512.6,345.5 438.2,328.1 428.3,344.2 487,347.8 520.1,368.8 420.7,370.4 470.6,307.7 420.5,370.2 506.4,304.6 486.2,362 470.4,297.9 420.7,342.5 507.4,343.6 420,355.3 420.4,328.5 519.9,332 438.5,356.5 420.6,339.5 496.2,319.7 458.1,358.6 507.2,361.8 519.9,348.1 507.5,350.4 470.8,303.9 438.4,327.1 420.7,358.8 454,339.2 438.5,367.7 495.8,347.1 520,330.4 520.6,323 495.8,355.1 438,342.4 458.2,345.2 466.5,304.4 496.1,379.2 437.9,307.4 470.1,316.7 506.7,357 480.5,330.7 489.8,340 438.3,361.2 420.7,330 420.7,345.7 506.8,308.6 438.2,349.8 470.3,325.5 470,345.7 520.2,340.3 470.6,367 495.9,322.5 507,328.7 470.6,371.4 506.7,323.4 520,367.1 447.7,321.1 496,354.2 420.4,343.2 437.9,346.1 470.2,332.7 496,358.5 458.7,341.8 490.9,352.7 438,355.2 420.8,345.3 507.2,376.9 420.6,310.1 420.4,321.7 470.3,344.3 438.3,345 498.5,358 438.3,325.1 470.1,326 470.3,373.4 438.1,336.4 442.9,351.8 506.8,364.8 519.7,353.9 519.7,345.5 470.4,312.2 438.3,340.4 420.4,336.4 420.4,315.5 576.2,339.7 457.7,319 458.5,329 481.4,365.3 420.5,333.3 470.3,355.5 520,322.2 470.3,359.3 437.8,307.2 481.7,341.7 470.1,329.8 513.9,348.6 495.9,375.1 470,354.4 420.7,315.8 506.3,336.7 552.5,339.7 420.3,343.4 499.7,360.4 506.8,286.4 644.8,336.8 470.2,387.5 470.6,331.8 420.7,337.6 512.1,307.8 461.7,319.9 420.6,346.9 437.8,324.9 506.8,375.5 420.4,359.4 667.8,314.5 438.3,323.5 470.2,346.6 507.2,324.5 420.4,333.6 482.3,340 458.3,339.1 470.5,364 506.7,322.3 549.8,350.4 470.2,362.1 470.5,362.1 490.7,341 520.1,340.3 520.2,352.4 519.9,330.2 420.3,370.9 420.6,343.8 506.8,400.6 475,375.6 470.1,345.5 433.3,374.6 520,376.5 456.4,326 496.2,302.1 420.6,364.7 438.3,343.5 420.3,370 438.1,347.9 553.6,342.6 520.2,352.1 506.4,335.4 458.6,362.2 495.8,358.5 486.4,353.4 431.2,348.4 457.8,363.6 435.9,358.7 507.4,344.2 481.1,364.9 495.8,325.7 437.9,351 421.2,359.2 506.8,327.4 506.7,322.1 519.6,337.6 438.2,338 495.6,352.4 420.5,368.9 470.3,351.1 520.3,333.3 438.3,381.3 507,365.8 496.1,382.5 420.4,338.1 470.3,337 520.2,365.4 438.4,344.2 420.5,323 425,357.4 438.1,371.5 438.3,335.7 470.1,336 458.4,371.1 424.8,377.7 506.9,393.2 519.9,361.3 420.3,354.3 457.1,327.9 420.6,374.6 673.1,377.6 438.5,371.3 462.3,335 446.6,325.8 473.8,338.8 470,384.5 421,361.1 495.9,324.4 458.1,336.6 420.5,321.6 420.7,363.9 520,362.8 482.3,359.4 520.4,315.5 485.9,332.7 520.3,342.2 420.7,342.7 506.4,314.9 520.4,290 428.3,355.5 420.6,348.2 520.4,318.2 506.9,339.7 519.7,342 470.3,342.2 520,348.2 507.2,372.1 506.9,378.8 469.9,348.5 506.5,306.4 495.6,330.1 506.5,356.3 470.4,325.3 507,370.2 470.2,366 520.2,321.1 439.3,345 438,337.9 453.4,330.4 453.2,355.8 470,316.8 507.2,368.8 420.4,335.3 420.5,333.5 481.9,355.9 519.9,331.6 470.7,363.3 486.2,332.7 457.9,366 427,352 420.6,338.8 506.9,392.3 519.8,341.4 506.9,358.4 495.8,385.1 487,350 520,352.1 514.5,343.9 438,340.2 506.9,327.1 420.3,360.1 495.5,362.2 520.3,352.1 421,330.7 520.2,354.2 420.1,343.1 520.3,350.7 470.2,328.3 668.2,324.2 455.1,335.3 644.8,315.5 420.6,368.9 520.4,347 420.4,347.9 420.4,338.7 438.1,332.2 438.3,336.3 506.9,336.5 420.2,335.9 644.8,329.1 460.8,334.5 673.1,319.4 470.3,327 520.1,369.9 490.9,372.6 462.1,355.2 482.3,316.6 470.1,340 506.7,360.3 519.4,342.7 438.9,309.8 437.9,359.8 520.1,363.2 506.6,375.9 420.9,346.8 437.8,360.5 438.5,353.9 458.4,314.8 511,311.5 420.4,325.2 470.5,376.9 470.3,346.6 507.1,318.3 507,334.3 662.9,332 458.8,341.6 420.8,324.3 462.1,339.9 457.3,347.6 575.8,341.7 420.2,311 431.1,355.1 461.6,334.3 453.4,373.8 470.8,316.9 420.4,318.3 507,329.5 520.3,326.9 438.2,365.4 438.4,342.5 506.5,367.6 438.5,367.9 520.2,293.4 470.3,332.9 507.1,329 507,371.5 437.9,338.2 457.5,360.8 507,364.8 520,315.7 662.9,324.2 470.4,357.5 470.2,332.5 519.9,351.3 520.1,378.3 428.3,352.8 420.6,359.8 420.7,321.3 438.1,345.4 431.7,355.2 420.6,369.3 426.9,357.2 470.1,368.3 441.6,317.1 420.6,335.6 486.3,342.9 520.4,346.9 458.5,320.6 519.9,317.7 495.7,337.8 520.1,353.2 438.1,362.6 437.9,340.4 447.7,348.6 519.9,331.3 453.4,317.2 420.3,349.3 470.4,341.8 470.4,341.7 420.6,374.8 434.1,340.9 442.5,327.7 507.2,331 448.1,342.6 495.6,384.3 507,324.6 439.1,334.3 470.1,327.5 420.5,304.9 420.3,318.9 506.9,334.1 520,378.1 457.8,345.3 486.4,327.5 420.4,352 420,330.3 469.9,367.8 420.8,331.3 515.3,347.6 470.3,337.3 495.4,341.3 506.5,351.6 520.3,322.8 519.4,314.2 507.1,336.1 438.2,363.1 495.8,341.7 458.4,341.2 438.7,351.3 520,357.1 438.4,332.9 420.9,345.5 470.4,338.4 453.6,332.7 420.5,349.5 438.2,338 520.3,304.1 438,342.6 442.8,376 420.8,343.9 519.8,347 506.7,358.2 438,352.3 438.3,358.3 420.8,360.5 490.6,361.3 507.3,320.3 470.2,314.6 462.4,355.9 420.5,313 438.4,312.5 470.3,342.3 437.9,341.4 520.4,340.7 496.2,329.8 450.3,372.1 519.7,330.4 420.4,337.2 516.3,316.2 519.7,324.6 470.1,361 548.7,319.4 438.5,331.8 436.2,322.5 495.5,370.9 438.2,369.6 495.8,339.9 495.4,320.2 438.6,368.1 470.6,386.3 438.1,361.5 420.6,332.9 506.6,382.9 495.8,352.1 470.2,344.4 520.4,344.6 420.7,329.8 423.9,330.7 500,362.6 432.6,343.3 470.2,332.1 470.3,357 470.4,318.6 520.1,318 438.1,328.9 438.1,332 420.3,323.1 520.3,369.6 470.3,349.3 506.6,362.1 486.4,343.1 519.8,340.1 437.9,343.7 426.4,348.6 420.6,317.5 504.9,415.4 470.6,360.4 431.7,367.5 520.1,318 507.3,349.3 438.6,324.2 519.9,362 495.8,341.1 420.4,354.6 507,340.5 470.3,314.3 420.3,339.1 438.2,329.9 420.3,351.3 469.9,316.3 507.1,311.9 438.2,331 470.4,357.7 506.5,318.9 495.9,432.8 520.1,338.9 420.2,325.2 457.9,371.9 536.2,344 437.6,338.6 438.3,360.6 424.5,318.2 438.1,375.5 423,359.4 438.5,352.5 420.4,363 519.8,370.1 470,307 486.1,329.4 420.5,354.2 420.4,371.3 496.1,326.7 439.2,352.2 520.5,308.2 470.1,336 438,330.2 481.9,366.1 424.9,347.7 438.4,321.6 470,331 553.2,346.5 433.1,324 420.6,307.5 462,360.5 495.6,313.5 438.3,358.6 420.6,322 486.4,367.1 470.4,360.3 431.9,329.9 491.2,331.5 438.5,365.8 506.8,331.3 470.2,373.3 438.6,346.8 506.8,311.6 438.2,289.3 520.5,345.4 438.5,356.6 432.1,351 420.6,337.1 431,345.5 482.4,343.4 437.6,348.9 438.2,328.7 431.9,317.8 437.8,346.8 424.7,317.4 506.5,331.7 470.3,348 438.3,338.4 420.7,340.9 506.8,303.1 420.3,338.9 520.1,362.4 520.3,339.3 438.1,355.9 470,327.9 438.4,367.7 469.9,335.6 480.8,294.1 575.8,314.5 520,308.8 496.4,344 424.9,342 470.2,334.7 520,330.2 438.5,344 507.1,396.1 420.5,349.1 457.3,348.1 486.9,379.4 470.1,333.4 470.3,342.9 486.6,347.3 420.4,315.5 506.8,359.7 438.1,343.5 457.7,347.8 520.4,353.9 519.9,364.9 461.9,320.3 519.8,359.6 520,374.7 447.7,314.5 448.5,351.3 453.7,347.3 420.6,365.7 519.9,348.8 458.7,342.2 420.7,333.6 519.9,334.3 470,324.4 451.7,334.5 458.7,340.7 506.8,306.9 420.1,330.3 470.4,360.1 438.6,348.8 438,334.3 420.5,329.6 519.5,343.1 520.4,316.2 442.7,366.2 470.5,374.3 519.6,353.7 507.1,307.5 470.3,330.1 519.7,336.5 486.6,340.1 470.3,346.4 519.9,329.8 469.9,312.2 420.4,352.4 461.7,357.4 430.4,325.1 438.1,362.8 496.5,307.3 519.9,303 420.7,353.7 438.5,364.4 515.4,354.7 457.8,328.9 421,362.7 506.3,352.3 470.4,343.5 470.3,313.7 440.2,338.2 470,295.3 469.9,325.4 438.4,335.1 438,365.3 470.2,336.9 453,384.8 470.5,347.4 440,343 496.1,313.3 420.5,365.9 433.9,314 506.5,323.7 520,328.3 420.7,347.4 576.2,376.6 486.8,302 496.1,334.9 420.6,334 420.6,338.3 453.6,377.7 486.9,316.9 507.4,326.2 506.7,310.2 486.7,352.4 438.2,357.8 463.2,352.8 438.3,348 438.3,339.7 470.2,315.5 506.6,327.5 453.8,329.4 450.7,386.2 667.8,330 470.6,348.9 520,369.4 495.9,401.8 438.1,364.5 520.1,339 420.5,342.1 520.3,358.5 438.7,345.8 420.4,349.8 469.9,354.6 461.5,326.6 420.1,339 438.3,354.5 495.3,343 495.7,361 449.9,399.9 520.2,357.5 450.1,371.9 507.5,324.8 519.8,338.3 506.7,330.1 675.4,326.1 507.1,322.6 495.5,347.6 506.7,324 420.6,345.4 452.2,335.3 420.6,332.8 420.7,343.9 519.9,325.9 520,353.2 506.8,368.2 470.3,374.3 506.8,337.9 507.2,309.2 434.4,359.7 458.6,318.8 438.6,341.5 437.9,352.9 438.5,341.7 470.6,338.4 506.3,323 423.8,321.7 506.8,363.6 507.3,367.6 438.3,350.2 447.4,343.5 420.5,363.6 507.1,353.9 519.9,328 490.7,350.9 470.3,358.6 420.6,349.8 420.4,319.1 506.3,333.5 520.3,332.5 496.2,314.8 667.8,334.9 420.4,331 520.2,314.8 420.6,359.2 470.1,330.7 438.3,361.6 520.3,360.4 507,337 520,332.8 420.4,363.9 662.9,291.2 520.2,349.3 483.5,407.6 423.3,333.8 496,379.1 420.4,349.9 520,331.4 470.3,363.3 438.7,355.2 429.8,348.2 420.5,321.4 496,316.8 507.2,340.1 453,326.2 438.4,315.3 420.4,367.2 496.6,351.4 438.3,368.7 425.1,344 470.4,333.9 464,318 462.4,357.1 430.9,371.8 438.4,340.3 420.4,352.4 438.6,359.3 470.1,330.7 506.8,333.6 420.5,347.3 438.3,362.3 437.7,340.9 420.4,346.5 437.8,366.4 420.8,315.2 470.2,376.9 470.1,313.6 470.1,373.9 486.8,331.7 420.5,341.3 520.4,346.2 420.8,315.4 507,350.1 461.4,343.4 506.6,337.7 507,366.7 520.2,307.2 438.5,337.7 434.8,346.1 420.4,354 495.8,330.9 519.8,350.3 470.4,309.3 470.5,372.4 470.6,360.4 420.2,352.5 470.1,333.3 438.5,326.7 470.2,346.4 438.2,269.9 462,325.5 428.7,322.2 486,351 520.1,349.4 420.3,351.7 420.5,347.2 470.2,329.9 667.8,349.4 507,383.1 507,316.3 520,329.4 506.9,314.1 495.5,339.8 462.6,346.4 453.7,330.3 470.1,333.3 438.3,334.9 519.9,361.9 470.2,325.2 470.1,337.7 437.6,349.4 437.8,306.9 447.4,329.2 420.9,334.3 470,323.6 454.6,373.2 470.3,316.3 420.6,335.2 420.7,352.6 491,346.9 438.6,338.3 438.6,346.4 470.2,330.9 438.2,330.1 438.5,336.8 490.5,352.6 420.7,331.5 575.8,334.9 438.4,355.5 420.7,354.2 462.2,349.9 420.4,342.7 492.1,327.8 420.1,336.6 519.3,399.9 506.8,335.2 470.3,359.8 520.4,343.5 444.4,335.7 462.3,337.6 470.1,369.5 423.4,366.6 474.7,343.8 428.1,353.7 506.6,376 432.3,319.6 438.1,342.8 423.3,331.8 438.2,353.2 506.8,291.5 673.1,305.8 470.3,344.4 457.8,376.1 506.6,357.9 510.3,361.8 420.5,327.3 444.2,329.9 519.9,381.4 465.8,366.4 470.7,348.4 500.3,328.3 438.3,329.9 495.9,427"/>
</g>
<rect x="410.6" y="262.3" width="273.6" height="189.8" fill="none" stroke="#4e4e4e" stroke-width="1.15"/>
<line x1="406.3" y1="266" x2="410.6" y2="266" stroke="#686868" stroke-width="1.2"/>
<text x="401.8" y="266" text-anchor="middle" font-size="14.0" transform="rotate(-90 401.8 266)">4</text>
<line x1="406.3" y1="304.8" x2="410.6" y2="304.8" stroke="#686868" stroke-width="1.2"/>
<text x="401.8" y="304.8" text-anchor="middle" font-size="14.0" transform="rotate(-90 401.8 304.8)">2</text>
<line x1="406.3" y1="343.6" x2="410.6" y2="343.6" stroke="#686868" stroke-width="1.2"/>
<text x="401.8" y="343.6" text-anchor="middle" font-size="14.0" transform="rotate(-90 401.8 343.6)">0</text>
<line x1="406.3" y1="382.4" x2="410.6" y2="382.4" stroke="#686868" stroke-width="1.2"/>
<text x="401.8" y="382.4" text-anchor="middle" font-size="14.0" transform="rotate(-90 401.8 382.4)">-2</text>
<line x1="406.3" y1="421.2" x2="410.6" y2="421.2" stroke="#686868" stroke-width="1.2"/>
<text x="401.8" y="421.2" text-anchor="middle" font-size="14.0" transform="rotate(-90 401.8 421.2)">-4</text>
<line x1="420.5" y1="452.1" x2="420.5" y2="456.5" stroke="#686868" stroke-width="1.2"/>
<text x="420.5" y="473.1" text-anchor="middle" font-size="14.0">0</text>
<line x1="495.9" y1="452.1" x2="495.9" y2="456.5" stroke="#686868" stroke-width="1.2"/>
<text x="495.9" y="473.1" text-anchor="middle" font-size="14.0">200</text>
<line x1="571.3" y1="452.1" x2="571.3" y2="456.5" stroke="#686868" stroke-width="1.2"/>
<text x="571.3" y="473.1" text-anchor="middle" font-size="14.0">400</text>
<line x1="646.7" y1="452.1" x2="646.7" y2="456.5" stroke="#686868" stroke-width="1.2"/>
<text x="646.7" y="473.1" text-anchor="middle" font-size="14.0">600</text>
<text x="547.7" y="493.6" text-anchor="middle" font-size="14.1">Predicted Concentration (ng/mL)</text>
<text x="379" y="356.9" text-anchor="middle" font-size="14.1" transform="rotate(-90 379 356.9)">Weighted Residuals</text>
</svg>
</body></html>
